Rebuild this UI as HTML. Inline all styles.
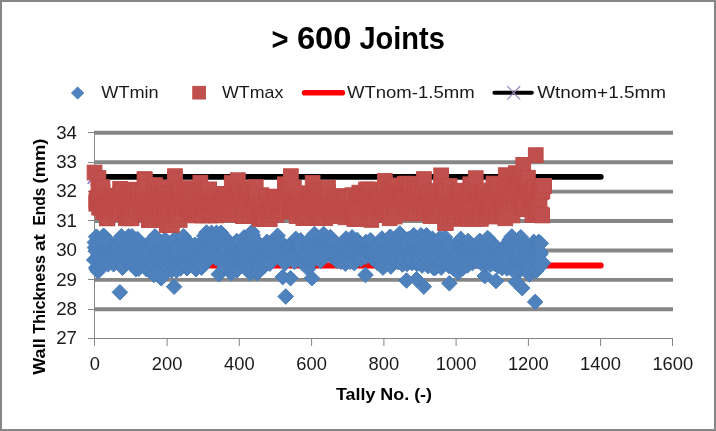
<!DOCTYPE html>
<html lang="en"><head><meta charset="utf-8"><title>&gt; 600 Joints</title>
<style>
html,body{margin:0;padding:0;background:#fff;}
body{width:716px;height:431px;overflow:hidden;}
svg{display:block;}
text{font-family:"Liberation Sans",Arial,sans-serif;fill:#000;}
svg{will-change:transform;}
.b{font-weight:bold;}
.g line{stroke:#868686;stroke-width:3.9;}
.ax line{stroke:#868686;stroke-width:1;}
.lab text{font-size:18.2px;fill:#1a1a1a;}
.leg text{font-size:16.6px;fill:#1a1a1a;}
.mn path{fill:#4F81BD;stroke:#4A7EBB;stroke-width:1;}
.mx rect{fill:#C0504D;stroke:#BE4B48;stroke-width:1;}
</style></head><body>
<svg width="716" height="431" viewBox="0 0 716 431">
<rect x="0" y="0" width="716" height="431" fill="#fff"/>
<rect x="1" y="1" width="714" height="429" fill="none" stroke="#868686" stroke-width="2"/>
<text class="b" y="48.8" font-size="31.8"><tspan x="271.5" dy="0.9" textLength="17" lengthAdjust="spacingAndGlyphs">&gt;</tspan><tspan x="296.9" dy="-0.9" textLength="54.6" lengthAdjust="spacingAndGlyphs">600</tspan><tspan x="359.4" textLength="85.4" lengthAdjust="spacingAndGlyphs">Joints</tspan></text>
<g class="leg">
<path d="M77.6 86.9 L83.7 93 L77.6 99.1 L71.5 93 Z" fill="#4F81BD" stroke="#4A7EBB" stroke-width="1"/>
<text x="101.3" y="98.2" textLength="57.4" lengthAdjust="spacingAndGlyphs">WTmin</text>
<rect x="192.8" y="86.4" width="12.6" height="12.6" fill="#C0504D" stroke="#BE4B48" stroke-width="1"/>
<text x="222.0" y="98.2" textLength="61.3" lengthAdjust="spacingAndGlyphs">WTmax</text>
<line x1="304.6" y1="92.7" x2="342.4" y2="92.7" stroke="#FF0000" stroke-width="5.6" stroke-linecap="round"/>
<text x="346.9" y="98.2" textLength="127.7" lengthAdjust="spacingAndGlyphs">WTnom-1.5mm</text>
<line x1="494.4" y1="92.7" x2="531.8" y2="92.7" stroke="#000" stroke-width="4.1" stroke-linecap="round"/>
<path d="M507.2 86 L520.2 99.6 M520.2 86 L507.2 99.6" stroke="#9a86bb" stroke-width="1.1" fill="none"/>
<text x="537.2" y="98.2" textLength="128.8" lengthAdjust="spacingAndGlyphs">Wtnom+1.5mm</text>
</g>
<g class="g">
<line x1="94" y1="309.3" x2="673" y2="309.3"/>
<line x1="94" y1="279.9" x2="673" y2="279.9"/>
<line x1="94" y1="250.5" x2="673" y2="250.5"/>
<line x1="94" y1="221" x2="673" y2="221"/>
<line x1="94" y1="191.6" x2="673" y2="191.6"/>
<line x1="94" y1="162.2" x2="673" y2="162.2"/>
<line x1="94" y1="132.8" x2="673" y2="132.8"/>
</g>
<g class="ax">
<line x1="94.5" y1="131" x2="94.5" y2="346"/>
<line x1="88" y1="338.5" x2="673" y2="338.5"/>
<line x1="88" y1="309.5" x2="94.5" y2="309.5"/>
<line x1="88" y1="279.5" x2="94.5" y2="279.5"/>
<line x1="88" y1="250.5" x2="94.5" y2="250.5"/>
<line x1="88" y1="220.5" x2="94.5" y2="220.5"/>
<line x1="88" y1="191.5" x2="94.5" y2="191.5"/>
<line x1="88" y1="162.5" x2="94.5" y2="162.5"/>
<line x1="88" y1="132.5" x2="94.5" y2="132.5"/>
<line x1="167.1" y1="338.5" x2="167.1" y2="346"/>
<line x1="239.3" y1="338.5" x2="239.3" y2="346"/>
<line x1="311.6" y1="338.5" x2="311.6" y2="346"/>
<line x1="383.9" y1="338.5" x2="383.9" y2="346"/>
<line x1="456.1" y1="338.5" x2="456.1" y2="346"/>
<line x1="528.4" y1="338.5" x2="528.4" y2="346"/>
<line x1="600.6" y1="338.5" x2="600.6" y2="346"/>
<line x1="672.5" y1="338.5" x2="672.5" y2="346"/>
</g>
<line x1="94.5" y1="265.5" x2="600.8" y2="265.5" stroke="#FF0000" stroke-width="5.8" stroke-linecap="round"/>
<line x1="94.5" y1="176.8" x2="600.8" y2="176.8" stroke="#000" stroke-width="5.8" stroke-linecap="round"/>
<path d="M87.6 169.9 L101.4 183.7 M101.4 169.9 L87.6 183.7" stroke="#7a68c6" stroke-width="1.5" fill="none"/>
<g class="mn">
<path d="M94.2 252.1l7.8 7.8l-7.8 7.8l-7.8 -7.8z"/>
<path d="M94.9 234.6l7.8 7.8l-7.8 7.8l-7.8 -7.8z"/>
<path d="M95.2 239.4l7.8 7.8l-7.8 7.8l-7.8 -7.8z"/>
<path d="M95.6 240.4l7.8 7.8l-7.8 7.8l-7.8 -7.8z"/>
<path d="M95.9 243.5l7.8 7.8l-7.8 7.8l-7.8 -7.8z"/>
<path d="M95.9 252l7.8 7.8l-7.8 7.8l-7.8 -7.8z"/>
<path d="M96.3 229l7.8 7.8l-7.8 7.8l-7.8 -7.8z"/>
<path d="M96.3 259.9l7.8 7.8l-7.8 7.8l-7.8 -7.8z"/>
<path d="M96.4 229l7.8 7.8l-7.8 7.8l-7.8 -7.8z"/>
<path d="M96.7 261.4l7.8 7.8l-7.8 7.8l-7.8 -7.8z"/>
<path d="M97 260.9l7.8 7.8l-7.8 7.8l-7.8 -7.8z"/>
<path d="M97.4 260.5l7.8 7.8l-7.8 7.8l-7.8 -7.8z"/>
<path d="M97.8 258.7l7.8 7.8l-7.8 7.8l-7.8 -7.8z"/>
<path d="M98 263.7l7.8 7.8l-7.8 7.8l-7.8 -7.8z"/>
<path d="M98.1 237.2l7.8 7.8l-7.8 7.8l-7.8 -7.8z"/>
<path d="M98.1 261.3l7.8 7.8l-7.8 7.8l-7.8 -7.8z"/>
<path d="M98.5 232l7.8 7.8l-7.8 7.8l-7.8 -7.8z"/>
<path d="M98.8 246.9l7.8 7.8l-7.8 7.8l-7.8 -7.8z"/>
<path d="M99.2 249.9l7.8 7.8l-7.8 7.8l-7.8 -7.8z"/>
<path d="M99.6 252.6l7.8 7.8l-7.8 7.8l-7.8 -7.8z"/>
<path d="M99.9 250.1l7.8 7.8l-7.8 7.8l-7.8 -7.8z"/>
<path d="M100.3 249.7l7.8 7.8l-7.8 7.8l-7.8 -7.8z"/>
<path d="M100.6 258.9l7.8 7.8l-7.8 7.8l-7.8 -7.8z"/>
<path d="M101 233.2l7.8 7.8l-7.8 7.8l-7.8 -7.8z"/>
<path d="M101.4 245.8l7.8 7.8l-7.8 7.8l-7.8 -7.8z"/>
<path d="M101.7 258.6l7.8 7.8l-7.8 7.8l-7.8 -7.8z"/>
<path d="M102.1 230.5l7.8 7.8l-7.8 7.8l-7.8 -7.8z"/>
<path d="M102.4 232.5l7.8 7.8l-7.8 7.8l-7.8 -7.8z"/>
<path d="M102.8 254.8l7.8 7.8l-7.8 7.8l-7.8 -7.8z"/>
<path d="M103.2 257.1l7.8 7.8l-7.8 7.8l-7.8 -7.8z"/>
<path d="M103.5 228.8l7.8 7.8l-7.8 7.8l-7.8 -7.8z"/>
<path d="M103.6 227.9l7.8 7.8l-7.8 7.8l-7.8 -7.8z"/>
<path d="M103.9 229.3l7.8 7.8l-7.8 7.8l-7.8 -7.8z"/>
<path d="M104.3 252.4l7.8 7.8l-7.8 7.8l-7.8 -7.8z"/>
<path d="M104.6 248.3l7.8 7.8l-7.8 7.8l-7.8 -7.8z"/>
<path d="M105 243.5l7.8 7.8l-7.8 7.8l-7.8 -7.8z"/>
<path d="M105.3 245.1l7.8 7.8l-7.8 7.8l-7.8 -7.8z"/>
<path d="M105.7 249.6l7.8 7.8l-7.8 7.8l-7.8 -7.8z"/>
<path d="M106.1 250.7l7.8 7.8l-7.8 7.8l-7.8 -7.8z"/>
<path d="M106.4 230.9l7.8 7.8l-7.8 7.8l-7.8 -7.8z"/>
<path d="M106.8 232.9l7.8 7.8l-7.8 7.8l-7.8 -7.8z"/>
<path d="M107.1 250.6l7.8 7.8l-7.8 7.8l-7.8 -7.8z"/>
<path d="M107.5 255.3l7.8 7.8l-7.8 7.8l-7.8 -7.8z"/>
<path d="M107.9 252.2l7.8 7.8l-7.8 7.8l-7.8 -7.8z"/>
<path d="M108 256.5l7.8 7.8l-7.8 7.8l-7.8 -7.8z"/>
<path d="M108.2 242.2l7.8 7.8l-7.8 7.8l-7.8 -7.8z"/>
<path d="M108.6 240.7l7.8 7.8l-7.8 7.8l-7.8 -7.8z"/>
<path d="M109 241l7.8 7.8l-7.8 7.8l-7.8 -7.8z"/>
<path d="M109.3 234.1l7.8 7.8l-7.8 7.8l-7.8 -7.8z"/>
<path d="M109.7 250l7.8 7.8l-7.8 7.8l-7.8 -7.8z"/>
<path d="M110 239.7l7.8 7.8l-7.8 7.8l-7.8 -7.8z"/>
<path d="M110.4 246l7.8 7.8l-7.8 7.8l-7.8 -7.8z"/>
<path d="M110.8 244.9l7.8 7.8l-7.8 7.8l-7.8 -7.8z"/>
<path d="M111.1 241.7l7.8 7.8l-7.8 7.8l-7.8 -7.8z"/>
<path d="M111.5 248.3l7.8 7.8l-7.8 7.8l-7.8 -7.8z"/>
<path d="M111.8 244.6l7.8 7.8l-7.8 7.8l-7.8 -7.8z"/>
<path d="M112.2 240.9l7.8 7.8l-7.8 7.8l-7.8 -7.8z"/>
<path d="M112.6 253.2l7.8 7.8l-7.8 7.8l-7.8 -7.8z"/>
<path d="M112.9 240.4l7.8 7.8l-7.8 7.8l-7.8 -7.8z"/>
<path d="M113.3 239.7l7.8 7.8l-7.8 7.8l-7.8 -7.8z"/>
<path d="M113.6 256.5l7.8 7.8l-7.8 7.8l-7.8 -7.8z"/>
<path d="M113.6 241.4l7.8 7.8l-7.8 7.8l-7.8 -7.8z"/>
<path d="M114 245.6l7.8 7.8l-7.8 7.8l-7.8 -7.8z"/>
<path d="M114.4 251.3l7.8 7.8l-7.8 7.8l-7.8 -7.8z"/>
<path d="M114.7 241.9l7.8 7.8l-7.8 7.8l-7.8 -7.8z"/>
<path d="M115.1 239.7l7.8 7.8l-7.8 7.8l-7.8 -7.8z"/>
<path d="M115.5 247.6l7.8 7.8l-7.8 7.8l-7.8 -7.8z"/>
<path d="M115.8 239.4l7.8 7.8l-7.8 7.8l-7.8 -7.8z"/>
<path d="M116.2 244.3l7.8 7.8l-7.8 7.8l-7.8 -7.8z"/>
<path d="M116.5 238.7l7.8 7.8l-7.8 7.8l-7.8 -7.8z"/>
<path d="M116.9 251.5l7.8 7.8l-7.8 7.8l-7.8 -7.8z"/>
<path d="M117.3 236.8l7.8 7.8l-7.8 7.8l-7.8 -7.8z"/>
<path d="M117.6 237.6l7.8 7.8l-7.8 7.8l-7.8 -7.8z"/>
<path d="M118 239l7.8 7.8l-7.8 7.8l-7.8 -7.8z"/>
<path d="M118.3 239.5l7.8 7.8l-7.8 7.8l-7.8 -7.8z"/>
<path d="M118.7 249.1l7.8 7.8l-7.8 7.8l-7.8 -7.8z"/>
<path d="M119.1 248l7.8 7.8l-7.8 7.8l-7.8 -7.8z"/>
<path d="M119.4 251.1l7.8 7.8l-7.8 7.8l-7.8 -7.8z"/>
<path d="M119.8 244.7l7.8 7.8l-7.8 7.8l-7.8 -7.8z"/>
<path d="M119.9 284.5l7.8 7.8l-7.8 7.8l-7.8 -7.8z"/>
<path d="M120.1 232.1l7.8 7.8l-7.8 7.8l-7.8 -7.8z"/>
<path d="M120.5 251l7.8 7.8l-7.8 7.8l-7.8 -7.8z"/>
<path d="M120.9 236.2l7.8 7.8l-7.8 7.8l-7.8 -7.8z"/>
<path d="M121.2 235.3l7.8 7.8l-7.8 7.8l-7.8 -7.8z"/>
<path d="M121.4 228.5l7.8 7.8l-7.8 7.8l-7.8 -7.8z"/>
<path d="M121.6 241.2l7.8 7.8l-7.8 7.8l-7.8 -7.8z"/>
<path d="M122 258.8l7.8 7.8l-7.8 7.8l-7.8 -7.8z"/>
<path d="M122.3 240.7l7.8 7.8l-7.8 7.8l-7.8 -7.8z"/>
<path d="M122.5 259.8l7.8 7.8l-7.8 7.8l-7.8 -7.8z"/>
<path d="M122.7 240.5l7.8 7.8l-7.8 7.8l-7.8 -7.8z"/>
<path d="M123 256.5l7.8 7.8l-7.8 7.8l-7.8 -7.8z"/>
<path d="M123.4 258.5l7.8 7.8l-7.8 7.8l-7.8 -7.8z"/>
<path d="M123.8 241.6l7.8 7.8l-7.8 7.8l-7.8 -7.8z"/>
<path d="M124.1 235l7.8 7.8l-7.8 7.8l-7.8 -7.8z"/>
<path d="M124.5 252.2l7.8 7.8l-7.8 7.8l-7.8 -7.8z"/>
<path d="M124.8 251.8l7.8 7.8l-7.8 7.8l-7.8 -7.8z"/>
<path d="M125.2 240.5l7.8 7.8l-7.8 7.8l-7.8 -7.8z"/>
<path d="M125.6 251.4l7.8 7.8l-7.8 7.8l-7.8 -7.8z"/>
<path d="M125.9 240.8l7.8 7.8l-7.8 7.8l-7.8 -7.8z"/>
<path d="M126.3 238.2l7.8 7.8l-7.8 7.8l-7.8 -7.8z"/>
<path d="M126.7 245.4l7.8 7.8l-7.8 7.8l-7.8 -7.8z"/>
<path d="M127 248.7l7.8 7.8l-7.8 7.8l-7.8 -7.8z"/>
<path d="M127.4 241.8l7.8 7.8l-7.8 7.8l-7.8 -7.8z"/>
<path d="M127.7 249.9l7.8 7.8l-7.8 7.8l-7.8 -7.8z"/>
<path d="M128.1 229.6l7.8 7.8l-7.8 7.8l-7.8 -7.8z"/>
<path d="M128.5 241.3l7.8 7.8l-7.8 7.8l-7.8 -7.8z"/>
<path d="M128.7 228.5l7.8 7.8l-7.8 7.8l-7.8 -7.8z"/>
<path d="M128.8 238.4l7.8 7.8l-7.8 7.8l-7.8 -7.8z"/>
<path d="M129.2 230.8l7.8 7.8l-7.8 7.8l-7.8 -7.8z"/>
<path d="M129.5 252.7l7.8 7.8l-7.8 7.8l-7.8 -7.8z"/>
<path d="M129.9 233.5l7.8 7.8l-7.8 7.8l-7.8 -7.8z"/>
<path d="M130.3 235.4l7.8 7.8l-7.8 7.8l-7.8 -7.8z"/>
<path d="M130.6 252.8l7.8 7.8l-7.8 7.8l-7.8 -7.8z"/>
<path d="M131 255.3l7.8 7.8l-7.8 7.8l-7.8 -7.8z"/>
<path d="M131.3 254.8l7.8 7.8l-7.8 7.8l-7.8 -7.8z"/>
<path d="M131.7 238.6l7.8 7.8l-7.8 7.8l-7.8 -7.8z"/>
<path d="M132 228.5l7.8 7.8l-7.8 7.8l-7.8 -7.8z"/>
<path d="M132.1 255.4l7.8 7.8l-7.8 7.8l-7.8 -7.8z"/>
<path d="M132.4 233.1l7.8 7.8l-7.8 7.8l-7.8 -7.8z"/>
<path d="M132.8 249.9l7.8 7.8l-7.8 7.8l-7.8 -7.8z"/>
<path d="M133.2 256.9l7.8 7.8l-7.8 7.8l-7.8 -7.8z"/>
<path d="M133.5 235.7l7.8 7.8l-7.8 7.8l-7.8 -7.8z"/>
<path d="M133.9 234.4l7.8 7.8l-7.8 7.8l-7.8 -7.8z"/>
<path d="M134.2 250.4l7.8 7.8l-7.8 7.8l-7.8 -7.8z"/>
<path d="M134.6 256.6l7.8 7.8l-7.8 7.8l-7.8 -7.8z"/>
<path d="M135 252.5l7.8 7.8l-7.8 7.8l-7.8 -7.8z"/>
<path d="M135.3 259.2l7.8 7.8l-7.8 7.8l-7.8 -7.8z"/>
<path d="M135.7 245.4l7.8 7.8l-7.8 7.8l-7.8 -7.8z"/>
<path d="M136 261.5l7.8 7.8l-7.8 7.8l-7.8 -7.8z"/>
<path d="M136 243.3l7.8 7.8l-7.8 7.8l-7.8 -7.8z"/>
<path d="M136.4 235.9l7.8 7.8l-7.8 7.8l-7.8 -7.8z"/>
<path d="M136.8 239.9l7.8 7.8l-7.8 7.8l-7.8 -7.8z"/>
<path d="M137.1 258.5l7.8 7.8l-7.8 7.8l-7.8 -7.8z"/>
<path d="M137.5 233.4l7.8 7.8l-7.8 7.8l-7.8 -7.8z"/>
<path d="M137.5 231.2l7.8 7.8l-7.8 7.8l-7.8 -7.8z"/>
<path d="M137.8 236.9l7.8 7.8l-7.8 7.8l-7.8 -7.8z"/>
<path d="M138.2 241.9l7.8 7.8l-7.8 7.8l-7.8 -7.8z"/>
<path d="M138.6 233.8l7.8 7.8l-7.8 7.8l-7.8 -7.8z"/>
<path d="M138.7 260.9l7.8 7.8l-7.8 7.8l-7.8 -7.8z"/>
<path d="M138.9 241.3l7.8 7.8l-7.8 7.8l-7.8 -7.8z"/>
<path d="M139.3 238.1l7.8 7.8l-7.8 7.8l-7.8 -7.8z"/>
<path d="M139.7 236.7l7.8 7.8l-7.8 7.8l-7.8 -7.8z"/>
<path d="M140 247.3l7.8 7.8l-7.8 7.8l-7.8 -7.8z"/>
<path d="M140.4 247.7l7.8 7.8l-7.8 7.8l-7.8 -7.8z"/>
<path d="M140.7 248.3l7.8 7.8l-7.8 7.8l-7.8 -7.8z"/>
<path d="M141.1 252.8l7.8 7.8l-7.8 7.8l-7.8 -7.8z"/>
<path d="M141.5 247.3l7.8 7.8l-7.8 7.8l-7.8 -7.8z"/>
<path d="M141.8 256.5l7.8 7.8l-7.8 7.8l-7.8 -7.8z"/>
<path d="M142.2 237.8l7.8 7.8l-7.8 7.8l-7.8 -7.8z"/>
<path d="M142.5 241.1l7.8 7.8l-7.8 7.8l-7.8 -7.8z"/>
<path d="M142.9 238.4l7.8 7.8l-7.8 7.8l-7.8 -7.8z"/>
<path d="M143.3 243.6l7.8 7.8l-7.8 7.8l-7.8 -7.8z"/>
<path d="M143.6 253.4l7.8 7.8l-7.8 7.8l-7.8 -7.8z"/>
<path d="M144 257.2l7.8 7.8l-7.8 7.8l-7.8 -7.8z"/>
<path d="M144.4 248.7l7.8 7.8l-7.8 7.8l-7.8 -7.8z"/>
<path d="M144.7 241.9l7.8 7.8l-7.8 7.8l-7.8 -7.8z"/>
<path d="M145.1 245.7l7.8 7.8l-7.8 7.8l-7.8 -7.8z"/>
<path d="M145.4 250.7l7.8 7.8l-7.8 7.8l-7.8 -7.8z"/>
<path d="M145.8 244.6l7.8 7.8l-7.8 7.8l-7.8 -7.8z"/>
<path d="M146.2 256.1l7.8 7.8l-7.8 7.8l-7.8 -7.8z"/>
<path d="M146.5 260.6l7.8 7.8l-7.8 7.8l-7.8 -7.8z"/>
<path d="M146.6 261.5l7.8 7.8l-7.8 7.8l-7.8 -7.8z"/>
<path d="M146.9 248l7.8 7.8l-7.8 7.8l-7.8 -7.8z"/>
<path d="M147.2 251.1l7.8 7.8l-7.8 7.8l-7.8 -7.8z"/>
<path d="M147.6 257l7.8 7.8l-7.8 7.8l-7.8 -7.8z"/>
<path d="M148 247.6l7.8 7.8l-7.8 7.8l-7.8 -7.8z"/>
<path d="M148.3 240.4l7.8 7.8l-7.8 7.8l-7.8 -7.8z"/>
<path d="M148.7 260.3l7.8 7.8l-7.8 7.8l-7.8 -7.8z"/>
<path d="M149 261.6l7.8 7.8l-7.8 7.8l-7.8 -7.8z"/>
<path d="M149.4 235l7.8 7.8l-7.8 7.8l-7.8 -7.8z"/>
<path d="M149.8 256.1l7.8 7.8l-7.8 7.8l-7.8 -7.8z"/>
<path d="M150.1 245.5l7.8 7.8l-7.8 7.8l-7.8 -7.8z"/>
<path d="M150.5 234.8l7.8 7.8l-7.8 7.8l-7.8 -7.8z"/>
<path d="M150.9 238l7.8 7.8l-7.8 7.8l-7.8 -7.8z"/>
<path d="M151.2 238l7.8 7.8l-7.8 7.8l-7.8 -7.8z"/>
<path d="M151.6 256.1l7.8 7.8l-7.8 7.8l-7.8 -7.8z"/>
<path d="M151.9 238.9l7.8 7.8l-7.8 7.8l-7.8 -7.8z"/>
<path d="M152.3 232.1l7.8 7.8l-7.8 7.8l-7.8 -7.8z"/>
<path d="M152.7 238.7l7.8 7.8l-7.8 7.8l-7.8 -7.8z"/>
<path d="M153 259.1l7.8 7.8l-7.8 7.8l-7.8 -7.8z"/>
<path d="M153.4 248.4l7.8 7.8l-7.8 7.8l-7.8 -7.8z"/>
<path d="M153.7 254.1l7.8 7.8l-7.8 7.8l-7.8 -7.8z"/>
<path d="M153.8 267.1l7.8 7.8l-7.8 7.8l-7.8 -7.8z"/>
<path d="M154.1 246.9l7.8 7.8l-7.8 7.8l-7.8 -7.8z"/>
<path d="M154.5 236l7.8 7.8l-7.8 7.8l-7.8 -7.8z"/>
<path d="M154.8 229.5l7.8 7.8l-7.8 7.8l-7.8 -7.8z"/>
<path d="M155 228.6l7.8 7.8l-7.8 7.8l-7.8 -7.8z"/>
<path d="M155.2 240.1l7.8 7.8l-7.8 7.8l-7.8 -7.8z"/>
<path d="M155.6 230.8l7.8 7.8l-7.8 7.8l-7.8 -7.8z"/>
<path d="M155.9 238.9l7.8 7.8l-7.8 7.8l-7.8 -7.8z"/>
<path d="M156.3 251.9l7.8 7.8l-7.8 7.8l-7.8 -7.8z"/>
<path d="M156.6 243.4l7.8 7.8l-7.8 7.8l-7.8 -7.8z"/>
<path d="M157 247.4l7.8 7.8l-7.8 7.8l-7.8 -7.8z"/>
<path d="M157.4 253.1l7.8 7.8l-7.8 7.8l-7.8 -7.8z"/>
<path d="M157.7 242.7l7.8 7.8l-7.8 7.8l-7.8 -7.8z"/>
<path d="M158.1 244.4l7.8 7.8l-7.8 7.8l-7.8 -7.8z"/>
<path d="M158.4 263.4l7.8 7.8l-7.8 7.8l-7.8 -7.8z"/>
<path d="M158.8 253.1l7.8 7.8l-7.8 7.8l-7.8 -7.8z"/>
<path d="M159.2 247.6l7.8 7.8l-7.8 7.8l-7.8 -7.8z"/>
<path d="M159.5 252.3l7.8 7.8l-7.8 7.8l-7.8 -7.8z"/>
<path d="M159.9 249.9l7.8 7.8l-7.8 7.8l-7.8 -7.8z"/>
<path d="M160.2 245.7l7.8 7.8l-7.8 7.8l-7.8 -7.8z"/>
<path d="M160.6 242.6l7.8 7.8l-7.8 7.8l-7.8 -7.8z"/>
<path d="M161 240.5l7.8 7.8l-7.8 7.8l-7.8 -7.8z"/>
<path d="M161.2 270.4l7.8 7.8l-7.8 7.8l-7.8 -7.8z"/>
<path d="M161.3 252.9l7.8 7.8l-7.8 7.8l-7.8 -7.8z"/>
<path d="M161.7 269.2l7.8 7.8l-7.8 7.8l-7.8 -7.8z"/>
<path d="M162.1 244.8l7.8 7.8l-7.8 7.8l-7.8 -7.8z"/>
<path d="M162.4 240.4l7.8 7.8l-7.8 7.8l-7.8 -7.8z"/>
<path d="M162.8 259.1l7.8 7.8l-7.8 7.8l-7.8 -7.8z"/>
<path d="M163.1 241.8l7.8 7.8l-7.8 7.8l-7.8 -7.8z"/>
<path d="M163.5 253.5l7.8 7.8l-7.8 7.8l-7.8 -7.8z"/>
<path d="M163.9 238.4l7.8 7.8l-7.8 7.8l-7.8 -7.8z"/>
<path d="M164.2 242.5l7.8 7.8l-7.8 7.8l-7.8 -7.8z"/>
<path d="M164.6 235.6l7.8 7.8l-7.8 7.8l-7.8 -7.8z"/>
<path d="M164.9 255.7l7.8 7.8l-7.8 7.8l-7.8 -7.8z"/>
<path d="M165 231.7l7.8 7.8l-7.8 7.8l-7.8 -7.8z"/>
<path d="M165.3 244l7.8 7.8l-7.8 7.8l-7.8 -7.8z"/>
<path d="M165.7 251.1l7.8 7.8l-7.8 7.8l-7.8 -7.8z"/>
<path d="M166 249.1l7.8 7.8l-7.8 7.8l-7.8 -7.8z"/>
<path d="M166.4 249.6l7.8 7.8l-7.8 7.8l-7.8 -7.8z"/>
<path d="M166.5 263.2l7.8 7.8l-7.8 7.8l-7.8 -7.8z"/>
<path d="M166.8 245.4l7.8 7.8l-7.8 7.8l-7.8 -7.8z"/>
<path d="M167.1 234l7.8 7.8l-7.8 7.8l-7.8 -7.8z"/>
<path d="M167.5 249l7.8 7.8l-7.8 7.8l-7.8 -7.8z"/>
<path d="M167.8 242.5l7.8 7.8l-7.8 7.8l-7.8 -7.8z"/>
<path d="M168.2 251.2l7.8 7.8l-7.8 7.8l-7.8 -7.8z"/>
<path d="M168.6 252.8l7.8 7.8l-7.8 7.8l-7.8 -7.8z"/>
<path d="M168.9 248.1l7.8 7.8l-7.8 7.8l-7.8 -7.8z"/>
<path d="M169.3 238.5l7.8 7.8l-7.8 7.8l-7.8 -7.8z"/>
<path d="M169.6 248.9l7.8 7.8l-7.8 7.8l-7.8 -7.8z"/>
<path d="M170 248.2l7.8 7.8l-7.8 7.8l-7.8 -7.8z"/>
<path d="M170.4 252.1l7.8 7.8l-7.8 7.8l-7.8 -7.8z"/>
<path d="M170.7 242.6l7.8 7.8l-7.8 7.8l-7.8 -7.8z"/>
<path d="M171.1 246.9l7.8 7.8l-7.8 7.8l-7.8 -7.8z"/>
<path d="M171.4 236.8l7.8 7.8l-7.8 7.8l-7.8 -7.8z"/>
<path d="M171.5 262.7l7.8 7.8l-7.8 7.8l-7.8 -7.8z"/>
<path d="M171.8 256.6l7.8 7.8l-7.8 7.8l-7.8 -7.8z"/>
<path d="M172.2 240.3l7.8 7.8l-7.8 7.8l-7.8 -7.8z"/>
<path d="M172.5 256.7l7.8 7.8l-7.8 7.8l-7.8 -7.8z"/>
<path d="M172.9 255.5l7.8 7.8l-7.8 7.8l-7.8 -7.8z"/>
<path d="M173.3 239.8l7.8 7.8l-7.8 7.8l-7.8 -7.8z"/>
<path d="M173.6 257.7l7.8 7.8l-7.8 7.8l-7.8 -7.8z"/>
<path d="M174 246.1l7.8 7.8l-7.8 7.8l-7.8 -7.8z"/>
<path d="M174.1 278.9l7.8 7.8l-7.8 7.8l-7.8 -7.8z"/>
<path d="M174.3 243.8l7.8 7.8l-7.8 7.8l-7.8 -7.8z"/>
<path d="M174.7 247.6l7.8 7.8l-7.8 7.8l-7.8 -7.8z"/>
<path d="M175.1 259.5l7.8 7.8l-7.8 7.8l-7.8 -7.8z"/>
<path d="M175.4 245.6l7.8 7.8l-7.8 7.8l-7.8 -7.8z"/>
<path d="M175.8 245.4l7.8 7.8l-7.8 7.8l-7.8 -7.8z"/>
<path d="M176 229.7l7.8 7.8l-7.8 7.8l-7.8 -7.8z"/>
<path d="M176.1 239.4l7.8 7.8l-7.8 7.8l-7.8 -7.8z"/>
<path d="M176.5 262.7l7.8 7.8l-7.8 7.8l-7.8 -7.8z"/>
<path d="M176.5 257.4l7.8 7.8l-7.8 7.8l-7.8 -7.8z"/>
<path d="M176.9 246.5l7.8 7.8l-7.8 7.8l-7.8 -7.8z"/>
<path d="M177.2 241.6l7.8 7.8l-7.8 7.8l-7.8 -7.8z"/>
<path d="M177.6 237.3l7.8 7.8l-7.8 7.8l-7.8 -7.8z"/>
<path d="M177.9 238.1l7.8 7.8l-7.8 7.8l-7.8 -7.8z"/>
<path d="M178.3 256l7.8 7.8l-7.8 7.8l-7.8 -7.8z"/>
<path d="M178.7 254.9l7.8 7.8l-7.8 7.8l-7.8 -7.8z"/>
<path d="M179 259.4l7.8 7.8l-7.8 7.8l-7.8 -7.8z"/>
<path d="M179.4 257.4l7.8 7.8l-7.8 7.8l-7.8 -7.8z"/>
<path d="M179.8 251.2l7.8 7.8l-7.8 7.8l-7.8 -7.8z"/>
<path d="M180.1 254.5l7.8 7.8l-7.8 7.8l-7.8 -7.8z"/>
<path d="M180.5 252.2l7.8 7.8l-7.8 7.8l-7.8 -7.8z"/>
<path d="M180.5 260.7l7.8 7.8l-7.8 7.8l-7.8 -7.8z"/>
<path d="M180.8 254.7l7.8 7.8l-7.8 7.8l-7.8 -7.8z"/>
<path d="M181.2 254.1l7.8 7.8l-7.8 7.8l-7.8 -7.8z"/>
<path d="M181.6 235.8l7.8 7.8l-7.8 7.8l-7.8 -7.8z"/>
<path d="M181.9 253.8l7.8 7.8l-7.8 7.8l-7.8 -7.8z"/>
<path d="M182.3 238.7l7.8 7.8l-7.8 7.8l-7.8 -7.8z"/>
<path d="M182.6 236.6l7.8 7.8l-7.8 7.8l-7.8 -7.8z"/>
<path d="M183 255.7l7.8 7.8l-7.8 7.8l-7.8 -7.8z"/>
<path d="M183.4 229.5l7.8 7.8l-7.8 7.8l-7.8 -7.8z"/>
<path d="M183.6 228.5l7.8 7.8l-7.8 7.8l-7.8 -7.8z"/>
<path d="M183.7 243.4l7.8 7.8l-7.8 7.8l-7.8 -7.8z"/>
<path d="M184.1 238.8l7.8 7.8l-7.8 7.8l-7.8 -7.8z"/>
<path d="M184.5 251.8l7.8 7.8l-7.8 7.8l-7.8 -7.8z"/>
<path d="M184.8 247.1l7.8 7.8l-7.8 7.8l-7.8 -7.8z"/>
<path d="M185.2 255.9l7.8 7.8l-7.8 7.8l-7.8 -7.8z"/>
<path d="M185.5 256.9l7.8 7.8l-7.8 7.8l-7.8 -7.8z"/>
<path d="M185.9 249.1l7.8 7.8l-7.8 7.8l-7.8 -7.8z"/>
<path d="M186.3 233.1l7.8 7.8l-7.8 7.8l-7.8 -7.8z"/>
<path d="M186.6 250.5l7.8 7.8l-7.8 7.8l-7.8 -7.8z"/>
<path d="M187 235.1l7.8 7.8l-7.8 7.8l-7.8 -7.8z"/>
<path d="M187 260.4l7.8 7.8l-7.8 7.8l-7.8 -7.8z"/>
<path d="M187.3 259.4l7.8 7.8l-7.8 7.8l-7.8 -7.8z"/>
<path d="M187.7 256.1l7.8 7.8l-7.8 7.8l-7.8 -7.8z"/>
<path d="M188.1 241.2l7.8 7.8l-7.8 7.8l-7.8 -7.8z"/>
<path d="M188.4 238.2l7.8 7.8l-7.8 7.8l-7.8 -7.8z"/>
<path d="M188.8 250.9l7.8 7.8l-7.8 7.8l-7.8 -7.8z"/>
<path d="M189.1 252.3l7.8 7.8l-7.8 7.8l-7.8 -7.8z"/>
<path d="M189.5 257.4l7.8 7.8l-7.8 7.8l-7.8 -7.8z"/>
<path d="M189.9 248.9l7.8 7.8l-7.8 7.8l-7.8 -7.8z"/>
<path d="M190.2 238l7.8 7.8l-7.8 7.8l-7.8 -7.8z"/>
<path d="M190.6 250.9l7.8 7.8l-7.8 7.8l-7.8 -7.8z"/>
<path d="M191 237.2l7.8 7.8l-7.8 7.8l-7.8 -7.8z"/>
<path d="M191.3 254.1l7.8 7.8l-7.8 7.8l-7.8 -7.8z"/>
<path d="M191.7 252.4l7.8 7.8l-7.8 7.8l-7.8 -7.8z"/>
<path d="M192 253.1l7.8 7.8l-7.8 7.8l-7.8 -7.8z"/>
<path d="M192.4 255.3l7.8 7.8l-7.8 7.8l-7.8 -7.8z"/>
<path d="M192.8 249.4l7.8 7.8l-7.8 7.8l-7.8 -7.8z"/>
<path d="M193.1 257.4l7.8 7.8l-7.8 7.8l-7.8 -7.8z"/>
<path d="M193.5 251.3l7.8 7.8l-7.8 7.8l-7.8 -7.8z"/>
<path d="M193.8 248.2l7.8 7.8l-7.8 7.8l-7.8 -7.8z"/>
<path d="M194.2 245.8l7.8 7.8l-7.8 7.8l-7.8 -7.8z"/>
<path d="M194.6 245l7.8 7.8l-7.8 7.8l-7.8 -7.8z"/>
<path d="M194.9 237l7.8 7.8l-7.8 7.8l-7.8 -7.8z"/>
<path d="M195.3 240l7.8 7.8l-7.8 7.8l-7.8 -7.8z"/>
<path d="M195.7 255.9l7.8 7.8l-7.8 7.8l-7.8 -7.8z"/>
<path d="M195.9 261.5l7.8 7.8l-7.8 7.8l-7.8 -7.8z"/>
<path d="M196 241.3l7.8 7.8l-7.8 7.8l-7.8 -7.8z"/>
<path d="M196.4 251.9l7.8 7.8l-7.8 7.8l-7.8 -7.8z"/>
<path d="M196.7 254.7l7.8 7.8l-7.8 7.8l-7.8 -7.8z"/>
<path d="M197.1 252.2l7.8 7.8l-7.8 7.8l-7.8 -7.8z"/>
<path d="M197.5 247.3l7.8 7.8l-7.8 7.8l-7.8 -7.8z"/>
<path d="M197.8 241.7l7.8 7.8l-7.8 7.8l-7.8 -7.8z"/>
<path d="M198.2 240.2l7.8 7.8l-7.8 7.8l-7.8 -7.8z"/>
<path d="M198.5 237.7l7.8 7.8l-7.8 7.8l-7.8 -7.8z"/>
<path d="M198.9 249.2l7.8 7.8l-7.8 7.8l-7.8 -7.8z"/>
<path d="M199.3 249.9l7.8 7.8l-7.8 7.8l-7.8 -7.8z"/>
<path d="M199.6 256.3l7.8 7.8l-7.8 7.8l-7.8 -7.8z"/>
<path d="M200 240.2l7.8 7.8l-7.8 7.8l-7.8 -7.8z"/>
<path d="M200.3 256.5l7.8 7.8l-7.8 7.8l-7.8 -7.8z"/>
<path d="M200.7 256.4l7.8 7.8l-7.8 7.8l-7.8 -7.8z"/>
<path d="M201.1 238.7l7.8 7.8l-7.8 7.8l-7.8 -7.8z"/>
<path d="M201.4 258.2l7.8 7.8l-7.8 7.8l-7.8 -7.8z"/>
<path d="M201.5 259.8l7.8 7.8l-7.8 7.8l-7.8 -7.8z"/>
<path d="M201.8 248l7.8 7.8l-7.8 7.8l-7.8 -7.8z"/>
<path d="M202.2 257.9l7.8 7.8l-7.8 7.8l-7.8 -7.8z"/>
<path d="M202.5 251.9l7.8 7.8l-7.8 7.8l-7.8 -7.8z"/>
<path d="M202.9 238.4l7.8 7.8l-7.8 7.8l-7.8 -7.8z"/>
<path d="M203.2 236.4l7.8 7.8l-7.8 7.8l-7.8 -7.8z"/>
<path d="M203.6 243.3l7.8 7.8l-7.8 7.8l-7.8 -7.8z"/>
<path d="M204 241.9l7.8 7.8l-7.8 7.8l-7.8 -7.8z"/>
<path d="M204.3 228.1l7.8 7.8l-7.8 7.8l-7.8 -7.8z"/>
<path d="M204.7 252.4l7.8 7.8l-7.8 7.8l-7.8 -7.8z"/>
<path d="M205 242.3l7.8 7.8l-7.8 7.8l-7.8 -7.8z"/>
<path d="M205.4 240l7.8 7.8l-7.8 7.8l-7.8 -7.8z"/>
<path d="M205.8 247.8l7.8 7.8l-7.8 7.8l-7.8 -7.8z"/>
<path d="M206.1 232.7l7.8 7.8l-7.8 7.8l-7.8 -7.8z"/>
<path d="M206.5 230.8l7.8 7.8l-7.8 7.8l-7.8 -7.8z"/>
<path d="M206.5 224.7l7.8 7.8l-7.8 7.8l-7.8 -7.8z"/>
<path d="M206.8 242.1l7.8 7.8l-7.8 7.8l-7.8 -7.8z"/>
<path d="M207.2 232.4l7.8 7.8l-7.8 7.8l-7.8 -7.8z"/>
<path d="M207.6 235l7.8 7.8l-7.8 7.8l-7.8 -7.8z"/>
<path d="M207.9 228.2l7.8 7.8l-7.8 7.8l-7.8 -7.8z"/>
<path d="M208.3 228l7.8 7.8l-7.8 7.8l-7.8 -7.8z"/>
<path d="M208.7 236.1l7.8 7.8l-7.8 7.8l-7.8 -7.8z"/>
<path d="M209 251.7l7.8 7.8l-7.8 7.8l-7.8 -7.8z"/>
<path d="M209 240.4l7.8 7.8l-7.8 7.8l-7.8 -7.8z"/>
<path d="M209.4 250.5l7.8 7.8l-7.8 7.8l-7.8 -7.8z"/>
<path d="M209.7 242.6l7.8 7.8l-7.8 7.8l-7.8 -7.8z"/>
<path d="M210.1 236.7l7.8 7.8l-7.8 7.8l-7.8 -7.8z"/>
<path d="M210.5 236.2l7.8 7.8l-7.8 7.8l-7.8 -7.8z"/>
<path d="M210.8 231.6l7.8 7.8l-7.8 7.8l-7.8 -7.8z"/>
<path d="M211.2 237.1l7.8 7.8l-7.8 7.8l-7.8 -7.8z"/>
<path d="M211.5 225l7.8 7.8l-7.8 7.8l-7.8 -7.8z"/>
<path d="M211.5 248.6l7.8 7.8l-7.8 7.8l-7.8 -7.8z"/>
<path d="M211.9 228.4l7.8 7.8l-7.8 7.8l-7.8 -7.8z"/>
<path d="M212.3 235.9l7.8 7.8l-7.8 7.8l-7.8 -7.8z"/>
<path d="M212.6 241.5l7.8 7.8l-7.8 7.8l-7.8 -7.8z"/>
<path d="M213 243l7.8 7.8l-7.8 7.8l-7.8 -7.8z"/>
<path d="M213.4 238.6l7.8 7.8l-7.8 7.8l-7.8 -7.8z"/>
<path d="M213.7 240.8l7.8 7.8l-7.8 7.8l-7.8 -7.8z"/>
<path d="M214.1 247.3l7.8 7.8l-7.8 7.8l-7.8 -7.8z"/>
<path d="M214.4 246.9l7.8 7.8l-7.8 7.8l-7.8 -7.8z"/>
<path d="M214.5 247.9l7.8 7.8l-7.8 7.8l-7.8 -7.8z"/>
<path d="M214.8 232.5l7.8 7.8l-7.8 7.8l-7.8 -7.8z"/>
<path d="M215.2 239.1l7.8 7.8l-7.8 7.8l-7.8 -7.8z"/>
<path d="M215.5 250l7.8 7.8l-7.8 7.8l-7.8 -7.8z"/>
<path d="M215.9 238.8l7.8 7.8l-7.8 7.8l-7.8 -7.8z"/>
<path d="M216.2 230.2l7.8 7.8l-7.8 7.8l-7.8 -7.8z"/>
<path d="M216.5 225l7.8 7.8l-7.8 7.8l-7.8 -7.8z"/>
<path d="M216.6 245.1l7.8 7.8l-7.8 7.8l-7.8 -7.8z"/>
<path d="M217 227.1l7.8 7.8l-7.8 7.8l-7.8 -7.8z"/>
<path d="M217.3 229.9l7.8 7.8l-7.8 7.8l-7.8 -7.8z"/>
<path d="M217.7 240.6l7.8 7.8l-7.8 7.8l-7.8 -7.8z"/>
<path d="M218 233.8l7.8 7.8l-7.8 7.8l-7.8 -7.8z"/>
<path d="M218.4 245.7l7.8 7.8l-7.8 7.8l-7.8 -7.8z"/>
<path d="M218.8 246.2l7.8 7.8l-7.8 7.8l-7.8 -7.8z"/>
<path d="M218.8 266.5l7.8 7.8l-7.8 7.8l-7.8 -7.8z"/>
<path d="M219.1 235.5l7.8 7.8l-7.8 7.8l-7.8 -7.8z"/>
<path d="M219.5 247.7l7.8 7.8l-7.8 7.8l-7.8 -7.8z"/>
<path d="M219.9 244.5l7.8 7.8l-7.8 7.8l-7.8 -7.8z"/>
<path d="M220.2 246.3l7.8 7.8l-7.8 7.8l-7.8 -7.8z"/>
<path d="M220.5 249.7l7.8 7.8l-7.8 7.8l-7.8 -7.8z"/>
<path d="M220.6 239.1l7.8 7.8l-7.8 7.8l-7.8 -7.8z"/>
<path d="M220.9 238.3l7.8 7.8l-7.8 7.8l-7.8 -7.8z"/>
<path d="M221 225l7.8 7.8l-7.8 7.8l-7.8 -7.8z"/>
<path d="M221.3 228.7l7.8 7.8l-7.8 7.8l-7.8 -7.8z"/>
<path d="M221.7 240.2l7.8 7.8l-7.8 7.8l-7.8 -7.8z"/>
<path d="M222 255.2l7.8 7.8l-7.8 7.8l-7.8 -7.8z"/>
<path d="M222.4 253.5l7.8 7.8l-7.8 7.8l-7.8 -7.8z"/>
<path d="M222.7 228.6l7.8 7.8l-7.8 7.8l-7.8 -7.8z"/>
<path d="M223.1 229.4l7.8 7.8l-7.8 7.8l-7.8 -7.8z"/>
<path d="M223.5 235.8l7.8 7.8l-7.8 7.8l-7.8 -7.8z"/>
<path d="M223.8 249.1l7.8 7.8l-7.8 7.8l-7.8 -7.8z"/>
<path d="M224.2 241.6l7.8 7.8l-7.8 7.8l-7.8 -7.8z"/>
<path d="M224.6 232.6l7.8 7.8l-7.8 7.8l-7.8 -7.8z"/>
<path d="M224.9 242l7.8 7.8l-7.8 7.8l-7.8 -7.8z"/>
<path d="M225 259.7l7.8 7.8l-7.8 7.8l-7.8 -7.8z"/>
<path d="M225.3 246.6l7.8 7.8l-7.8 7.8l-7.8 -7.8z"/>
<path d="M225.6 252l7.8 7.8l-7.8 7.8l-7.8 -7.8z"/>
<path d="M226 242.2l7.8 7.8l-7.8 7.8l-7.8 -7.8z"/>
<path d="M226.4 249.9l7.8 7.8l-7.8 7.8l-7.8 -7.8z"/>
<path d="M226.7 251.2l7.8 7.8l-7.8 7.8l-7.8 -7.8z"/>
<path d="M227.1 249.6l7.8 7.8l-7.8 7.8l-7.8 -7.8z"/>
<path d="M227.4 233l7.8 7.8l-7.8 7.8l-7.8 -7.8z"/>
<path d="M227.8 253.2l7.8 7.8l-7.8 7.8l-7.8 -7.8z"/>
<path d="M228.2 236.2l7.8 7.8l-7.8 7.8l-7.8 -7.8z"/>
<path d="M228.5 234.3l7.8 7.8l-7.8 7.8l-7.8 -7.8z"/>
<path d="M228.9 247.2l7.8 7.8l-7.8 7.8l-7.8 -7.8z"/>
<path d="M229.2 233.9l7.8 7.8l-7.8 7.8l-7.8 -7.8z"/>
<path d="M229.6 235.9l7.8 7.8l-7.8 7.8l-7.8 -7.8z"/>
<path d="M230 245.8l7.8 7.8l-7.8 7.8l-7.8 -7.8z"/>
<path d="M230.3 248.5l7.8 7.8l-7.8 7.8l-7.8 -7.8z"/>
<path d="M230.7 238l7.8 7.8l-7.8 7.8l-7.8 -7.8z"/>
<path d="M231.1 263.7l7.8 7.8l-7.8 7.8l-7.8 -7.8z"/>
<path d="M231.2 265.4l7.8 7.8l-7.8 7.8l-7.8 -7.8z"/>
<path d="M231.4 260.7l7.8 7.8l-7.8 7.8l-7.8 -7.8z"/>
<path d="M231.8 249.9l7.8 7.8l-7.8 7.8l-7.8 -7.8z"/>
<path d="M232.1 252.8l7.8 7.8l-7.8 7.8l-7.8 -7.8z"/>
<path d="M232.5 245.3l7.8 7.8l-7.8 7.8l-7.8 -7.8z"/>
<path d="M232.9 263.2l7.8 7.8l-7.8 7.8l-7.8 -7.8z"/>
<path d="M233.2 240.2l7.8 7.8l-7.8 7.8l-7.8 -7.8z"/>
<path d="M233.6 244.6l7.8 7.8l-7.8 7.8l-7.8 -7.8z"/>
<path d="M233.9 242.1l7.8 7.8l-7.8 7.8l-7.8 -7.8z"/>
<path d="M234.3 258.6l7.8 7.8l-7.8 7.8l-7.8 -7.8z"/>
<path d="M234.7 248.9l7.8 7.8l-7.8 7.8l-7.8 -7.8z"/>
<path d="M235 246l7.8 7.8l-7.8 7.8l-7.8 -7.8z"/>
<path d="M235.4 245.3l7.8 7.8l-7.8 7.8l-7.8 -7.8z"/>
<path d="M235.7 258.4l7.8 7.8l-7.8 7.8l-7.8 -7.8z"/>
<path d="M236.1 241.2l7.8 7.8l-7.8 7.8l-7.8 -7.8z"/>
<path d="M236.5 256.2l7.8 7.8l-7.8 7.8l-7.8 -7.8z"/>
<path d="M236.8 233.3l7.8 7.8l-7.8 7.8l-7.8 -7.8z"/>
<path d="M236.8 262.6l7.8 7.8l-7.8 7.8l-7.8 -7.8z"/>
<path d="M236.8 254l7.8 7.8l-7.8 7.8l-7.8 -7.8z"/>
<path d="M237.2 246.5l7.8 7.8l-7.8 7.8l-7.8 -7.8z"/>
<path d="M237.6 244.3l7.8 7.8l-7.8 7.8l-7.8 -7.8z"/>
<path d="M237.9 246.3l7.8 7.8l-7.8 7.8l-7.8 -7.8z"/>
<path d="M238.3 246.7l7.8 7.8l-7.8 7.8l-7.8 -7.8z"/>
<path d="M238.6 243.2l7.8 7.8l-7.8 7.8l-7.8 -7.8z"/>
<path d="M239 250.7l7.8 7.8l-7.8 7.8l-7.8 -7.8z"/>
<path d="M239.4 244.9l7.8 7.8l-7.8 7.8l-7.8 -7.8z"/>
<path d="M239.7 241.8l7.8 7.8l-7.8 7.8l-7.8 -7.8z"/>
<path d="M240.1 253.4l7.8 7.8l-7.8 7.8l-7.8 -7.8z"/>
<path d="M240.4 245l7.8 7.8l-7.8 7.8l-7.8 -7.8z"/>
<path d="M240.8 245.1l7.8 7.8l-7.8 7.8l-7.8 -7.8z"/>
<path d="M241.2 255l7.8 7.8l-7.8 7.8l-7.8 -7.8z"/>
<path d="M241.5 243.9l7.8 7.8l-7.8 7.8l-7.8 -7.8z"/>
<path d="M241.9 241.5l7.8 7.8l-7.8 7.8l-7.8 -7.8z"/>
<path d="M242.3 254.6l7.8 7.8l-7.8 7.8l-7.8 -7.8z"/>
<path d="M242.6 256.9l7.8 7.8l-7.8 7.8l-7.8 -7.8z"/>
<path d="M243 252.1l7.8 7.8l-7.8 7.8l-7.8 -7.8z"/>
<path d="M243.3 241.7l7.8 7.8l-7.8 7.8l-7.8 -7.8z"/>
<path d="M243.5 258.2l7.8 7.8l-7.8 7.8l-7.8 -7.8z"/>
<path d="M243.7 249.3l7.8 7.8l-7.8 7.8l-7.8 -7.8z"/>
<path d="M244.1 251.4l7.8 7.8l-7.8 7.8l-7.8 -7.8z"/>
<path d="M244.1 229.6l7.8 7.8l-7.8 7.8l-7.8 -7.8z"/>
<path d="M244.4 238.7l7.8 7.8l-7.8 7.8l-7.8 -7.8z"/>
<path d="M244.8 251.6l7.8 7.8l-7.8 7.8l-7.8 -7.8z"/>
<path d="M245.1 258.6l7.8 7.8l-7.8 7.8l-7.8 -7.8z"/>
<path d="M245.5 250.2l7.8 7.8l-7.8 7.8l-7.8 -7.8z"/>
<path d="M245.9 250.7l7.8 7.8l-7.8 7.8l-7.8 -7.8z"/>
<path d="M246.2 243.6l7.8 7.8l-7.8 7.8l-7.8 -7.8z"/>
<path d="M246.6 250.5l7.8 7.8l-7.8 7.8l-7.8 -7.8z"/>
<path d="M246.9 236.7l7.8 7.8l-7.8 7.8l-7.8 -7.8z"/>
<path d="M247.3 254.6l7.8 7.8l-7.8 7.8l-7.8 -7.8z"/>
<path d="M247.7 246.9l7.8 7.8l-7.8 7.8l-7.8 -7.8z"/>
<path d="M248 262.3l7.8 7.8l-7.8 7.8l-7.8 -7.8z"/>
<path d="M248.4 240l7.8 7.8l-7.8 7.8l-7.8 -7.8z"/>
<path d="M248.8 253.3l7.8 7.8l-7.8 7.8l-7.8 -7.8z"/>
<path d="M249.1 227.8l7.8 7.8l-7.8 7.8l-7.8 -7.8z"/>
<path d="M249.5 242.4l7.8 7.8l-7.8 7.8l-7.8 -7.8z"/>
<path d="M249.8 255.8l7.8 7.8l-7.8 7.8l-7.8 -7.8z"/>
<path d="M250.2 236.2l7.8 7.8l-7.8 7.8l-7.8 -7.8z"/>
<path d="M250.3 265.4l7.8 7.8l-7.8 7.8l-7.8 -7.8z"/>
<path d="M250.6 249.8l7.8 7.8l-7.8 7.8l-7.8 -7.8z"/>
<path d="M250.9 234l7.8 7.8l-7.8 7.8l-7.8 -7.8z"/>
<path d="M251.3 240.6l7.8 7.8l-7.8 7.8l-7.8 -7.8z"/>
<path d="M251.6 263.7l7.8 7.8l-7.8 7.8l-7.8 -7.8z"/>
<path d="M252 224.1l7.8 7.8l-7.8 7.8l-7.8 -7.8z"/>
<path d="M252 232l7.8 7.8l-7.8 7.8l-7.8 -7.8z"/>
<path d="M252.4 259.8l7.8 7.8l-7.8 7.8l-7.8 -7.8z"/>
<path d="M252.7 227.2l7.8 7.8l-7.8 7.8l-7.8 -7.8z"/>
<path d="M253.1 247l7.8 7.8l-7.8 7.8l-7.8 -7.8z"/>
<path d="M253.5 255.6l7.8 7.8l-7.8 7.8l-7.8 -7.8z"/>
<path d="M253.8 256.2l7.8 7.8l-7.8 7.8l-7.8 -7.8z"/>
<path d="M254.2 240.5l7.8 7.8l-7.8 7.8l-7.8 -7.8z"/>
<path d="M254.5 248l7.8 7.8l-7.8 7.8l-7.8 -7.8z"/>
<path d="M254.9 252.8l7.8 7.8l-7.8 7.8l-7.8 -7.8z"/>
<path d="M255.3 254.9l7.8 7.8l-7.8 7.8l-7.8 -7.8z"/>
<path d="M255.6 254.7l7.8 7.8l-7.8 7.8l-7.8 -7.8z"/>
<path d="M256 249.1l7.8 7.8l-7.8 7.8l-7.8 -7.8z"/>
<path d="M256.3 237.6l7.8 7.8l-7.8 7.8l-7.8 -7.8z"/>
<path d="M256.7 254.3l7.8 7.8l-7.8 7.8l-7.8 -7.8z"/>
<path d="M257 265.4l7.8 7.8l-7.8 7.8l-7.8 -7.8z"/>
<path d="M257.1 249.4l7.8 7.8l-7.8 7.8l-7.8 -7.8z"/>
<path d="M257.4 248.8l7.8 7.8l-7.8 7.8l-7.8 -7.8z"/>
<path d="M257.8 264l7.8 7.8l-7.8 7.8l-7.8 -7.8z"/>
<path d="M258.1 235l7.8 7.8l-7.8 7.8l-7.8 -7.8z"/>
<path d="M258.5 256.5l7.8 7.8l-7.8 7.8l-7.8 -7.8z"/>
<path d="M258.9 241.6l7.8 7.8l-7.8 7.8l-7.8 -7.8z"/>
<path d="M259.2 254.4l7.8 7.8l-7.8 7.8l-7.8 -7.8z"/>
<path d="M259.6 261.1l7.8 7.8l-7.8 7.8l-7.8 -7.8z"/>
<path d="M260 240.5l7.8 7.8l-7.8 7.8l-7.8 -7.8z"/>
<path d="M260.3 249.2l7.8 7.8l-7.8 7.8l-7.8 -7.8z"/>
<path d="M260.7 248.1l7.8 7.8l-7.8 7.8l-7.8 -7.8z"/>
<path d="M261 247.1l7.8 7.8l-7.8 7.8l-7.8 -7.8z"/>
<path d="M261.4 238.2l7.8 7.8l-7.8 7.8l-7.8 -7.8z"/>
<path d="M261.8 250.6l7.8 7.8l-7.8 7.8l-7.8 -7.8z"/>
<path d="M262.1 257.4l7.8 7.8l-7.8 7.8l-7.8 -7.8z"/>
<path d="M262.5 251.3l7.8 7.8l-7.8 7.8l-7.8 -7.8z"/>
<path d="M262.8 242.1l7.8 7.8l-7.8 7.8l-7.8 -7.8z"/>
<path d="M263.2 254.5l7.8 7.8l-7.8 7.8l-7.8 -7.8z"/>
<path d="M263.5 259.2l7.8 7.8l-7.8 7.8l-7.8 -7.8z"/>
<path d="M263.6 245.5l7.8 7.8l-7.8 7.8l-7.8 -7.8z"/>
<path d="M263.9 239.4l7.8 7.8l-7.8 7.8l-7.8 -7.8z"/>
<path d="M264.3 249.7l7.8 7.8l-7.8 7.8l-7.8 -7.8z"/>
<path d="M264.6 246.4l7.8 7.8l-7.8 7.8l-7.8 -7.8z"/>
<path d="M265 247.5l7.8 7.8l-7.8 7.8l-7.8 -7.8z"/>
<path d="M265.4 257l7.8 7.8l-7.8 7.8l-7.8 -7.8z"/>
<path d="M265.7 247.6l7.8 7.8l-7.8 7.8l-7.8 -7.8z"/>
<path d="M266.1 255.5l7.8 7.8l-7.8 7.8l-7.8 -7.8z"/>
<path d="M266.5 242.3l7.8 7.8l-7.8 7.8l-7.8 -7.8z"/>
<path d="M266.8 250.6l7.8 7.8l-7.8 7.8l-7.8 -7.8z"/>
<path d="M267 234.1l7.8 7.8l-7.8 7.8l-7.8 -7.8z"/>
<path d="M267.2 236l7.8 7.8l-7.8 7.8l-7.8 -7.8z"/>
<path d="M267.5 240.9l7.8 7.8l-7.8 7.8l-7.8 -7.8z"/>
<path d="M267.9 248.6l7.8 7.8l-7.8 7.8l-7.8 -7.8z"/>
<path d="M268.3 248.5l7.8 7.8l-7.8 7.8l-7.8 -7.8z"/>
<path d="M268.6 251.4l7.8 7.8l-7.8 7.8l-7.8 -7.8z"/>
<path d="M269 243.3l7.8 7.8l-7.8 7.8l-7.8 -7.8z"/>
<path d="M269.3 241.5l7.8 7.8l-7.8 7.8l-7.8 -7.8z"/>
<path d="M269.7 243l7.8 7.8l-7.8 7.8l-7.8 -7.8z"/>
<path d="M269.8 255.9l7.8 7.8l-7.8 7.8l-7.8 -7.8z"/>
<path d="M270.1 246.3l7.8 7.8l-7.8 7.8l-7.8 -7.8z"/>
<path d="M270.4 235.7l7.8 7.8l-7.8 7.8l-7.8 -7.8z"/>
<path d="M270.8 242.3l7.8 7.8l-7.8 7.8l-7.8 -7.8z"/>
<path d="M271.2 247.6l7.8 7.8l-7.8 7.8l-7.8 -7.8z"/>
<path d="M271.5 237.1l7.8 7.8l-7.8 7.8l-7.8 -7.8z"/>
<path d="M271.9 240l7.8 7.8l-7.8 7.8l-7.8 -7.8z"/>
<path d="M272.2 250.8l7.8 7.8l-7.8 7.8l-7.8 -7.8z"/>
<path d="M272.6 251.6l7.8 7.8l-7.8 7.8l-7.8 -7.8z"/>
<path d="M273 237.7l7.8 7.8l-7.8 7.8l-7.8 -7.8z"/>
<path d="M273.3 235.9l7.8 7.8l-7.8 7.8l-7.8 -7.8z"/>
<path d="M273.7 234.3l7.8 7.8l-7.8 7.8l-7.8 -7.8z"/>
<path d="M274 233.3l7.8 7.8l-7.8 7.8l-7.8 -7.8z"/>
<path d="M274.4 247l7.8 7.8l-7.8 7.8l-7.8 -7.8z"/>
<path d="M274.8 245.6l7.8 7.8l-7.8 7.8l-7.8 -7.8z"/>
<path d="M275.1 235.8l7.8 7.8l-7.8 7.8l-7.8 -7.8z"/>
<path d="M275.5 239.9l7.8 7.8l-7.8 7.8l-7.8 -7.8z"/>
<path d="M275.8 243.6l7.8 7.8l-7.8 7.8l-7.8 -7.8z"/>
<path d="M276.2 230l7.8 7.8l-7.8 7.8l-7.8 -7.8z"/>
<path d="M276.6 245.4l7.8 7.8l-7.8 7.8l-7.8 -7.8z"/>
<path d="M276.9 245.8l7.8 7.8l-7.8 7.8l-7.8 -7.8z"/>
<path d="M277.3 232.6l7.8 7.8l-7.8 7.8l-7.8 -7.8z"/>
<path d="M277.6 227.9l7.8 7.8l-7.8 7.8l-7.8 -7.8z"/>
<path d="M277.7 242.2l7.8 7.8l-7.8 7.8l-7.8 -7.8z"/>
<path d="M278 242.5l7.8 7.8l-7.8 7.8l-7.8 -7.8z"/>
<path d="M278.4 235.6l7.8 7.8l-7.8 7.8l-7.8 -7.8z"/>
<path d="M278.7 246.8l7.8 7.8l-7.8 7.8l-7.8 -7.8z"/>
<path d="M279.1 233.9l7.8 7.8l-7.8 7.8l-7.8 -7.8z"/>
<path d="M279.5 239.4l7.8 7.8l-7.8 7.8l-7.8 -7.8z"/>
<path d="M279.8 236.6l7.8 7.8l-7.8 7.8l-7.8 -7.8z"/>
<path d="M280.2 239.5l7.8 7.8l-7.8 7.8l-7.8 -7.8z"/>
<path d="M280.5 247.3l7.8 7.8l-7.8 7.8l-7.8 -7.8z"/>
<path d="M280.9 242.8l7.8 7.8l-7.8 7.8l-7.8 -7.8z"/>
<path d="M281.3 244l7.8 7.8l-7.8 7.8l-7.8 -7.8z"/>
<path d="M281.6 251.9l7.8 7.8l-7.8 7.8l-7.8 -7.8z"/>
<path d="M282 236.9l7.8 7.8l-7.8 7.8l-7.8 -7.8z"/>
<path d="M282.4 237.3l7.8 7.8l-7.8 7.8l-7.8 -7.8z"/>
<path d="M282.7 269.3l7.8 7.8l-7.8 7.8l-7.8 -7.8z"/>
<path d="M282.7 245.6l7.8 7.8l-7.8 7.8l-7.8 -7.8z"/>
<path d="M283.1 236.5l7.8 7.8l-7.8 7.8l-7.8 -7.8z"/>
<path d="M283.4 253.3l7.8 7.8l-7.8 7.8l-7.8 -7.8z"/>
<path d="M283.8 241.1l7.8 7.8l-7.8 7.8l-7.8 -7.8z"/>
<path d="M284.2 243.5l7.8 7.8l-7.8 7.8l-7.8 -7.8z"/>
<path d="M284.5 243.6l7.8 7.8l-7.8 7.8l-7.8 -7.8z"/>
<path d="M284.9 252l7.8 7.8l-7.8 7.8l-7.8 -7.8z"/>
<path d="M285 255.7l7.8 7.8l-7.8 7.8l-7.8 -7.8z"/>
<path d="M285.2 253.6l7.8 7.8l-7.8 7.8l-7.8 -7.8z"/>
<path d="M285.6 248.8l7.8 7.8l-7.8 7.8l-7.8 -7.8z"/>
<path d="M285.7 288.7l7.8 7.8l-7.8 7.8l-7.8 -7.8z"/>
<path d="M286 239.5l7.8 7.8l-7.8 7.8l-7.8 -7.8z"/>
<path d="M286.3 243l7.8 7.8l-7.8 7.8l-7.8 -7.8z"/>
<path d="M286.7 249l7.8 7.8l-7.8 7.8l-7.8 -7.8z"/>
<path d="M287 241l7.8 7.8l-7.8 7.8l-7.8 -7.8z"/>
<path d="M287.4 251.3l7.8 7.8l-7.8 7.8l-7.8 -7.8z"/>
<path d="M287.8 250.9l7.8 7.8l-7.8 7.8l-7.8 -7.8z"/>
<path d="M288.1 241.7l7.8 7.8l-7.8 7.8l-7.8 -7.8z"/>
<path d="M288.5 243.4l7.8 7.8l-7.8 7.8l-7.8 -7.8z"/>
<path d="M288.9 241.2l7.8 7.8l-7.8 7.8l-7.8 -7.8z"/>
<path d="M289.2 247.5l7.8 7.8l-7.8 7.8l-7.8 -7.8z"/>
<path d="M289.6 238l7.8 7.8l-7.8 7.8l-7.8 -7.8z"/>
<path d="M289.9 246.5l7.8 7.8l-7.8 7.8l-7.8 -7.8z"/>
<path d="M290.3 237.5l7.8 7.8l-7.8 7.8l-7.8 -7.8z"/>
<path d="M290.5 270.4l7.8 7.8l-7.8 7.8l-7.8 -7.8z"/>
<path d="M290.7 248.1l7.8 7.8l-7.8 7.8l-7.8 -7.8z"/>
<path d="M291 243.9l7.8 7.8l-7.8 7.8l-7.8 -7.8z"/>
<path d="M291.4 244.6l7.8 7.8l-7.8 7.8l-7.8 -7.8z"/>
<path d="M291.7 236.7l7.8 7.8l-7.8 7.8l-7.8 -7.8z"/>
<path d="M292.1 235.6l7.8 7.8l-7.8 7.8l-7.8 -7.8z"/>
<path d="M292.5 240.7l7.8 7.8l-7.8 7.8l-7.8 -7.8z"/>
<path d="M292.8 252.2l7.8 7.8l-7.8 7.8l-7.8 -7.8z"/>
<path d="M293.2 245.2l7.8 7.8l-7.8 7.8l-7.8 -7.8z"/>
<path d="M293.5 250.5l7.8 7.8l-7.8 7.8l-7.8 -7.8z"/>
<path d="M293.9 234.3l7.8 7.8l-7.8 7.8l-7.8 -7.8z"/>
<path d="M294.3 234.8l7.8 7.8l-7.8 7.8l-7.8 -7.8z"/>
<path d="M294.4 254.2l7.8 7.8l-7.8 7.8l-7.8 -7.8z"/>
<path d="M294.6 232.8l7.8 7.8l-7.8 7.8l-7.8 -7.8z"/>
<path d="M295 246.9l7.8 7.8l-7.8 7.8l-7.8 -7.8z"/>
<path d="M295.4 235.4l7.8 7.8l-7.8 7.8l-7.8 -7.8z"/>
<path d="M295.7 237.1l7.8 7.8l-7.8 7.8l-7.8 -7.8z"/>
<path d="M295.8 231l7.8 7.8l-7.8 7.8l-7.8 -7.8z"/>
<path d="M296.1 245.4l7.8 7.8l-7.8 7.8l-7.8 -7.8z"/>
<path d="M296.4 245.9l7.8 7.8l-7.8 7.8l-7.8 -7.8z"/>
<path d="M296.8 238.4l7.8 7.8l-7.8 7.8l-7.8 -7.8z"/>
<path d="M297.2 241.3l7.8 7.8l-7.8 7.8l-7.8 -7.8z"/>
<path d="M297.5 238.1l7.8 7.8l-7.8 7.8l-7.8 -7.8z"/>
<path d="M297.9 243l7.8 7.8l-7.8 7.8l-7.8 -7.8z"/>
<path d="M298.2 239.8l7.8 7.8l-7.8 7.8l-7.8 -7.8z"/>
<path d="M298.6 240.2l7.8 7.8l-7.8 7.8l-7.8 -7.8z"/>
<path d="M299 238.6l7.8 7.8l-7.8 7.8l-7.8 -7.8z"/>
<path d="M299.3 239.4l7.8 7.8l-7.8 7.8l-7.8 -7.8z"/>
<path d="M299.7 238.6l7.8 7.8l-7.8 7.8l-7.8 -7.8z"/>
<path d="M300.1 233.7l7.8 7.8l-7.8 7.8l-7.8 -7.8z"/>
<path d="M300.4 239.3l7.8 7.8l-7.8 7.8l-7.8 -7.8z"/>
<path d="M300.7 232.6l7.8 7.8l-7.8 7.8l-7.8 -7.8z"/>
<path d="M300.8 245.1l7.8 7.8l-7.8 7.8l-7.8 -7.8z"/>
<path d="M301.1 238.7l7.8 7.8l-7.8 7.8l-7.8 -7.8z"/>
<path d="M301.5 235.9l7.8 7.8l-7.8 7.8l-7.8 -7.8z"/>
<path d="M301.9 251.4l7.8 7.8l-7.8 7.8l-7.8 -7.8z"/>
<path d="M302 254.7l7.8 7.8l-7.8 7.8l-7.8 -7.8z"/>
<path d="M302.2 244l7.8 7.8l-7.8 7.8l-7.8 -7.8z"/>
<path d="M302.6 245.2l7.8 7.8l-7.8 7.8l-7.8 -7.8z"/>
<path d="M302.9 241.4l7.8 7.8l-7.8 7.8l-7.8 -7.8z"/>
<path d="M303.3 253.7l7.8 7.8l-7.8 7.8l-7.8 -7.8z"/>
<path d="M303.7 251.3l7.8 7.8l-7.8 7.8l-7.8 -7.8z"/>
<path d="M304 249l7.8 7.8l-7.8 7.8l-7.8 -7.8z"/>
<path d="M304.4 250.1l7.8 7.8l-7.8 7.8l-7.8 -7.8z"/>
<path d="M304.7 250.9l7.8 7.8l-7.8 7.8l-7.8 -7.8z"/>
<path d="M305.1 246.8l7.8 7.8l-7.8 7.8l-7.8 -7.8z"/>
<path d="M305.5 244.8l7.8 7.8l-7.8 7.8l-7.8 -7.8z"/>
<path d="M305.8 244.2l7.8 7.8l-7.8 7.8l-7.8 -7.8z"/>
<path d="M306.2 246.9l7.8 7.8l-7.8 7.8l-7.8 -7.8z"/>
<path d="M306.6 246l7.8 7.8l-7.8 7.8l-7.8 -7.8z"/>
<path d="M306.9 247.5l7.8 7.8l-7.8 7.8l-7.8 -7.8z"/>
<path d="M307.3 247.7l7.8 7.8l-7.8 7.8l-7.8 -7.8z"/>
<path d="M307.6 254.6l7.8 7.8l-7.8 7.8l-7.8 -7.8z"/>
<path d="M308 257.8l7.8 7.8l-7.8 7.8l-7.8 -7.8z"/>
<path d="M308.1 261l7.8 7.8l-7.8 7.8l-7.8 -7.8z"/>
<path d="M308.4 238.8l7.8 7.8l-7.8 7.8l-7.8 -7.8z"/>
<path d="M308.7 232.8l7.8 7.8l-7.8 7.8l-7.8 -7.8z"/>
<path d="M309.1 240.2l7.8 7.8l-7.8 7.8l-7.8 -7.8z"/>
<path d="M309.4 232.3l7.8 7.8l-7.8 7.8l-7.8 -7.8z"/>
<path d="M309.8 253.4l7.8 7.8l-7.8 7.8l-7.8 -7.8z"/>
<path d="M310.2 248.1l7.8 7.8l-7.8 7.8l-7.8 -7.8z"/>
<path d="M310.5 238.3l7.8 7.8l-7.8 7.8l-7.8 -7.8z"/>
<path d="M310.9 235.3l7.8 7.8l-7.8 7.8l-7.8 -7.8z"/>
<path d="M311.2 254l7.8 7.8l-7.8 7.8l-7.8 -7.8z"/>
<path d="M311.6 252.7l7.8 7.8l-7.8 7.8l-7.8 -7.8z"/>
<path d="M311.9 270.4l7.8 7.8l-7.8 7.8l-7.8 -7.8z"/>
<path d="M312 248.1l7.8 7.8l-7.8 7.8l-7.8 -7.8z"/>
<path d="M312.3 248l7.8 7.8l-7.8 7.8l-7.8 -7.8z"/>
<path d="M312.7 249.1l7.8 7.8l-7.8 7.8l-7.8 -7.8z"/>
<path d="M313.1 240.6l7.8 7.8l-7.8 7.8l-7.8 -7.8z"/>
<path d="M313.4 238.6l7.8 7.8l-7.8 7.8l-7.8 -7.8z"/>
<path d="M313.8 242.6l7.8 7.8l-7.8 7.8l-7.8 -7.8z"/>
<path d="M314.1 251.5l7.8 7.8l-7.8 7.8l-7.8 -7.8z"/>
<path d="M314.5 226.2l7.8 7.8l-7.8 7.8l-7.8 -7.8z"/>
<path d="M314.5 249.8l7.8 7.8l-7.8 7.8l-7.8 -7.8z"/>
<path d="M314.9 228.7l7.8 7.8l-7.8 7.8l-7.8 -7.8z"/>
<path d="M315.2 233.7l7.8 7.8l-7.8 7.8l-7.8 -7.8z"/>
<path d="M315.6 241.5l7.8 7.8l-7.8 7.8l-7.8 -7.8z"/>
<path d="M315.9 240.8l7.8 7.8l-7.8 7.8l-7.8 -7.8z"/>
<path d="M316.3 235.7l7.8 7.8l-7.8 7.8l-7.8 -7.8z"/>
<path d="M316.7 249l7.8 7.8l-7.8 7.8l-7.8 -7.8z"/>
<path d="M317 240.8l7.8 7.8l-7.8 7.8l-7.8 -7.8z"/>
<path d="M317.4 230.9l7.8 7.8l-7.8 7.8l-7.8 -7.8z"/>
<path d="M317.8 229.9l7.8 7.8l-7.8 7.8l-7.8 -7.8z"/>
<path d="M318.1 233.1l7.8 7.8l-7.8 7.8l-7.8 -7.8z"/>
<path d="M318.5 238.4l7.8 7.8l-7.8 7.8l-7.8 -7.8z"/>
<path d="M318.8 243.9l7.8 7.8l-7.8 7.8l-7.8 -7.8z"/>
<path d="M319.2 233.1l7.8 7.8l-7.8 7.8l-7.8 -7.8z"/>
<path d="M319.6 242.6l7.8 7.8l-7.8 7.8l-7.8 -7.8z"/>
<path d="M319.9 251.1l7.8 7.8l-7.8 7.8l-7.8 -7.8z"/>
<path d="M320.3 239.8l7.8 7.8l-7.8 7.8l-7.8 -7.8z"/>
<path d="M320.5 253.2l7.8 7.8l-7.8 7.8l-7.8 -7.8z"/>
<path d="M320.6 247.3l7.8 7.8l-7.8 7.8l-7.8 -7.8z"/>
<path d="M321 242.9l7.8 7.8l-7.8 7.8l-7.8 -7.8z"/>
<path d="M321.4 242.3l7.8 7.8l-7.8 7.8l-7.8 -7.8z"/>
<path d="M321.7 232.3l7.8 7.8l-7.8 7.8l-7.8 -7.8z"/>
<path d="M322.1 238.8l7.8 7.8l-7.8 7.8l-7.8 -7.8z"/>
<path d="M322.4 248.7l7.8 7.8l-7.8 7.8l-7.8 -7.8z"/>
<path d="M322.8 243.1l7.8 7.8l-7.8 7.8l-7.8 -7.8z"/>
<path d="M323.2 231.9l7.8 7.8l-7.8 7.8l-7.8 -7.8z"/>
<path d="M323.5 237l7.8 7.8l-7.8 7.8l-7.8 -7.8z"/>
<path d="M323.6 226.2l7.8 7.8l-7.8 7.8l-7.8 -7.8z"/>
<path d="M323.9 239.2l7.8 7.8l-7.8 7.8l-7.8 -7.8z"/>
<path d="M324.3 234.5l7.8 7.8l-7.8 7.8l-7.8 -7.8z"/>
<path d="M324.6 239.8l7.8 7.8l-7.8 7.8l-7.8 -7.8z"/>
<path d="M325 240.9l7.8 7.8l-7.8 7.8l-7.8 -7.8z"/>
<path d="M325.3 228.4l7.8 7.8l-7.8 7.8l-7.8 -7.8z"/>
<path d="M325.7 232.7l7.8 7.8l-7.8 7.8l-7.8 -7.8z"/>
<path d="M326 247.7l7.8 7.8l-7.8 7.8l-7.8 -7.8z"/>
<path d="M326.1 241.1l7.8 7.8l-7.8 7.8l-7.8 -7.8z"/>
<path d="M326.4 233l7.8 7.8l-7.8 7.8l-7.8 -7.8z"/>
<path d="M326.8 230.8l7.8 7.8l-7.8 7.8l-7.8 -7.8z"/>
<path d="M327.1 242.5l7.8 7.8l-7.8 7.8l-7.8 -7.8z"/>
<path d="M327.5 235.5l7.8 7.8l-7.8 7.8l-7.8 -7.8z"/>
<path d="M327.9 245l7.8 7.8l-7.8 7.8l-7.8 -7.8z"/>
<path d="M328.2 239l7.8 7.8l-7.8 7.8l-7.8 -7.8z"/>
<path d="M328.6 232.5l7.8 7.8l-7.8 7.8l-7.8 -7.8z"/>
<path d="M329 240.4l7.8 7.8l-7.8 7.8l-7.8 -7.8z"/>
<path d="M329.3 234.5l7.8 7.8l-7.8 7.8l-7.8 -7.8z"/>
<path d="M329.7 243.6l7.8 7.8l-7.8 7.8l-7.8 -7.8z"/>
<path d="M330 242.3l7.8 7.8l-7.8 7.8l-7.8 -7.8z"/>
<path d="M330.3 229.2l7.8 7.8l-7.8 7.8l-7.8 -7.8z"/>
<path d="M330.4 243.1l7.8 7.8l-7.8 7.8l-7.8 -7.8z"/>
<path d="M330.8 230.8l7.8 7.8l-7.8 7.8l-7.8 -7.8z"/>
<path d="M331 248.2l7.8 7.8l-7.8 7.8l-7.8 -7.8z"/>
<path d="M331.1 230.8l7.8 7.8l-7.8 7.8l-7.8 -7.8z"/>
<path d="M331.5 244.1l7.8 7.8l-7.8 7.8l-7.8 -7.8z"/>
<path d="M331.8 233.3l7.8 7.8l-7.8 7.8l-7.8 -7.8z"/>
<path d="M332.2 234.7l7.8 7.8l-7.8 7.8l-7.8 -7.8z"/>
<path d="M332.6 232.1l7.8 7.8l-7.8 7.8l-7.8 -7.8z"/>
<path d="M332.9 234.7l7.8 7.8l-7.8 7.8l-7.8 -7.8z"/>
<path d="M333.3 240.3l7.8 7.8l-7.8 7.8l-7.8 -7.8z"/>
<path d="M333.6 248.9l7.8 7.8l-7.8 7.8l-7.8 -7.8z"/>
<path d="M334 238.5l7.8 7.8l-7.8 7.8l-7.8 -7.8z"/>
<path d="M334.4 237.8l7.8 7.8l-7.8 7.8l-7.8 -7.8z"/>
<path d="M334.7 247.8l7.8 7.8l-7.8 7.8l-7.8 -7.8z"/>
<path d="M335.1 237.3l7.8 7.8l-7.8 7.8l-7.8 -7.8z"/>
<path d="M335.5 245.2l7.8 7.8l-7.8 7.8l-7.8 -7.8z"/>
<path d="M335.8 245.3l7.8 7.8l-7.8 7.8l-7.8 -7.8z"/>
<path d="M336.2 251l7.8 7.8l-7.8 7.8l-7.8 -7.8z"/>
<path d="M336.5 236.3l7.8 7.8l-7.8 7.8l-7.8 -7.8z"/>
<path d="M336.9 245.5l7.8 7.8l-7.8 7.8l-7.8 -7.8z"/>
<path d="M337 253.1l7.8 7.8l-7.8 7.8l-7.8 -7.8z"/>
<path d="M337.3 242.6l7.8 7.8l-7.8 7.8l-7.8 -7.8z"/>
<path d="M337.6 249.6l7.8 7.8l-7.8 7.8l-7.8 -7.8z"/>
<path d="M338 240.8l7.8 7.8l-7.8 7.8l-7.8 -7.8z"/>
<path d="M338.3 247.6l7.8 7.8l-7.8 7.8l-7.8 -7.8z"/>
<path d="M338.7 240.3l7.8 7.8l-7.8 7.8l-7.8 -7.8z"/>
<path d="M339.1 244.8l7.8 7.8l-7.8 7.8l-7.8 -7.8z"/>
<path d="M339.4 251.8l7.8 7.8l-7.8 7.8l-7.8 -7.8z"/>
<path d="M339.8 240.8l7.8 7.8l-7.8 7.8l-7.8 -7.8z"/>
<path d="M340.1 241.2l7.8 7.8l-7.8 7.8l-7.8 -7.8z"/>
<path d="M340.5 252l7.8 7.8l-7.8 7.8l-7.8 -7.8z"/>
<path d="M340.9 247.9l7.8 7.8l-7.8 7.8l-7.8 -7.8z"/>
<path d="M341 254l7.8 7.8l-7.8 7.8l-7.8 -7.8z"/>
<path d="M341.2 236.8l7.8 7.8l-7.8 7.8l-7.8 -7.8z"/>
<path d="M341.6 238.6l7.8 7.8l-7.8 7.8l-7.8 -7.8z"/>
<path d="M342 239.2l7.8 7.8l-7.8 7.8l-7.8 -7.8z"/>
<path d="M342.3 239.8l7.8 7.8l-7.8 7.8l-7.8 -7.8z"/>
<path d="M342.7 250.1l7.8 7.8l-7.8 7.8l-7.8 -7.8z"/>
<path d="M343 247.5l7.8 7.8l-7.8 7.8l-7.8 -7.8z"/>
<path d="M343.4 253.3l7.8 7.8l-7.8 7.8l-7.8 -7.8z"/>
<path d="M343.8 247.2l7.8 7.8l-7.8 7.8l-7.8 -7.8z"/>
<path d="M344.1 246.4l7.8 7.8l-7.8 7.8l-7.8 -7.8z"/>
<path d="M344.5 241l7.8 7.8l-7.8 7.8l-7.8 -7.8z"/>
<path d="M344.8 248.6l7.8 7.8l-7.8 7.8l-7.8 -7.8z"/>
<path d="M345.2 243.4l7.8 7.8l-7.8 7.8l-7.8 -7.8z"/>
<path d="M345.4 255.9l7.8 7.8l-7.8 7.8l-7.8 -7.8z"/>
<path d="M345.6 232.7l7.8 7.8l-7.8 7.8l-7.8 -7.8z"/>
<path d="M345.9 242.9l7.8 7.8l-7.8 7.8l-7.8 -7.8z"/>
<path d="M346 230.7l7.8 7.8l-7.8 7.8l-7.8 -7.8z"/>
<path d="M346.3 240.3l7.8 7.8l-7.8 7.8l-7.8 -7.8z"/>
<path d="M346.7 243.7l7.8 7.8l-7.8 7.8l-7.8 -7.8z"/>
<path d="M347 232.9l7.8 7.8l-7.8 7.8l-7.8 -7.8z"/>
<path d="M347.4 232.8l7.8 7.8l-7.8 7.8l-7.8 -7.8z"/>
<path d="M347.7 253.1l7.8 7.8l-7.8 7.8l-7.8 -7.8z"/>
<path d="M348.1 240.4l7.8 7.8l-7.8 7.8l-7.8 -7.8z"/>
<path d="M348.5 239.7l7.8 7.8l-7.8 7.8l-7.8 -7.8z"/>
<path d="M348.8 235.9l7.8 7.8l-7.8 7.8l-7.8 -7.8z"/>
<path d="M349.2 244.7l7.8 7.8l-7.8 7.8l-7.8 -7.8z"/>
<path d="M349.5 251.6l7.8 7.8l-7.8 7.8l-7.8 -7.8z"/>
<path d="M349.9 235.9l7.8 7.8l-7.8 7.8l-7.8 -7.8z"/>
<path d="M350 254l7.8 7.8l-7.8 7.8l-7.8 -7.8z"/>
<path d="M350.3 242.6l7.8 7.8l-7.8 7.8l-7.8 -7.8z"/>
<path d="M350.6 242.2l7.8 7.8l-7.8 7.8l-7.8 -7.8z"/>
<path d="M351 247.7l7.8 7.8l-7.8 7.8l-7.8 -7.8z"/>
<path d="M351.3 242.9l7.8 7.8l-7.8 7.8l-7.8 -7.8z"/>
<path d="M351.7 235.5l7.8 7.8l-7.8 7.8l-7.8 -7.8z"/>
<path d="M352.1 234.2l7.8 7.8l-7.8 7.8l-7.8 -7.8z"/>
<path d="M352.1 229.6l7.8 7.8l-7.8 7.8l-7.8 -7.8z"/>
<path d="M352.4 246.9l7.8 7.8l-7.8 7.8l-7.8 -7.8z"/>
<path d="M352.8 232.3l7.8 7.8l-7.8 7.8l-7.8 -7.8z"/>
<path d="M353.2 250.9l7.8 7.8l-7.8 7.8l-7.8 -7.8z"/>
<path d="M353.5 231.9l7.8 7.8l-7.8 7.8l-7.8 -7.8z"/>
<path d="M353.9 235.9l7.8 7.8l-7.8 7.8l-7.8 -7.8z"/>
<path d="M354.2 242.7l7.8 7.8l-7.8 7.8l-7.8 -7.8z"/>
<path d="M354.3 255.3l7.8 7.8l-7.8 7.8l-7.8 -7.8z"/>
<path d="M354.6 251.3l7.8 7.8l-7.8 7.8l-7.8 -7.8z"/>
<path d="M355 246.2l7.8 7.8l-7.8 7.8l-7.8 -7.8z"/>
<path d="M355.3 248.7l7.8 7.8l-7.8 7.8l-7.8 -7.8z"/>
<path d="M355.7 248.9l7.8 7.8l-7.8 7.8l-7.8 -7.8z"/>
<path d="M356 247.8l7.8 7.8l-7.8 7.8l-7.8 -7.8z"/>
<path d="M356.4 234l7.8 7.8l-7.8 7.8l-7.8 -7.8z"/>
<path d="M356.8 249.2l7.8 7.8l-7.8 7.8l-7.8 -7.8z"/>
<path d="M357 232.2l7.8 7.8l-7.8 7.8l-7.8 -7.8z"/>
<path d="M357.1 235.4l7.8 7.8l-7.8 7.8l-7.8 -7.8z"/>
<path d="M357.5 235.9l7.8 7.8l-7.8 7.8l-7.8 -7.8z"/>
<path d="M357.9 233.9l7.8 7.8l-7.8 7.8l-7.8 -7.8z"/>
<path d="M358.2 234.1l7.8 7.8l-7.8 7.8l-7.8 -7.8z"/>
<path d="M358.6 248.8l7.8 7.8l-7.8 7.8l-7.8 -7.8z"/>
<path d="M358.9 240.5l7.8 7.8l-7.8 7.8l-7.8 -7.8z"/>
<path d="M359.3 236l7.8 7.8l-7.8 7.8l-7.8 -7.8z"/>
<path d="M359.7 235.7l7.8 7.8l-7.8 7.8l-7.8 -7.8z"/>
<path d="M360 247.8l7.8 7.8l-7.8 7.8l-7.8 -7.8z"/>
<path d="M360.4 244.6l7.8 7.8l-7.8 7.8l-7.8 -7.8z"/>
<path d="M360.7 249.6l7.8 7.8l-7.8 7.8l-7.8 -7.8z"/>
<path d="M361 251.2l7.8 7.8l-7.8 7.8l-7.8 -7.8z"/>
<path d="M361.1 237l7.8 7.8l-7.8 7.8l-7.8 -7.8z"/>
<path d="M361.5 238.4l7.8 7.8l-7.8 7.8l-7.8 -7.8z"/>
<path d="M361.8 240.9l7.8 7.8l-7.8 7.8l-7.8 -7.8z"/>
<path d="M362.2 239.9l7.8 7.8l-7.8 7.8l-7.8 -7.8z"/>
<path d="M362.5 239.1l7.8 7.8l-7.8 7.8l-7.8 -7.8z"/>
<path d="M362.9 239.8l7.8 7.8l-7.8 7.8l-7.8 -7.8z"/>
<path d="M363.3 244.6l7.8 7.8l-7.8 7.8l-7.8 -7.8z"/>
<path d="M363.6 238.7l7.8 7.8l-7.8 7.8l-7.8 -7.8z"/>
<path d="M364 238.3l7.8 7.8l-7.8 7.8l-7.8 -7.8z"/>
<path d="M364.4 242.4l7.8 7.8l-7.8 7.8l-7.8 -7.8z"/>
<path d="M364.7 240.4l7.8 7.8l-7.8 7.8l-7.8 -7.8z"/>
<path d="M365.1 237.3l7.8 7.8l-7.8 7.8l-7.8 -7.8z"/>
<path d="M365.4 242.9l7.8 7.8l-7.8 7.8l-7.8 -7.8z"/>
<path d="M365.5 249.2l7.8 7.8l-7.8 7.8l-7.8 -7.8z"/>
<path d="M365.5 267.1l7.8 7.8l-7.8 7.8l-7.8 -7.8z"/>
<path d="M365.8 241.8l7.8 7.8l-7.8 7.8l-7.8 -7.8z"/>
<path d="M366 234.2l7.8 7.8l-7.8 7.8l-7.8 -7.8z"/>
<path d="M366.2 239.9l7.8 7.8l-7.8 7.8l-7.8 -7.8z"/>
<path d="M366.5 241.1l7.8 7.8l-7.8 7.8l-7.8 -7.8z"/>
<path d="M366.9 235.7l7.8 7.8l-7.8 7.8l-7.8 -7.8z"/>
<path d="M367.2 242.8l7.8 7.8l-7.8 7.8l-7.8 -7.8z"/>
<path d="M367.6 237.7l7.8 7.8l-7.8 7.8l-7.8 -7.8z"/>
<path d="M368 238.9l7.8 7.8l-7.8 7.8l-7.8 -7.8z"/>
<path d="M368.3 234.8l7.8 7.8l-7.8 7.8l-7.8 -7.8z"/>
<path d="M368.7 245.3l7.8 7.8l-7.8 7.8l-7.8 -7.8z"/>
<path d="M369.1 241.7l7.8 7.8l-7.8 7.8l-7.8 -7.8z"/>
<path d="M369.4 239.1l7.8 7.8l-7.8 7.8l-7.8 -7.8z"/>
<path d="M369.8 241.2l7.8 7.8l-7.8 7.8l-7.8 -7.8z"/>
<path d="M370.1 247.3l7.8 7.8l-7.8 7.8l-7.8 -7.8z"/>
<path d="M370.5 234.7l7.8 7.8l-7.8 7.8l-7.8 -7.8z"/>
<path d="M370.5 232.4l7.8 7.8l-7.8 7.8l-7.8 -7.8z"/>
<path d="M370.9 239l7.8 7.8l-7.8 7.8l-7.8 -7.8z"/>
<path d="M371.2 244.6l7.8 7.8l-7.8 7.8l-7.8 -7.8z"/>
<path d="M371.6 239.6l7.8 7.8l-7.8 7.8l-7.8 -7.8z"/>
<path d="M371.9 245.3l7.8 7.8l-7.8 7.8l-7.8 -7.8z"/>
<path d="M372 250.2l7.8 7.8l-7.8 7.8l-7.8 -7.8z"/>
<path d="M372.3 248.4l7.8 7.8l-7.8 7.8l-7.8 -7.8z"/>
<path d="M372.7 235.3l7.8 7.8l-7.8 7.8l-7.8 -7.8z"/>
<path d="M373 239.5l7.8 7.8l-7.8 7.8l-7.8 -7.8z"/>
<path d="M373.4 240l7.8 7.8l-7.8 7.8l-7.8 -7.8z"/>
<path d="M373.7 247.4l7.8 7.8l-7.8 7.8l-7.8 -7.8z"/>
<path d="M374.1 248.3l7.8 7.8l-7.8 7.8l-7.8 -7.8z"/>
<path d="M374.5 247.4l7.8 7.8l-7.8 7.8l-7.8 -7.8z"/>
<path d="M374.8 251.2l7.8 7.8l-7.8 7.8l-7.8 -7.8z"/>
<path d="M375.2 240.1l7.8 7.8l-7.8 7.8l-7.8 -7.8z"/>
<path d="M375.6 243.5l7.8 7.8l-7.8 7.8l-7.8 -7.8z"/>
<path d="M375.9 251l7.8 7.8l-7.8 7.8l-7.8 -7.8z"/>
<path d="M376.3 249.8l7.8 7.8l-7.8 7.8l-7.8 -7.8z"/>
<path d="M376.6 238.2l7.8 7.8l-7.8 7.8l-7.8 -7.8z"/>
<path d="M377 254.2l7.8 7.8l-7.8 7.8l-7.8 -7.8z"/>
<path d="M377 254.7l7.8 7.8l-7.8 7.8l-7.8 -7.8z"/>
<path d="M377.4 249.3l7.8 7.8l-7.8 7.8l-7.8 -7.8z"/>
<path d="M377.7 251.8l7.8 7.8l-7.8 7.8l-7.8 -7.8z"/>
<path d="M378.1 241.9l7.8 7.8l-7.8 7.8l-7.8 -7.8z"/>
<path d="M378.4 246.9l7.8 7.8l-7.8 7.8l-7.8 -7.8z"/>
<path d="M378.8 254.6l7.8 7.8l-7.8 7.8l-7.8 -7.8z"/>
<path d="M379.2 253.5l7.8 7.8l-7.8 7.8l-7.8 -7.8z"/>
<path d="M379.5 246.5l7.8 7.8l-7.8 7.8l-7.8 -7.8z"/>
<path d="M379.9 253.9l7.8 7.8l-7.8 7.8l-7.8 -7.8z"/>
<path d="M380.2 256.9l7.8 7.8l-7.8 7.8l-7.8 -7.8z"/>
<path d="M380.6 253.2l7.8 7.8l-7.8 7.8l-7.8 -7.8z"/>
<path d="M381 248.7l7.8 7.8l-7.8 7.8l-7.8 -7.8z"/>
<path d="M381.3 256.9l7.8 7.8l-7.8 7.8l-7.8 -7.8z"/>
<path d="M381.7 235l7.8 7.8l-7.8 7.8l-7.8 -7.8z"/>
<path d="M381.9 230.7l7.8 7.8l-7.8 7.8l-7.8 -7.8z"/>
<path d="M382.1 242.2l7.8 7.8l-7.8 7.8l-7.8 -7.8z"/>
<path d="M382.4 247l7.8 7.8l-7.8 7.8l-7.8 -7.8z"/>
<path d="M382.8 235.4l7.8 7.8l-7.8 7.8l-7.8 -7.8z"/>
<path d="M383 259.8l7.8 7.8l-7.8 7.8l-7.8 -7.8z"/>
<path d="M383.1 253.5l7.8 7.8l-7.8 7.8l-7.8 -7.8z"/>
<path d="M383.5 234.1l7.8 7.8l-7.8 7.8l-7.8 -7.8z"/>
<path d="M383.9 249.1l7.8 7.8l-7.8 7.8l-7.8 -7.8z"/>
<path d="M384.2 240.2l7.8 7.8l-7.8 7.8l-7.8 -7.8z"/>
<path d="M384.6 241.5l7.8 7.8l-7.8 7.8l-7.8 -7.8z"/>
<path d="M384.9 248.3l7.8 7.8l-7.8 7.8l-7.8 -7.8z"/>
<path d="M385.3 238.6l7.8 7.8l-7.8 7.8l-7.8 -7.8z"/>
<path d="M385.7 244.2l7.8 7.8l-7.8 7.8l-7.8 -7.8z"/>
<path d="M386 253.3l7.8 7.8l-7.8 7.8l-7.8 -7.8z"/>
<path d="M386.4 256l7.8 7.8l-7.8 7.8l-7.8 -7.8z"/>
<path d="M386.8 238.8l7.8 7.8l-7.8 7.8l-7.8 -7.8z"/>
<path d="M387.1 240.8l7.8 7.8l-7.8 7.8l-7.8 -7.8z"/>
<path d="M387.5 248.1l7.8 7.8l-7.8 7.8l-7.8 -7.8z"/>
<path d="M387.8 236.2l7.8 7.8l-7.8 7.8l-7.8 -7.8z"/>
<path d="M388.2 252.2l7.8 7.8l-7.8 7.8l-7.8 -7.8z"/>
<path d="M388.6 235.9l7.8 7.8l-7.8 7.8l-7.8 -7.8z"/>
<path d="M388.9 245.1l7.8 7.8l-7.8 7.8l-7.8 -7.8z"/>
<path d="M389.3 239.3l7.8 7.8l-7.8 7.8l-7.8 -7.8z"/>
<path d="M389.6 229.8l7.8 7.8l-7.8 7.8l-7.8 -7.8z"/>
<path d="M390 229.5l7.8 7.8l-7.8 7.8l-7.8 -7.8z"/>
<path d="M390.3 229l7.8 7.8l-7.8 7.8l-7.8 -7.8z"/>
<path d="M390.4 229.3l7.8 7.8l-7.8 7.8l-7.8 -7.8z"/>
<path d="M390.7 239.1l7.8 7.8l-7.8 7.8l-7.8 -7.8z"/>
<path d="M390.8 258.7l7.8 7.8l-7.8 7.8l-7.8 -7.8z"/>
<path d="M391.1 237.7l7.8 7.8l-7.8 7.8l-7.8 -7.8z"/>
<path d="M391.4 257.7l7.8 7.8l-7.8 7.8l-7.8 -7.8z"/>
<path d="M391.8 247.8l7.8 7.8l-7.8 7.8l-7.8 -7.8z"/>
<path d="M392.2 232.7l7.8 7.8l-7.8 7.8l-7.8 -7.8z"/>
<path d="M392.5 249.6l7.8 7.8l-7.8 7.8l-7.8 -7.8z"/>
<path d="M392.9 237.5l7.8 7.8l-7.8 7.8l-7.8 -7.8z"/>
<path d="M393.3 243.7l7.8 7.8l-7.8 7.8l-7.8 -7.8z"/>
<path d="M393.6 249.2l7.8 7.8l-7.8 7.8l-7.8 -7.8z"/>
<path d="M394 252l7.8 7.8l-7.8 7.8l-7.8 -7.8z"/>
<path d="M394.3 253.5l7.8 7.8l-7.8 7.8l-7.8 -7.8z"/>
<path d="M394.7 240.9l7.8 7.8l-7.8 7.8l-7.8 -7.8z"/>
<path d="M395.1 238.1l7.8 7.8l-7.8 7.8l-7.8 -7.8z"/>
<path d="M395.4 239.6l7.8 7.8l-7.8 7.8l-7.8 -7.8z"/>
<path d="M395.8 237.3l7.8 7.8l-7.8 7.8l-7.8 -7.8z"/>
<path d="M396.1 247.1l7.8 7.8l-7.8 7.8l-7.8 -7.8z"/>
<path d="M396.5 240.1l7.8 7.8l-7.8 7.8l-7.8 -7.8z"/>
<path d="M396.9 245.3l7.8 7.8l-7.8 7.8l-7.8 -7.8z"/>
<path d="M397.2 232.2l7.8 7.8l-7.8 7.8l-7.8 -7.8z"/>
<path d="M397.6 248.1l7.8 7.8l-7.8 7.8l-7.8 -7.8z"/>
<path d="M397.9 253.1l7.8 7.8l-7.8 7.8l-7.8 -7.8z"/>
<path d="M398 254.2l7.8 7.8l-7.8 7.8l-7.8 -7.8z"/>
<path d="M398.3 232.7l7.8 7.8l-7.8 7.8l-7.8 -7.8z"/>
<path d="M398.7 243.3l7.8 7.8l-7.8 7.8l-7.8 -7.8z"/>
<path d="M399 230.9l7.8 7.8l-7.8 7.8l-7.8 -7.8z"/>
<path d="M399.4 227.2l7.8 7.8l-7.8 7.8l-7.8 -7.8z"/>
<path d="M399.8 237.4l7.8 7.8l-7.8 7.8l-7.8 -7.8z"/>
<path d="M399.8 225.7l7.8 7.8l-7.8 7.8l-7.8 -7.8z"/>
<path d="M400.1 231.3l7.8 7.8l-7.8 7.8l-7.8 -7.8z"/>
<path d="M400.5 247l7.8 7.8l-7.8 7.8l-7.8 -7.8z"/>
<path d="M400.8 242.9l7.8 7.8l-7.8 7.8l-7.8 -7.8z"/>
<path d="M401.2 246.1l7.8 7.8l-7.8 7.8l-7.8 -7.8z"/>
<path d="M401.6 254.7l7.8 7.8l-7.8 7.8l-7.8 -7.8z"/>
<path d="M401.9 229.6l7.8 7.8l-7.8 7.8l-7.8 -7.8z"/>
<path d="M402.3 231.1l7.8 7.8l-7.8 7.8l-7.8 -7.8z"/>
<path d="M402.5 256.7l7.8 7.8l-7.8 7.8l-7.8 -7.8z"/>
<path d="M402.6 229.7l7.8 7.8l-7.8 7.8l-7.8 -7.8z"/>
<path d="M403 241.5l7.8 7.8l-7.8 7.8l-7.8 -7.8z"/>
<path d="M403.4 251.1l7.8 7.8l-7.8 7.8l-7.8 -7.8z"/>
<path d="M403.7 247.2l7.8 7.8l-7.8 7.8l-7.8 -7.8z"/>
<path d="M404.1 243.7l7.8 7.8l-7.8 7.8l-7.8 -7.8z"/>
<path d="M404.5 251.1l7.8 7.8l-7.8 7.8l-7.8 -7.8z"/>
<path d="M404.8 239.6l7.8 7.8l-7.8 7.8l-7.8 -7.8z"/>
<path d="M405.2 233.8l7.8 7.8l-7.8 7.8l-7.8 -7.8z"/>
<path d="M405.5 246.3l7.8 7.8l-7.8 7.8l-7.8 -7.8z"/>
<path d="M405.9 232.5l7.8 7.8l-7.8 7.8l-7.8 -7.8z"/>
<path d="M406.3 237.6l7.8 7.8l-7.8 7.8l-7.8 -7.8z"/>
<path d="M406.5 272.7l7.8 7.8l-7.8 7.8l-7.8 -7.8z"/>
<path d="M406.6 233.4l7.8 7.8l-7.8 7.8l-7.8 -7.8z"/>
<path d="M407 236.4l7.8 7.8l-7.8 7.8l-7.8 -7.8z"/>
<path d="M407 256.2l7.8 7.8l-7.8 7.8l-7.8 -7.8z"/>
<path d="M407.3 233.8l7.8 7.8l-7.8 7.8l-7.8 -7.8z"/>
<path d="M407.7 244.4l7.8 7.8l-7.8 7.8l-7.8 -7.8z"/>
<path d="M408.1 234.6l7.8 7.8l-7.8 7.8l-7.8 -7.8z"/>
<path d="M408.2 231.3l7.8 7.8l-7.8 7.8l-7.8 -7.8z"/>
<path d="M408.4 245.5l7.8 7.8l-7.8 7.8l-7.8 -7.8z"/>
<path d="M408.8 250.4l7.8 7.8l-7.8 7.8l-7.8 -7.8z"/>
<path d="M409.1 239.6l7.8 7.8l-7.8 7.8l-7.8 -7.8z"/>
<path d="M409.5 234.4l7.8 7.8l-7.8 7.8l-7.8 -7.8z"/>
<path d="M409.9 246l7.8 7.8l-7.8 7.8l-7.8 -7.8z"/>
<path d="M410.2 247.2l7.8 7.8l-7.8 7.8l-7.8 -7.8z"/>
<path d="M410.6 251l7.8 7.8l-7.8 7.8l-7.8 -7.8z"/>
<path d="M411 243.4l7.8 7.8l-7.8 7.8l-7.8 -7.8z"/>
<path d="M411.3 244.2l7.8 7.8l-7.8 7.8l-7.8 -7.8z"/>
<path d="M411.7 251.3l7.8 7.8l-7.8 7.8l-7.8 -7.8z"/>
<path d="M412 255.2l7.8 7.8l-7.8 7.8l-7.8 -7.8z"/>
<path d="M412 246.7l7.8 7.8l-7.8 7.8l-7.8 -7.8z"/>
<path d="M412.4 254l7.8 7.8l-7.8 7.8l-7.8 -7.8z"/>
<path d="M412.8 235.9l7.8 7.8l-7.8 7.8l-7.8 -7.8z"/>
<path d="M413.1 248.1l7.8 7.8l-7.8 7.8l-7.8 -7.8z"/>
<path d="M413.5 244.1l7.8 7.8l-7.8 7.8l-7.8 -7.8z"/>
<path d="M413.7 227.4l7.8 7.8l-7.8 7.8l-7.8 -7.8z"/>
<path d="M413.8 239.6l7.8 7.8l-7.8 7.8l-7.8 -7.8z"/>
<path d="M414.2 228.3l7.8 7.8l-7.8 7.8l-7.8 -7.8z"/>
<path d="M414.6 240.4l7.8 7.8l-7.8 7.8l-7.8 -7.8z"/>
<path d="M414.9 235.4l7.8 7.8l-7.8 7.8l-7.8 -7.8z"/>
<path d="M415.3 244.3l7.8 7.8l-7.8 7.8l-7.8 -7.8z"/>
<path d="M415.7 242.3l7.8 7.8l-7.8 7.8l-7.8 -7.8z"/>
<path d="M416 242.7l7.8 7.8l-7.8 7.8l-7.8 -7.8z"/>
<path d="M416.4 231.7l7.8 7.8l-7.8 7.8l-7.8 -7.8z"/>
<path d="M416.5 271.5l7.8 7.8l-7.8 7.8l-7.8 -7.8z"/>
<path d="M416.7 233.9l7.8 7.8l-7.8 7.8l-7.8 -7.8z"/>
<path d="M417 256.2l7.8 7.8l-7.8 7.8l-7.8 -7.8z"/>
<path d="M417.1 246.1l7.8 7.8l-7.8 7.8l-7.8 -7.8z"/>
<path d="M417.5 247.8l7.8 7.8l-7.8 7.8l-7.8 -7.8z"/>
<path d="M417.8 255l7.8 7.8l-7.8 7.8l-7.8 -7.8z"/>
<path d="M418.2 249.8l7.8 7.8l-7.8 7.8l-7.8 -7.8z"/>
<path d="M418.5 237.1l7.8 7.8l-7.8 7.8l-7.8 -7.8z"/>
<path d="M418.9 241l7.8 7.8l-7.8 7.8l-7.8 -7.8z"/>
<path d="M419.3 242.2l7.8 7.8l-7.8 7.8l-7.8 -7.8z"/>
<path d="M419.6 250l7.8 7.8l-7.8 7.8l-7.8 -7.8z"/>
<path d="M420 239.2l7.8 7.8l-7.8 7.8l-7.8 -7.8z"/>
<path d="M420.3 253.7l7.8 7.8l-7.8 7.8l-7.8 -7.8z"/>
<path d="M420.7 241.6l7.8 7.8l-7.8 7.8l-7.8 -7.8z"/>
<path d="M421 227.4l7.8 7.8l-7.8 7.8l-7.8 -7.8z"/>
<path d="M421.1 239.2l7.8 7.8l-7.8 7.8l-7.8 -7.8z"/>
<path d="M421.4 241.9l7.8 7.8l-7.8 7.8l-7.8 -7.8z"/>
<path d="M421.8 238.7l7.8 7.8l-7.8 7.8l-7.8 -7.8z"/>
<path d="M422 257.7l7.8 7.8l-7.8 7.8l-7.8 -7.8z"/>
<path d="M422.2 257.4l7.8 7.8l-7.8 7.8l-7.8 -7.8z"/>
<path d="M422.5 230.4l7.8 7.8l-7.8 7.8l-7.8 -7.8z"/>
<path d="M422.9 240.3l7.8 7.8l-7.8 7.8l-7.8 -7.8z"/>
<path d="M423.2 231.9l7.8 7.8l-7.8 7.8l-7.8 -7.8z"/>
<path d="M423.6 247.6l7.8 7.8l-7.8 7.8l-7.8 -7.8z"/>
<path d="M423.8 278.8l7.8 7.8l-7.8 7.8l-7.8 -7.8z"/>
<path d="M424 234l7.8 7.8l-7.8 7.8l-7.8 -7.8z"/>
<path d="M424.3 233.6l7.8 7.8l-7.8 7.8l-7.8 -7.8z"/>
<path d="M424.7 240.2l7.8 7.8l-7.8 7.8l-7.8 -7.8z"/>
<path d="M425 244.8l7.8 7.8l-7.8 7.8l-7.8 -7.8z"/>
<path d="M425.4 249.1l7.8 7.8l-7.8 7.8l-7.8 -7.8z"/>
<path d="M425.8 240.6l7.8 7.8l-7.8 7.8l-7.8 -7.8z"/>
<path d="M426.1 236.3l7.8 7.8l-7.8 7.8l-7.8 -7.8z"/>
<path d="M426.5 238.3l7.8 7.8l-7.8 7.8l-7.8 -7.8z"/>
<path d="M426.6 227.4l7.8 7.8l-7.8 7.8l-7.8 -7.8z"/>
<path d="M426.9 253.7l7.8 7.8l-7.8 7.8l-7.8 -7.8z"/>
<path d="M427.2 234.4l7.8 7.8l-7.8 7.8l-7.8 -7.8z"/>
<path d="M427.6 228.9l7.8 7.8l-7.8 7.8l-7.8 -7.8z"/>
<path d="M427.9 254.7l7.8 7.8l-7.8 7.8l-7.8 -7.8z"/>
<path d="M428 258.2l7.8 7.8l-7.8 7.8l-7.8 -7.8z"/>
<path d="M428.3 243l7.8 7.8l-7.8 7.8l-7.8 -7.8z"/>
<path d="M428.7 233.3l7.8 7.8l-7.8 7.8l-7.8 -7.8z"/>
<path d="M429 233.6l7.8 7.8l-7.8 7.8l-7.8 -7.8z"/>
<path d="M429.4 253.8l7.8 7.8l-7.8 7.8l-7.8 -7.8z"/>
<path d="M429.7 249.9l7.8 7.8l-7.8 7.8l-7.8 -7.8z"/>
<path d="M430.1 232.7l7.8 7.8l-7.8 7.8l-7.8 -7.8z"/>
<path d="M430.5 248.6l7.8 7.8l-7.8 7.8l-7.8 -7.8z"/>
<path d="M430.8 237.2l7.8 7.8l-7.8 7.8l-7.8 -7.8z"/>
<path d="M431.2 243.5l7.8 7.8l-7.8 7.8l-7.8 -7.8z"/>
<path d="M431.5 247.8l7.8 7.8l-7.8 7.8l-7.8 -7.8z"/>
<path d="M431.9 233.1l7.8 7.8l-7.8 7.8l-7.8 -7.8z"/>
<path d="M432.3 257l7.8 7.8l-7.8 7.8l-7.8 -7.8z"/>
<path d="M432.5 231l7.8 7.8l-7.8 7.8l-7.8 -7.8z"/>
<path d="M432.6 240.6l7.8 7.8l-7.8 7.8l-7.8 -7.8z"/>
<path d="M433 235.6l7.8 7.8l-7.8 7.8l-7.8 -7.8z"/>
<path d="M433.4 253.7l7.8 7.8l-7.8 7.8l-7.8 -7.8z"/>
<path d="M433.7 235.4l7.8 7.8l-7.8 7.8l-7.8 -7.8z"/>
<path d="M433.8 260.4l7.8 7.8l-7.8 7.8l-7.8 -7.8z"/>
<path d="M434.1 233.7l7.8 7.8l-7.8 7.8l-7.8 -7.8z"/>
<path d="M434.4 250.4l7.8 7.8l-7.8 7.8l-7.8 -7.8z"/>
<path d="M434.8 245.6l7.8 7.8l-7.8 7.8l-7.8 -7.8z"/>
<path d="M435.2 256.6l7.8 7.8l-7.8 7.8l-7.8 -7.8z"/>
<path d="M435.5 254.2l7.8 7.8l-7.8 7.8l-7.8 -7.8z"/>
<path d="M435.7 259.8l7.8 7.8l-7.8 7.8l-7.8 -7.8z"/>
<path d="M435.9 239.6l7.8 7.8l-7.8 7.8l-7.8 -7.8z"/>
<path d="M436.2 235.2l7.8 7.8l-7.8 7.8l-7.8 -7.8z"/>
<path d="M436.6 248.8l7.8 7.8l-7.8 7.8l-7.8 -7.8z"/>
<path d="M437 245.1l7.8 7.8l-7.8 7.8l-7.8 -7.8z"/>
<path d="M437.3 240.6l7.8 7.8l-7.8 7.8l-7.8 -7.8z"/>
<path d="M437.7 255.6l7.8 7.8l-7.8 7.8l-7.8 -7.8z"/>
<path d="M438 237.5l7.8 7.8l-7.8 7.8l-7.8 -7.8z"/>
<path d="M438.4 248l7.8 7.8l-7.8 7.8l-7.8 -7.8z"/>
<path d="M438.8 233.5l7.8 7.8l-7.8 7.8l-7.8 -7.8z"/>
<path d="M439.1 255.6l7.8 7.8l-7.8 7.8l-7.8 -7.8z"/>
<path d="M439.5 256.6l7.8 7.8l-7.8 7.8l-7.8 -7.8z"/>
<path d="M439.9 247.7l7.8 7.8l-7.8 7.8l-7.8 -7.8z"/>
<path d="M440 230.2l7.8 7.8l-7.8 7.8l-7.8 -7.8z"/>
<path d="M440.2 239.6l7.8 7.8l-7.8 7.8l-7.8 -7.8z"/>
<path d="M440.6 251.3l7.8 7.8l-7.8 7.8l-7.8 -7.8z"/>
<path d="M440.9 256.7l7.8 7.8l-7.8 7.8l-7.8 -7.8z"/>
<path d="M441.2 259.8l7.8 7.8l-7.8 7.8l-7.8 -7.8z"/>
<path d="M441.3 253.8l7.8 7.8l-7.8 7.8l-7.8 -7.8z"/>
<path d="M441.7 233.1l7.8 7.8l-7.8 7.8l-7.8 -7.8z"/>
<path d="M442 245.7l7.8 7.8l-7.8 7.8l-7.8 -7.8z"/>
<path d="M442.4 235.8l7.8 7.8l-7.8 7.8l-7.8 -7.8z"/>
<path d="M442.7 246.2l7.8 7.8l-7.8 7.8l-7.8 -7.8z"/>
<path d="M443.1 256.4l7.8 7.8l-7.8 7.8l-7.8 -7.8z"/>
<path d="M443.5 253.8l7.8 7.8l-7.8 7.8l-7.8 -7.8z"/>
<path d="M443.8 237.3l7.8 7.8l-7.8 7.8l-7.8 -7.8z"/>
<path d="M444.2 244.9l7.8 7.8l-7.8 7.8l-7.8 -7.8z"/>
<path d="M444.6 238.3l7.8 7.8l-7.8 7.8l-7.8 -7.8z"/>
<path d="M444.9 234.1l7.8 7.8l-7.8 7.8l-7.8 -7.8z"/>
<path d="M445 229.4l7.8 7.8l-7.8 7.8l-7.8 -7.8z"/>
<path d="M445.3 249l7.8 7.8l-7.8 7.8l-7.8 -7.8z"/>
<path d="M445.6 249.2l7.8 7.8l-7.8 7.8l-7.8 -7.8z"/>
<path d="M446 238.8l7.8 7.8l-7.8 7.8l-7.8 -7.8z"/>
<path d="M446.4 241.2l7.8 7.8l-7.8 7.8l-7.8 -7.8z"/>
<path d="M446.7 248.3l7.8 7.8l-7.8 7.8l-7.8 -7.8z"/>
<path d="M447.1 249.5l7.8 7.8l-7.8 7.8l-7.8 -7.8z"/>
<path d="M447.4 243.3l7.8 7.8l-7.8 7.8l-7.8 -7.8z"/>
<path d="M447.8 235.2l7.8 7.8l-7.8 7.8l-7.8 -7.8z"/>
<path d="M448.2 235.1l7.8 7.8l-7.8 7.8l-7.8 -7.8z"/>
<path d="M448.5 237.2l7.8 7.8l-7.8 7.8l-7.8 -7.8z"/>
<path d="M448.9 253.7l7.8 7.8l-7.8 7.8l-7.8 -7.8z"/>
<path d="M449 258.2l7.8 7.8l-7.8 7.8l-7.8 -7.8z"/>
<path d="M449.2 245.7l7.8 7.8l-7.8 7.8l-7.8 -7.8z"/>
<path d="M449.4 275.5l7.8 7.8l-7.8 7.8l-7.8 -7.8z"/>
<path d="M449.6 249.2l7.8 7.8l-7.8 7.8l-7.8 -7.8z"/>
<path d="M450 242.7l7.8 7.8l-7.8 7.8l-7.8 -7.8z"/>
<path d="M450.3 243.2l7.8 7.8l-7.8 7.8l-7.8 -7.8z"/>
<path d="M450.7 239.2l7.8 7.8l-7.8 7.8l-7.8 -7.8z"/>
<path d="M451.1 257.5l7.8 7.8l-7.8 7.8l-7.8 -7.8z"/>
<path d="M451.4 249.6l7.8 7.8l-7.8 7.8l-7.8 -7.8z"/>
<path d="M451.8 239.2l7.8 7.8l-7.8 7.8l-7.8 -7.8z"/>
<path d="M452.1 252.5l7.8 7.8l-7.8 7.8l-7.8 -7.8z"/>
<path d="M452.5 250.5l7.8 7.8l-7.8 7.8l-7.8 -7.8z"/>
<path d="M452.9 251.2l7.8 7.8l-7.8 7.8l-7.8 -7.8z"/>
<path d="M453.2 255.1l7.8 7.8l-7.8 7.8l-7.8 -7.8z"/>
<path d="M453.5 260.7l7.8 7.8l-7.8 7.8l-7.8 -7.8z"/>
<path d="M453.6 251.7l7.8 7.8l-7.8 7.8l-7.8 -7.8z"/>
<path d="M453.9 257.8l7.8 7.8l-7.8 7.8l-7.8 -7.8z"/>
<path d="M454.3 260.3l7.8 7.8l-7.8 7.8l-7.8 -7.8z"/>
<path d="M454.7 247.1l7.8 7.8l-7.8 7.8l-7.8 -7.8z"/>
<path d="M455 253l7.8 7.8l-7.8 7.8l-7.8 -7.8z"/>
<path d="M455.4 246.2l7.8 7.8l-7.8 7.8l-7.8 -7.8z"/>
<path d="M455.8 247l7.8 7.8l-7.8 7.8l-7.8 -7.8z"/>
<path d="M456.1 245.8l7.8 7.8l-7.8 7.8l-7.8 -7.8z"/>
<path d="M456.5 253.4l7.8 7.8l-7.8 7.8l-7.8 -7.8z"/>
<path d="M456.8 245.2l7.8 7.8l-7.8 7.8l-7.8 -7.8z"/>
<path d="M457.2 245.1l7.8 7.8l-7.8 7.8l-7.8 -7.8z"/>
<path d="M457.6 259.7l7.8 7.8l-7.8 7.8l-7.8 -7.8z"/>
<path d="M457.9 258.5l7.8 7.8l-7.8 7.8l-7.8 -7.8z"/>
<path d="M458 264.8l7.8 7.8l-7.8 7.8l-7.8 -7.8z"/>
<path d="M458.3 254.5l7.8 7.8l-7.8 7.8l-7.8 -7.8z"/>
<path d="M458.6 259.2l7.8 7.8l-7.8 7.8l-7.8 -7.8z"/>
<path d="M459 244.9l7.8 7.8l-7.8 7.8l-7.8 -7.8z"/>
<path d="M459.4 252.4l7.8 7.8l-7.8 7.8l-7.8 -7.8z"/>
<path d="M459.7 240l7.8 7.8l-7.8 7.8l-7.8 -7.8z"/>
<path d="M460.1 241.6l7.8 7.8l-7.8 7.8l-7.8 -7.8z"/>
<path d="M460.4 234.7l7.8 7.8l-7.8 7.8l-7.8 -7.8z"/>
<path d="M460.8 231.1l7.8 7.8l-7.8 7.8l-7.8 -7.8z"/>
<path d="M460.8 255.7l7.8 7.8l-7.8 7.8l-7.8 -7.8z"/>
<path d="M461.2 259.1l7.8 7.8l-7.8 7.8l-7.8 -7.8z"/>
<path d="M461.5 240.8l7.8 7.8l-7.8 7.8l-7.8 -7.8z"/>
<path d="M461.9 243.1l7.8 7.8l-7.8 7.8l-7.8 -7.8z"/>
<path d="M462.3 235.9l7.8 7.8l-7.8 7.8l-7.8 -7.8z"/>
<path d="M462.6 236.9l7.8 7.8l-7.8 7.8l-7.8 -7.8z"/>
<path d="M463 250.4l7.8 7.8l-7.8 7.8l-7.8 -7.8z"/>
<path d="M463 260.2l7.8 7.8l-7.8 7.8l-7.8 -7.8z"/>
<path d="M463.3 256.9l7.8 7.8l-7.8 7.8l-7.8 -7.8z"/>
<path d="M463.7 236.3l7.8 7.8l-7.8 7.8l-7.8 -7.8z"/>
<path d="M464.1 240.7l7.8 7.8l-7.8 7.8l-7.8 -7.8z"/>
<path d="M464.4 252.9l7.8 7.8l-7.8 7.8l-7.8 -7.8z"/>
<path d="M464.8 240.4l7.8 7.8l-7.8 7.8l-7.8 -7.8z"/>
<path d="M465.1 255.2l7.8 7.8l-7.8 7.8l-7.8 -7.8z"/>
<path d="M465.5 243.6l7.8 7.8l-7.8 7.8l-7.8 -7.8z"/>
<path d="M465.9 245.9l7.8 7.8l-7.8 7.8l-7.8 -7.8z"/>
<path d="M466.2 239.7l7.8 7.8l-7.8 7.8l-7.8 -7.8z"/>
<path d="M466.6 241.2l7.8 7.8l-7.8 7.8l-7.8 -7.8z"/>
<path d="M466.9 244.1l7.8 7.8l-7.8 7.8l-7.8 -7.8z"/>
<path d="M467.3 240.6l7.8 7.8l-7.8 7.8l-7.8 -7.8z"/>
<path d="M467.5 257.6l7.8 7.8l-7.8 7.8l-7.8 -7.8z"/>
<path d="M467.7 250.9l7.8 7.8l-7.8 7.8l-7.8 -7.8z"/>
<path d="M468 234.2l7.8 7.8l-7.8 7.8l-7.8 -7.8z"/>
<path d="M468.1 233.3l7.8 7.8l-7.8 7.8l-7.8 -7.8z"/>
<path d="M468.4 248.3l7.8 7.8l-7.8 7.8l-7.8 -7.8z"/>
<path d="M468.8 251.8l7.8 7.8l-7.8 7.8l-7.8 -7.8z"/>
<path d="M469.1 241.4l7.8 7.8l-7.8 7.8l-7.8 -7.8z"/>
<path d="M469.5 238.8l7.8 7.8l-7.8 7.8l-7.8 -7.8z"/>
<path d="M469.8 237.6l7.8 7.8l-7.8 7.8l-7.8 -7.8z"/>
<path d="M470.2 237l7.8 7.8l-7.8 7.8l-7.8 -7.8z"/>
<path d="M470.6 250.5l7.8 7.8l-7.8 7.8l-7.8 -7.8z"/>
<path d="M470.9 247l7.8 7.8l-7.8 7.8l-7.8 -7.8z"/>
<path d="M471.3 236.9l7.8 7.8l-7.8 7.8l-7.8 -7.8z"/>
<path d="M471.6 244.8l7.8 7.8l-7.8 7.8l-7.8 -7.8z"/>
<path d="M472 247.7l7.8 7.8l-7.8 7.8l-7.8 -7.8z"/>
<path d="M472.4 243.2l7.8 7.8l-7.8 7.8l-7.8 -7.8z"/>
<path d="M472.5 255.2l7.8 7.8l-7.8 7.8l-7.8 -7.8z"/>
<path d="M472.7 238.7l7.8 7.8l-7.8 7.8l-7.8 -7.8z"/>
<path d="M473.1 245.2l7.8 7.8l-7.8 7.8l-7.8 -7.8z"/>
<path d="M473.5 244.2l7.8 7.8l-7.8 7.8l-7.8 -7.8z"/>
<path d="M473.8 253.3l7.8 7.8l-7.8 7.8l-7.8 -7.8z"/>
<path d="M474.2 244l7.8 7.8l-7.8 7.8l-7.8 -7.8z"/>
<path d="M474.5 251.9l7.8 7.8l-7.8 7.8l-7.8 -7.8z"/>
<path d="M474.9 250.7l7.8 7.8l-7.8 7.8l-7.8 -7.8z"/>
<path d="M475.3 246.1l7.8 7.8l-7.8 7.8l-7.8 -7.8z"/>
<path d="M475.6 239.2l7.8 7.8l-7.8 7.8l-7.8 -7.8z"/>
<path d="M476 249.1l7.8 7.8l-7.8 7.8l-7.8 -7.8z"/>
<path d="M476.3 238l7.8 7.8l-7.8 7.8l-7.8 -7.8z"/>
<path d="M476.7 245.4l7.8 7.8l-7.8 7.8l-7.8 -7.8z"/>
<path d="M477 253.1l7.8 7.8l-7.8 7.8l-7.8 -7.8z"/>
<path d="M477.1 237.5l7.8 7.8l-7.8 7.8l-7.8 -7.8z"/>
<path d="M477.4 237.1l7.8 7.8l-7.8 7.8l-7.8 -7.8z"/>
<path d="M477.8 242.1l7.8 7.8l-7.8 7.8l-7.8 -7.8z"/>
<path d="M478.1 237.5l7.8 7.8l-7.8 7.8l-7.8 -7.8z"/>
<path d="M478.5 252.4l7.8 7.8l-7.8 7.8l-7.8 -7.8z"/>
<path d="M478.9 245l7.8 7.8l-7.8 7.8l-7.8 -7.8z"/>
<path d="M479.2 251.3l7.8 7.8l-7.8 7.8l-7.8 -7.8z"/>
<path d="M479.6 252.8l7.8 7.8l-7.8 7.8l-7.8 -7.8z"/>
<path d="M479.8 233l7.8 7.8l-7.8 7.8l-7.8 -7.8z"/>
<path d="M480 249l7.8 7.8l-7.8 7.8l-7.8 -7.8z"/>
<path d="M480.3 247l7.8 7.8l-7.8 7.8l-7.8 -7.8z"/>
<path d="M480.7 243.8l7.8 7.8l-7.8 7.8l-7.8 -7.8z"/>
<path d="M481 255.2l7.8 7.8l-7.8 7.8l-7.8 -7.8z"/>
<path d="M481 250.4l7.8 7.8l-7.8 7.8l-7.8 -7.8z"/>
<path d="M481.4 248.1l7.8 7.8l-7.8 7.8l-7.8 -7.8z"/>
<path d="M481.8 238.1l7.8 7.8l-7.8 7.8l-7.8 -7.8z"/>
<path d="M482.1 245.3l7.8 7.8l-7.8 7.8l-7.8 -7.8z"/>
<path d="M482.5 243l7.8 7.8l-7.8 7.8l-7.8 -7.8z"/>
<path d="M482.8 244.4l7.8 7.8l-7.8 7.8l-7.8 -7.8z"/>
<path d="M483.2 247.7l7.8 7.8l-7.8 7.8l-7.8 -7.8z"/>
<path d="M483.6 247.3l7.8 7.8l-7.8 7.8l-7.8 -7.8z"/>
<path d="M483.9 245.1l7.8 7.8l-7.8 7.8l-7.8 -7.8z"/>
<path d="M484.3 249.6l7.8 7.8l-7.8 7.8l-7.8 -7.8z"/>
<path d="M484.7 250.5l7.8 7.8l-7.8 7.8l-7.8 -7.8z"/>
<path d="M484.8 268.2l7.8 7.8l-7.8 7.8l-7.8 -7.8z"/>
<path d="M485 234.9l7.8 7.8l-7.8 7.8l-7.8 -7.8z"/>
<path d="M485.4 235.8l7.8 7.8l-7.8 7.8l-7.8 -7.8z"/>
<path d="M485.7 233.3l7.8 7.8l-7.8 7.8l-7.8 -7.8z"/>
<path d="M486 255.7l7.8 7.8l-7.8 7.8l-7.8 -7.8z"/>
<path d="M486.1 235.6l7.8 7.8l-7.8 7.8l-7.8 -7.8z"/>
<path d="M486.5 254.1l7.8 7.8l-7.8 7.8l-7.8 -7.8z"/>
<path d="M486.8 238.4l7.8 7.8l-7.8 7.8l-7.8 -7.8z"/>
<path d="M487.2 241.1l7.8 7.8l-7.8 7.8l-7.8 -7.8z"/>
<path d="M487.5 241.4l7.8 7.8l-7.8 7.8l-7.8 -7.8z"/>
<path d="M487.6 230.2l7.8 7.8l-7.8 7.8l-7.8 -7.8z"/>
<path d="M487.9 243.8l7.8 7.8l-7.8 7.8l-7.8 -7.8z"/>
<path d="M488.3 237.5l7.8 7.8l-7.8 7.8l-7.8 -7.8z"/>
<path d="M488.6 249.5l7.8 7.8l-7.8 7.8l-7.8 -7.8z"/>
<path d="M489 239.5l7.8 7.8l-7.8 7.8l-7.8 -7.8z"/>
<path d="M489.3 251.8l7.8 7.8l-7.8 7.8l-7.8 -7.8z"/>
<path d="M489.7 251.2l7.8 7.8l-7.8 7.8l-7.8 -7.8z"/>
<path d="M490.1 232.8l7.8 7.8l-7.8 7.8l-7.8 -7.8z"/>
<path d="M490.4 245.9l7.8 7.8l-7.8 7.8l-7.8 -7.8z"/>
<path d="M490.5 256.7l7.8 7.8l-7.8 7.8l-7.8 -7.8z"/>
<path d="M490.8 235.7l7.8 7.8l-7.8 7.8l-7.8 -7.8z"/>
<path d="M491.2 253.3l7.8 7.8l-7.8 7.8l-7.8 -7.8z"/>
<path d="M491.5 235.7l7.8 7.8l-7.8 7.8l-7.8 -7.8z"/>
<path d="M491.9 240.1l7.8 7.8l-7.8 7.8l-7.8 -7.8z"/>
<path d="M492.2 250.2l7.8 7.8l-7.8 7.8l-7.8 -7.8z"/>
<path d="M492.6 246.6l7.8 7.8l-7.8 7.8l-7.8 -7.8z"/>
<path d="M493 248l7.8 7.8l-7.8 7.8l-7.8 -7.8z"/>
<path d="M493.3 243.6l7.8 7.8l-7.8 7.8l-7.8 -7.8z"/>
<path d="M493.7 246l7.8 7.8l-7.8 7.8l-7.8 -7.8z"/>
<path d="M494 240.5l7.8 7.8l-7.8 7.8l-7.8 -7.8z"/>
<path d="M494.4 245.6l7.8 7.8l-7.8 7.8l-7.8 -7.8z"/>
<path d="M494.5 255.7l7.8 7.8l-7.8 7.8l-7.8 -7.8z"/>
<path d="M494.8 242.1l7.8 7.8l-7.8 7.8l-7.8 -7.8z"/>
<path d="M495.1 249.6l7.8 7.8l-7.8 7.8l-7.8 -7.8z"/>
<path d="M495.5 240.1l7.8 7.8l-7.8 7.8l-7.8 -7.8z"/>
<path d="M495.8 241l7.8 7.8l-7.8 7.8l-7.8 -7.8z"/>
<path d="M496 273.2l7.8 7.8l-7.8 7.8l-7.8 -7.8z"/>
<path d="M496.2 242.4l7.8 7.8l-7.8 7.8l-7.8 -7.8z"/>
<path d="M496.6 248.5l7.8 7.8l-7.8 7.8l-7.8 -7.8z"/>
<path d="M496.9 249.7l7.8 7.8l-7.8 7.8l-7.8 -7.8z"/>
<path d="M497.3 240.1l7.8 7.8l-7.8 7.8l-7.8 -7.8z"/>
<path d="M497.7 257.5l7.8 7.8l-7.8 7.8l-7.8 -7.8z"/>
<path d="M498 258.2l7.8 7.8l-7.8 7.8l-7.8 -7.8z"/>
<path d="M498 255.2l7.8 7.8l-7.8 7.8l-7.8 -7.8z"/>
<path d="M498.4 247.4l7.8 7.8l-7.8 7.8l-7.8 -7.8z"/>
<path d="M498.7 244l7.8 7.8l-7.8 7.8l-7.8 -7.8z"/>
<path d="M499.1 254.4l7.8 7.8l-7.8 7.8l-7.8 -7.8z"/>
<path d="M499.5 257.1l7.8 7.8l-7.8 7.8l-7.8 -7.8z"/>
<path d="M499.8 243.9l7.8 7.8l-7.8 7.8l-7.8 -7.8z"/>
<path d="M500.2 253.9l7.8 7.8l-7.8 7.8l-7.8 -7.8z"/>
<path d="M500.5 255.2l7.8 7.8l-7.8 7.8l-7.8 -7.8z"/>
<path d="M500.9 257.8l7.8 7.8l-7.8 7.8l-7.8 -7.8z"/>
<path d="M501.3 243.5l7.8 7.8l-7.8 7.8l-7.8 -7.8z"/>
<path d="M501.6 241.5l7.8 7.8l-7.8 7.8l-7.8 -7.8z"/>
<path d="M502 242.2l7.8 7.8l-7.8 7.8l-7.8 -7.8z"/>
<path d="M502 260.2l7.8 7.8l-7.8 7.8l-7.8 -7.8z"/>
<path d="M502.4 243.2l7.8 7.8l-7.8 7.8l-7.8 -7.8z"/>
<path d="M502.7 257.2l7.8 7.8l-7.8 7.8l-7.8 -7.8z"/>
<path d="M503.1 257l7.8 7.8l-7.8 7.8l-7.8 -7.8z"/>
<path d="M503.4 247.4l7.8 7.8l-7.8 7.8l-7.8 -7.8z"/>
<path d="M503.8 239.6l7.8 7.8l-7.8 7.8l-7.8 -7.8z"/>
<path d="M504.2 244l7.8 7.8l-7.8 7.8l-7.8 -7.8z"/>
<path d="M504.5 241.4l7.8 7.8l-7.8 7.8l-7.8 -7.8z"/>
<path d="M504.9 250.5l7.8 7.8l-7.8 7.8l-7.8 -7.8z"/>
<path d="M505.2 252.2l7.8 7.8l-7.8 7.8l-7.8 -7.8z"/>
<path d="M505.6 253.8l7.8 7.8l-7.8 7.8l-7.8 -7.8z"/>
<path d="M506 245.5l7.8 7.8l-7.8 7.8l-7.8 -7.8z"/>
<path d="M506.3 246l7.8 7.8l-7.8 7.8l-7.8 -7.8z"/>
<path d="M506.7 246.3l7.8 7.8l-7.8 7.8l-7.8 -7.8z"/>
<path d="M507 260.7l7.8 7.8l-7.8 7.8l-7.8 -7.8z"/>
<path d="M507 243.6l7.8 7.8l-7.8 7.8l-7.8 -7.8z"/>
<path d="M507.4 245.5l7.8 7.8l-7.8 7.8l-7.8 -7.8z"/>
<path d="M507.8 251.3l7.8 7.8l-7.8 7.8l-7.8 -7.8z"/>
<path d="M508.1 251.7l7.8 7.8l-7.8 7.8l-7.8 -7.8z"/>
<path d="M508.5 240.9l7.8 7.8l-7.8 7.8l-7.8 -7.8z"/>
<path d="M508.9 247l7.8 7.8l-7.8 7.8l-7.8 -7.8z"/>
<path d="M509.2 235.4l7.8 7.8l-7.8 7.8l-7.8 -7.8z"/>
<path d="M509.6 232.3l7.8 7.8l-7.8 7.8l-7.8 -7.8z"/>
<path d="M509.9 241.8l7.8 7.8l-7.8 7.8l-7.8 -7.8z"/>
<path d="M510.3 240.9l7.8 7.8l-7.8 7.8l-7.8 -7.8z"/>
<path d="M510.7 231l7.8 7.8l-7.8 7.8l-7.8 -7.8z"/>
<path d="M511 232.1l7.8 7.8l-7.8 7.8l-7.8 -7.8z"/>
<path d="M511.4 242.7l7.8 7.8l-7.8 7.8l-7.8 -7.8z"/>
<path d="M511.7 259.4l7.8 7.8l-7.8 7.8l-7.8 -7.8z"/>
<path d="M511.8 228.7l7.8 7.8l-7.8 7.8l-7.8 -7.8z"/>
<path d="M512 261.7l7.8 7.8l-7.8 7.8l-7.8 -7.8z"/>
<path d="M512.1 256.2l7.8 7.8l-7.8 7.8l-7.8 -7.8z"/>
<path d="M512.5 230.5l7.8 7.8l-7.8 7.8l-7.8 -7.8z"/>
<path d="M512.8 239.6l7.8 7.8l-7.8 7.8l-7.8 -7.8z"/>
<path d="M513.2 241.3l7.8 7.8l-7.8 7.8l-7.8 -7.8z"/>
<path d="M513.5 239.7l7.8 7.8l-7.8 7.8l-7.8 -7.8z"/>
<path d="M513.9 234.9l7.8 7.8l-7.8 7.8l-7.8 -7.8z"/>
<path d="M514.3 247.8l7.8 7.8l-7.8 7.8l-7.8 -7.8z"/>
<path d="M514.6 254.5l7.8 7.8l-7.8 7.8l-7.8 -7.8z"/>
<path d="M515 242.2l7.8 7.8l-7.8 7.8l-7.8 -7.8z"/>
<path d="M515.4 237l7.8 7.8l-7.8 7.8l-7.8 -7.8z"/>
<path d="M515.7 235.5l7.8 7.8l-7.8 7.8l-7.8 -7.8z"/>
<path d="M516 274.1l7.8 7.8l-7.8 7.8l-7.8 -7.8z"/>
<path d="M516.1 233.5l7.8 7.8l-7.8 7.8l-7.8 -7.8z"/>
<path d="M516.4 253l7.8 7.8l-7.8 7.8l-7.8 -7.8z"/>
<path d="M516.8 239.5l7.8 7.8l-7.8 7.8l-7.8 -7.8z"/>
<path d="M517.2 252.4l7.8 7.8l-7.8 7.8l-7.8 -7.8z"/>
<path d="M517.5 254.4l7.8 7.8l-7.8 7.8l-7.8 -7.8z"/>
<path d="M517.9 234.8l7.8 7.8l-7.8 7.8l-7.8 -7.8z"/>
<path d="M518.2 237.5l7.8 7.8l-7.8 7.8l-7.8 -7.8z"/>
<path d="M518.6 241l7.8 7.8l-7.8 7.8l-7.8 -7.8z"/>
<path d="M519 254.6l7.8 7.8l-7.8 7.8l-7.8 -7.8z"/>
<path d="M519.3 253.8l7.8 7.8l-7.8 7.8l-7.8 -7.8z"/>
<path d="M519.7 240.2l7.8 7.8l-7.8 7.8l-7.8 -7.8z"/>
<path d="M520 262.7l7.8 7.8l-7.8 7.8l-7.8 -7.8z"/>
<path d="M520.1 244.8l7.8 7.8l-7.8 7.8l-7.8 -7.8z"/>
<path d="M520.4 241.4l7.8 7.8l-7.8 7.8l-7.8 -7.8z"/>
<path d="M520.8 244.8l7.8 7.8l-7.8 7.8l-7.8 -7.8z"/>
<path d="M520.8 229.4l7.8 7.8l-7.8 7.8l-7.8 -7.8z"/>
<path d="M521.1 254.9l7.8 7.8l-7.8 7.8l-7.8 -7.8z"/>
<path d="M521.5 238.3l7.8 7.8l-7.8 7.8l-7.8 -7.8z"/>
<path d="M521.9 255l7.8 7.8l-7.8 7.8l-7.8 -7.8z"/>
<path d="M522.2 280.3l7.8 7.8l-7.8 7.8l-7.8 -7.8z"/>
<path d="M522.2 258l7.8 7.8l-7.8 7.8l-7.8 -7.8z"/>
<path d="M522.6 248.5l7.8 7.8l-7.8 7.8l-7.8 -7.8z"/>
<path d="M522.9 258.8l7.8 7.8l-7.8 7.8l-7.8 -7.8z"/>
<path d="M523.3 258.6l7.8 7.8l-7.8 7.8l-7.8 -7.8z"/>
<path d="M523.7 237.3l7.8 7.8l-7.8 7.8l-7.8 -7.8z"/>
<path d="M524 260.8l7.8 7.8l-7.8 7.8l-7.8 -7.8z"/>
<path d="M524.4 238.8l7.8 7.8l-7.8 7.8l-7.8 -7.8z"/>
<path d="M524.7 256.3l7.8 7.8l-7.8 7.8l-7.8 -7.8z"/>
<path d="M525.1 237.3l7.8 7.8l-7.8 7.8l-7.8 -7.8z"/>
<path d="M525.5 242.8l7.8 7.8l-7.8 7.8l-7.8 -7.8z"/>
<path d="M525.8 247.1l7.8 7.8l-7.8 7.8l-7.8 -7.8z"/>
<path d="M526.2 258.7l7.8 7.8l-7.8 7.8l-7.8 -7.8z"/>
<path d="M526.6 254.6l7.8 7.8l-7.8 7.8l-7.8 -7.8z"/>
<path d="M526.9 241.4l7.8 7.8l-7.8 7.8l-7.8 -7.8z"/>
<path d="M527.3 261.4l7.8 7.8l-7.8 7.8l-7.8 -7.8z"/>
<path d="M527.6 260.9l7.8 7.8l-7.8 7.8l-7.8 -7.8z"/>
<path d="M528 251.2l7.8 7.8l-7.8 7.8l-7.8 -7.8z"/>
<path d="M528.4 238.5l7.8 7.8l-7.8 7.8l-7.8 -7.8z"/>
<path d="M528.7 245.6l7.8 7.8l-7.8 7.8l-7.8 -7.8z"/>
<path d="M529.1 246.1l7.8 7.8l-7.8 7.8l-7.8 -7.8z"/>
<path d="M529.4 250l7.8 7.8l-7.8 7.8l-7.8 -7.8z"/>
<path d="M529.5 266.7l7.8 7.8l-7.8 7.8l-7.8 -7.8z"/>
<path d="M529.8 264.6l7.8 7.8l-7.8 7.8l-7.8 -7.8z"/>
<path d="M530.2 254.5l7.8 7.8l-7.8 7.8l-7.8 -7.8z"/>
<path d="M530.5 260.5l7.8 7.8l-7.8 7.8l-7.8 -7.8z"/>
<path d="M530.9 239.1l7.8 7.8l-7.8 7.8l-7.8 -7.8z"/>
<path d="M531.3 243.6l7.8 7.8l-7.8 7.8l-7.8 -7.8z"/>
<path d="M531.6 256.9l7.8 7.8l-7.8 7.8l-7.8 -7.8z"/>
<path d="M532 245.5l7.8 7.8l-7.8 7.8l-7.8 -7.8z"/>
<path d="M532.3 242l7.8 7.8l-7.8 7.8l-7.8 -7.8z"/>
<path d="M532.7 237l7.8 7.8l-7.8 7.8l-7.8 -7.8z"/>
<path d="M533.1 236.3l7.8 7.8l-7.8 7.8l-7.8 -7.8z"/>
<path d="M533.4 246.1l7.8 7.8l-7.8 7.8l-7.8 -7.8z"/>
<path d="M533.7 234.1l7.8 7.8l-7.8 7.8l-7.8 -7.8z"/>
<path d="M533.8 249.6l7.8 7.8l-7.8 7.8l-7.8 -7.8z"/>
<path d="M534.1 245.6l7.8 7.8l-7.8 7.8l-7.8 -7.8z"/>
<path d="M534.5 250l7.8 7.8l-7.8 7.8l-7.8 -7.8z"/>
<path d="M534.9 243.1l7.8 7.8l-7.8 7.8l-7.8 -7.8z"/>
<path d="M535.2 294.1l7.8 7.8l-7.8 7.8l-7.8 -7.8z"/>
<path d="M535.2 236.2l7.8 7.8l-7.8 7.8l-7.8 -7.8z"/>
<path d="M535.6 254l7.8 7.8l-7.8 7.8l-7.8 -7.8z"/>
<path d="M535.9 245.4l7.8 7.8l-7.8 7.8l-7.8 -7.8z"/>
<path d="M536 263.2l7.8 7.8l-7.8 7.8l-7.8 -7.8z"/>
<path d="M536.3 249.5l7.8 7.8l-7.8 7.8l-7.8 -7.8z"/>
<path d="M536.7 246.1l7.8 7.8l-7.8 7.8l-7.8 -7.8z"/>
<path d="M537 243l7.8 7.8l-7.8 7.8l-7.8 -7.8z"/>
<path d="M537.4 236.9l7.8 7.8l-7.8 7.8l-7.8 -7.8z"/>
<path d="M537.8 242.9l7.8 7.8l-7.8 7.8l-7.8 -7.8z"/>
<path d="M538.1 242.6l7.8 7.8l-7.8 7.8l-7.8 -7.8z"/>
<path d="M538.5 237.5l7.8 7.8l-7.8 7.8l-7.8 -7.8z"/>
<path d="M538.7 234.1l7.8 7.8l-7.8 7.8l-7.8 -7.8z"/>
<path d="M538.8 235.2l7.8 7.8l-7.8 7.8l-7.8 -7.8z"/>
<path d="M539.2 246.8l7.8 7.8l-7.8 7.8l-7.8 -7.8z"/>
<path d="M539.3 245.2l7.8 7.8l-7.8 7.8l-7.8 -7.8z"/>
<path d="M539.5 259.2l7.8 7.8l-7.8 7.8l-7.8 -7.8z"/>
<path d="M539.6 235.6l7.8 7.8l-7.8 7.8l-7.8 -7.8z"/>
<path d="M539.9 256.3l7.8 7.8l-7.8 7.8l-7.8 -7.8z"/>
<path d="M540.2 235.9l7.8 7.8l-7.8 7.8l-7.8 -7.8z"/>
<path d="M540.3 244.1l7.8 7.8l-7.8 7.8l-7.8 -7.8z"/>
<path d="M540.6 246.1l7.8 7.8l-7.8 7.8l-7.8 -7.8z"/>
<path d="M540.8 235.6l7.8 7.8l-7.8 7.8l-7.8 -7.8z"/>
<path d="M541.2 253.5l7.8 7.8l-7.8 7.8l-7.8 -7.8z"/>
<path d="M542.8 255.2l7.8 7.8l-7.8 7.8l-7.8 -7.8z"/>
</g>
<g class="mx">
<rect x="87.2" y="165.2" width="14.7" height="14.7"/>
<rect x="89" y="194.3" width="14.7" height="14.7"/>
<rect x="89" y="196.4" width="14.7" height="14.7"/>
<rect x="89.3" y="190.9" width="14.7" height="14.7"/>
<rect x="89.7" y="191.4" width="14.7" height="14.7"/>
<rect x="90" y="195.7" width="14.7" height="14.7"/>
<rect x="90.4" y="195.3" width="14.7" height="14.7"/>
<rect x="90.8" y="192.2" width="14.7" height="14.7"/>
<rect x="91.1" y="170.6" width="14.7" height="14.7"/>
<rect x="91.1" y="184" width="14.7" height="14.7"/>
<rect x="91.5" y="190.4" width="14.7" height="14.7"/>
<rect x="91.8" y="200.3" width="14.7" height="14.7"/>
<rect x="91.8" y="190.1" width="14.7" height="14.7"/>
<rect x="92.2" y="193.3" width="14.7" height="14.7"/>
<rect x="92.6" y="189.2" width="14.7" height="14.7"/>
<rect x="92.9" y="185.7" width="14.7" height="14.7"/>
<rect x="93.3" y="200.1" width="14.7" height="14.7"/>
<rect x="93.7" y="200" width="14.7" height="14.7"/>
<rect x="94" y="196.9" width="14.7" height="14.7"/>
<rect x="94.4" y="194.3" width="14.7" height="14.7"/>
<rect x="94.7" y="186.4" width="14.7" height="14.7"/>
<rect x="95.1" y="184.7" width="14.7" height="14.7"/>
<rect x="95.1" y="179.9" width="14.7" height="14.7"/>
<rect x="95.5" y="191.9" width="14.7" height="14.7"/>
<rect x="95.7" y="204.8" width="14.7" height="14.7"/>
<rect x="95.8" y="189.6" width="14.7" height="14.7"/>
<rect x="96.2" y="200.8" width="14.7" height="14.7"/>
<rect x="96.5" y="194.9" width="14.7" height="14.7"/>
<rect x="96.9" y="202.1" width="14.7" height="14.7"/>
<rect x="97.3" y="194.7" width="14.7" height="14.7"/>
<rect x="97.6" y="203.9" width="14.7" height="14.7"/>
<rect x="98" y="202.1" width="14.7" height="14.7"/>
<rect x="98.3" y="188.5" width="14.7" height="14.7"/>
<rect x="98.7" y="191.9" width="14.7" height="14.7"/>
<rect x="99.1" y="203.2" width="14.7" height="14.7"/>
<rect x="99.4" y="196.1" width="14.7" height="14.7"/>
<rect x="99.6" y="210.9" width="14.7" height="14.7"/>
<rect x="99.8" y="210.3" width="14.7" height="14.7"/>
<rect x="99.8" y="210.9" width="14.7" height="14.7"/>
<rect x="100.1" y="210.9" width="14.7" height="14.7"/>
<rect x="100.2" y="195.5" width="14.7" height="14.7"/>
<rect x="100.5" y="189.8" width="14.7" height="14.7"/>
<rect x="100.9" y="199.6" width="14.7" height="14.7"/>
<rect x="101.2" y="202.3" width="14.7" height="14.7"/>
<rect x="101.6" y="193.3" width="14.7" height="14.7"/>
<rect x="102" y="190" width="14.7" height="14.7"/>
<rect x="102.3" y="194.4" width="14.7" height="14.7"/>
<rect x="102.7" y="205.6" width="14.7" height="14.7"/>
<rect x="103" y="201.9" width="14.7" height="14.7"/>
<rect x="103.4" y="190.6" width="14.7" height="14.7"/>
<rect x="103.8" y="192.9" width="14.7" height="14.7"/>
<rect x="104" y="188.3" width="14.7" height="14.7"/>
<rect x="104.1" y="190.3" width="14.7" height="14.7"/>
<rect x="104.5" y="189.6" width="14.7" height="14.7"/>
<rect x="104.9" y="202.6" width="14.7" height="14.7"/>
<rect x="105.2" y="191.6" width="14.7" height="14.7"/>
<rect x="105.6" y="198.4" width="14.7" height="14.7"/>
<rect x="105.9" y="196.4" width="14.7" height="14.7"/>
<rect x="106.3" y="191.9" width="14.7" height="14.7"/>
<rect x="106.7" y="201.5" width="14.7" height="14.7"/>
<rect x="107" y="190.8" width="14.7" height="14.7"/>
<rect x="107.4" y="199.9" width="14.7" height="14.7"/>
<rect x="107.7" y="190.6" width="14.7" height="14.7"/>
<rect x="108.1" y="195.9" width="14.7" height="14.7"/>
<rect x="108.5" y="192.3" width="14.7" height="14.7"/>
<rect x="108.8" y="193.3" width="14.7" height="14.7"/>
<rect x="109.2" y="205.7" width="14.7" height="14.7"/>
<rect x="109.3" y="206.4" width="14.7" height="14.7"/>
<rect x="109.5" y="202.7" width="14.7" height="14.7"/>
<rect x="109.9" y="193.9" width="14.7" height="14.7"/>
<rect x="110.3" y="204.2" width="14.7" height="14.7"/>
<rect x="110.6" y="192.2" width="14.7" height="14.7"/>
<rect x="111" y="195.5" width="14.7" height="14.7"/>
<rect x="111.4" y="203.6" width="14.7" height="14.7"/>
<rect x="111.7" y="199.9" width="14.7" height="14.7"/>
<rect x="112.1" y="190.3" width="14.7" height="14.7"/>
<rect x="112.4" y="206" width="14.7" height="14.7"/>
<rect x="112.8" y="186.9" width="14.7" height="14.7"/>
<rect x="112.8" y="181.5" width="14.7" height="14.7"/>
<rect x="113.2" y="188.6" width="14.7" height="14.7"/>
<rect x="113.5" y="200.8" width="14.7" height="14.7"/>
<rect x="113.9" y="190.3" width="14.7" height="14.7"/>
<rect x="114.2" y="189.5" width="14.7" height="14.7"/>
<rect x="114.6" y="184.2" width="14.7" height="14.7"/>
<rect x="115" y="184.6" width="14.7" height="14.7"/>
<rect x="115.3" y="196.3" width="14.7" height="14.7"/>
<rect x="115.7" y="188.3" width="14.7" height="14.7"/>
<rect x="116.1" y="196.8" width="14.7" height="14.7"/>
<rect x="116.4" y="191.3" width="14.7" height="14.7"/>
<rect x="116.8" y="193.2" width="14.7" height="14.7"/>
<rect x="117.1" y="205.2" width="14.7" height="14.7"/>
<rect x="117.5" y="194" width="14.7" height="14.7"/>
<rect x="117.9" y="196.1" width="14.7" height="14.7"/>
<rect x="118.2" y="203" width="14.7" height="14.7"/>
<rect x="118.6" y="187.7" width="14.7" height="14.7"/>
<rect x="118.6" y="210.9" width="14.7" height="14.7"/>
<rect x="118.9" y="186.8" width="14.7" height="14.7"/>
<rect x="119.3" y="208.1" width="14.7" height="14.7"/>
<rect x="119.7" y="205.6" width="14.7" height="14.7"/>
<rect x="120" y="189.5" width="14.7" height="14.7"/>
<rect x="120.4" y="187.9" width="14.7" height="14.7"/>
<rect x="120.7" y="203.4" width="14.7" height="14.7"/>
<rect x="121.1" y="209" width="14.7" height="14.7"/>
<rect x="121.3" y="210.9" width="14.7" height="14.7"/>
<rect x="121.5" y="188" width="14.7" height="14.7"/>
<rect x="121.8" y="209.3" width="14.7" height="14.7"/>
<rect x="122.2" y="207.4" width="14.7" height="14.7"/>
<rect x="122.6" y="199.5" width="14.7" height="14.7"/>
<rect x="122.9" y="194.4" width="14.7" height="14.7"/>
<rect x="123.3" y="185.4" width="14.7" height="14.7"/>
<rect x="123.6" y="183.6" width="14.7" height="14.7"/>
<rect x="124" y="209.6" width="14.7" height="14.7"/>
<rect x="124.1" y="210.9" width="14.7" height="14.7"/>
<rect x="124.4" y="188.2" width="14.7" height="14.7"/>
<rect x="124.7" y="199.2" width="14.7" height="14.7"/>
<rect x="125" y="182.3" width="14.7" height="14.7"/>
<rect x="125.1" y="188.6" width="14.7" height="14.7"/>
<rect x="125.4" y="202" width="14.7" height="14.7"/>
<rect x="125.8" y="196.6" width="14.7" height="14.7"/>
<rect x="126.2" y="189.5" width="14.7" height="14.7"/>
<rect x="126.5" y="186.7" width="14.7" height="14.7"/>
<rect x="126.9" y="199.6" width="14.7" height="14.7"/>
<rect x="127.2" y="184.1" width="14.7" height="14.7"/>
<rect x="127.6" y="187.9" width="14.7" height="14.7"/>
<rect x="128" y="195.8" width="14.7" height="14.7"/>
<rect x="128.3" y="202.7" width="14.7" height="14.7"/>
<rect x="128.7" y="197.1" width="14.7" height="14.7"/>
<rect x="129.1" y="189.1" width="14.7" height="14.7"/>
<rect x="129.4" y="204.2" width="14.7" height="14.7"/>
<rect x="129.8" y="187.3" width="14.7" height="14.7"/>
<rect x="130.1" y="182.9" width="14.7" height="14.7"/>
<rect x="130.5" y="188.9" width="14.7" height="14.7"/>
<rect x="130.9" y="193.1" width="14.7" height="14.7"/>
<rect x="131.2" y="183.9" width="14.7" height="14.7"/>
<rect x="131.6" y="186.7" width="14.7" height="14.7"/>
<rect x="131.9" y="191.2" width="14.7" height="14.7"/>
<rect x="132.3" y="196.1" width="14.7" height="14.7"/>
<rect x="132.7" y="185.6" width="14.7" height="14.7"/>
<rect x="132.8" y="206.4" width="14.7" height="14.7"/>
<rect x="133" y="191.1" width="14.7" height="14.7"/>
<rect x="133.4" y="203.6" width="14.7" height="14.7"/>
<rect x="133.8" y="205.7" width="14.7" height="14.7"/>
<rect x="134.1" y="198.1" width="14.7" height="14.7"/>
<rect x="134.5" y="198.9" width="14.7" height="14.7"/>
<rect x="134.8" y="196.4" width="14.7" height="14.7"/>
<rect x="135.2" y="185.8" width="14.7" height="14.7"/>
<rect x="135.6" y="183.3" width="14.7" height="14.7"/>
<rect x="135.9" y="182.9" width="14.7" height="14.7"/>
<rect x="136.3" y="204.1" width="14.7" height="14.7"/>
<rect x="136.6" y="199.1" width="14.7" height="14.7"/>
<rect x="137" y="204.9" width="14.7" height="14.7"/>
<rect x="137.2" y="171.7" width="14.7" height="14.7"/>
<rect x="137.4" y="172.6" width="14.7" height="14.7"/>
<rect x="137.7" y="195.9" width="14.7" height="14.7"/>
<rect x="138.1" y="191.5" width="14.7" height="14.7"/>
<rect x="138.4" y="198.6" width="14.7" height="14.7"/>
<rect x="138.8" y="186.9" width="14.7" height="14.7"/>
<rect x="139.2" y="206.2" width="14.7" height="14.7"/>
<rect x="139.5" y="180" width="14.7" height="14.7"/>
<rect x="139.9" y="193.4" width="14.7" height="14.7"/>
<rect x="140.3" y="198.8" width="14.7" height="14.7"/>
<rect x="140.6" y="203.4" width="14.7" height="14.7"/>
<rect x="141" y="198.8" width="14.7" height="14.7"/>
<rect x="141.3" y="197.8" width="14.7" height="14.7"/>
<rect x="141.5" y="212.6" width="14.7" height="14.7"/>
<rect x="141.7" y="205.3" width="14.7" height="14.7"/>
<rect x="142.1" y="209.5" width="14.7" height="14.7"/>
<rect x="142.4" y="190" width="14.7" height="14.7"/>
<rect x="142.6" y="212.6" width="14.7" height="14.7"/>
<rect x="142.8" y="201.5" width="14.7" height="14.7"/>
<rect x="143.1" y="209" width="14.7" height="14.7"/>
<rect x="143.5" y="208" width="14.7" height="14.7"/>
<rect x="143.7" y="212.6" width="14.7" height="14.7"/>
<rect x="143.9" y="192.3" width="14.7" height="14.7"/>
<rect x="144.2" y="205.2" width="14.7" height="14.7"/>
<rect x="144.6" y="207.7" width="14.7" height="14.7"/>
<rect x="145" y="197.7" width="14.7" height="14.7"/>
<rect x="145.3" y="199.5" width="14.7" height="14.7"/>
<rect x="145.7" y="191.1" width="14.7" height="14.7"/>
<rect x="146" y="198" width="14.7" height="14.7"/>
<rect x="146.4" y="198.9" width="14.7" height="14.7"/>
<rect x="146.8" y="180.7" width="14.7" height="14.7"/>
<rect x="147.1" y="200" width="14.7" height="14.7"/>
<rect x="147.5" y="212.2" width="14.7" height="14.7"/>
<rect x="147.6" y="177.7" width="14.7" height="14.7"/>
<rect x="147.8" y="208.6" width="14.7" height="14.7"/>
<rect x="148.2" y="203.7" width="14.7" height="14.7"/>
<rect x="148.6" y="192.9" width="14.7" height="14.7"/>
<rect x="148.9" y="203.9" width="14.7" height="14.7"/>
<rect x="149.3" y="199" width="14.7" height="14.7"/>
<rect x="149.6" y="194.6" width="14.7" height="14.7"/>
<rect x="150" y="207.2" width="14.7" height="14.7"/>
<rect x="150.4" y="183.2" width="14.7" height="14.7"/>
<rect x="150.7" y="204.4" width="14.7" height="14.7"/>
<rect x="151.1" y="181.5" width="14.7" height="14.7"/>
<rect x="151.5" y="199.7" width="14.7" height="14.7"/>
<rect x="151.8" y="195.8" width="14.7" height="14.7"/>
<rect x="152.2" y="187.8" width="14.7" height="14.7"/>
<rect x="152.5" y="202.8" width="14.7" height="14.7"/>
<rect x="152.9" y="196.4" width="14.7" height="14.7"/>
<rect x="153.3" y="200.1" width="14.7" height="14.7"/>
<rect x="153.6" y="209.9" width="14.7" height="14.7"/>
<rect x="154" y="188.7" width="14.7" height="14.7"/>
<rect x="154.3" y="180.9" width="14.7" height="14.7"/>
<rect x="154.7" y="190.1" width="14.7" height="14.7"/>
<rect x="155.1" y="202.1" width="14.7" height="14.7"/>
<rect x="155.4" y="187" width="14.7" height="14.7"/>
<rect x="155.8" y="185.9" width="14.7" height="14.7"/>
<rect x="156.1" y="209.4" width="14.7" height="14.7"/>
<rect x="156.5" y="201.6" width="14.7" height="14.7"/>
<rect x="156.9" y="194.6" width="14.7" height="14.7"/>
<rect x="157.2" y="208.9" width="14.7" height="14.7"/>
<rect x="157.5" y="180.3" width="14.7" height="14.7"/>
<rect x="157.6" y="190.9" width="14.7" height="14.7"/>
<rect x="158" y="201.7" width="14.7" height="14.7"/>
<rect x="158.3" y="186.8" width="14.7" height="14.7"/>
<rect x="158.7" y="194.2" width="14.7" height="14.7"/>
<rect x="159" y="206.2" width="14.7" height="14.7"/>
<rect x="159.4" y="214.2" width="14.7" height="14.7"/>
<rect x="159.4" y="217.6" width="14.7" height="14.7"/>
<rect x="159.8" y="213" width="14.7" height="14.7"/>
<rect x="160.1" y="194.7" width="14.7" height="14.7"/>
<rect x="160.5" y="202" width="14.7" height="14.7"/>
<rect x="160.8" y="192.2" width="14.7" height="14.7"/>
<rect x="161.2" y="185.5" width="14.7" height="14.7"/>
<rect x="161.6" y="198.8" width="14.7" height="14.7"/>
<rect x="161.9" y="211.4" width="14.7" height="14.7"/>
<rect x="161.9" y="217.6" width="14.7" height="14.7"/>
<rect x="162.3" y="211.8" width="14.7" height="14.7"/>
<rect x="162.7" y="206.7" width="14.7" height="14.7"/>
<rect x="163" y="215.6" width="14.7" height="14.7"/>
<rect x="163.4" y="190.7" width="14.7" height="14.7"/>
<rect x="163.7" y="186.7" width="14.7" height="14.7"/>
<rect x="164.1" y="197.1" width="14.7" height="14.7"/>
<rect x="164.5" y="190.7" width="14.7" height="14.7"/>
<rect x="164.5" y="217.6" width="14.7" height="14.7"/>
<rect x="164.8" y="187.3" width="14.7" height="14.7"/>
<rect x="165.2" y="193.7" width="14.7" height="14.7"/>
<rect x="165.5" y="200.5" width="14.7" height="14.7"/>
<rect x="165.9" y="196.3" width="14.7" height="14.7"/>
<rect x="166.3" y="190.6" width="14.7" height="14.7"/>
<rect x="166.6" y="207.3" width="14.7" height="14.7"/>
<rect x="167" y="211.8" width="14.7" height="14.7"/>
<rect x="167.3" y="188.6" width="14.7" height="14.7"/>
<rect x="167.6" y="168.8" width="14.7" height="14.7"/>
<rect x="167.7" y="172.2" width="14.7" height="14.7"/>
<rect x="168.1" y="182" width="14.7" height="14.7"/>
<rect x="168.4" y="208.4" width="14.7" height="14.7"/>
<rect x="168.8" y="182.3" width="14.7" height="14.7"/>
<rect x="169.2" y="203.3" width="14.7" height="14.7"/>
<rect x="169.5" y="198.9" width="14.7" height="14.7"/>
<rect x="169.9" y="190.7" width="14.7" height="14.7"/>
<rect x="170.2" y="205.9" width="14.7" height="14.7"/>
<rect x="170.6" y="181.6" width="14.7" height="14.7"/>
<rect x="171" y="185.3" width="14.7" height="14.7"/>
<rect x="171.3" y="195.3" width="14.7" height="14.7"/>
<rect x="171.7" y="181.8" width="14.7" height="14.7"/>
<rect x="172" y="207.1" width="14.7" height="14.7"/>
<rect x="172.3" y="212.6" width="14.7" height="14.7"/>
<rect x="172.4" y="187.4" width="14.7" height="14.7"/>
<rect x="172.8" y="184.8" width="14.7" height="14.7"/>
<rect x="173.1" y="182.3" width="14.7" height="14.7"/>
<rect x="173.5" y="197.9" width="14.7" height="14.7"/>
<rect x="173.8" y="193" width="14.7" height="14.7"/>
<rect x="174.2" y="197.9" width="14.7" height="14.7"/>
<rect x="174.6" y="198.6" width="14.7" height="14.7"/>
<rect x="174.9" y="202.7" width="14.7" height="14.7"/>
<rect x="175.3" y="206.8" width="14.7" height="14.7"/>
<rect x="175.7" y="199.4" width="14.7" height="14.7"/>
<rect x="176" y="186.4" width="14.7" height="14.7"/>
<rect x="176.4" y="193.8" width="14.7" height="14.7"/>
<rect x="176.7" y="185.8" width="14.7" height="14.7"/>
<rect x="177.1" y="181.3" width="14.7" height="14.7"/>
<rect x="177.5" y="193.7" width="14.7" height="14.7"/>
<rect x="177.8" y="200.2" width="14.7" height="14.7"/>
<rect x="178.2" y="185.8" width="14.7" height="14.7"/>
<rect x="178.5" y="188.3" width="14.7" height="14.7"/>
<rect x="178.9" y="190.3" width="14.7" height="14.7"/>
<rect x="179.3" y="199.8" width="14.7" height="14.7"/>
<rect x="179.6" y="195" width="14.7" height="14.7"/>
<rect x="180" y="197.5" width="14.7" height="14.7"/>
<rect x="180.4" y="201.3" width="14.7" height="14.7"/>
<rect x="180.4" y="180.8" width="14.7" height="14.7"/>
<rect x="180.7" y="191.6" width="14.7" height="14.7"/>
<rect x="181.1" y="202.3" width="14.7" height="14.7"/>
<rect x="181.4" y="205.4" width="14.7" height="14.7"/>
<rect x="181.8" y="183.3" width="14.7" height="14.7"/>
<rect x="182.2" y="206.1" width="14.7" height="14.7"/>
<rect x="182.5" y="200.4" width="14.7" height="14.7"/>
<rect x="182.9" y="184.5" width="14.7" height="14.7"/>
<rect x="183.2" y="193.2" width="14.7" height="14.7"/>
<rect x="183.6" y="197.8" width="14.7" height="14.7"/>
<rect x="184" y="205.5" width="14.7" height="14.7"/>
<rect x="184.3" y="191.1" width="14.7" height="14.7"/>
<rect x="184.7" y="196.3" width="14.7" height="14.7"/>
<rect x="185" y="204.7" width="14.7" height="14.7"/>
<rect x="185.4" y="202.4" width="14.7" height="14.7"/>
<rect x="185.8" y="206.4" width="14.7" height="14.7"/>
<rect x="186.1" y="193.5" width="14.7" height="14.7"/>
<rect x="186.5" y="198.5" width="14.7" height="14.7"/>
<rect x="186.9" y="186.5" width="14.7" height="14.7"/>
<rect x="187.2" y="200.4" width="14.7" height="14.7"/>
<rect x="187.6" y="203" width="14.7" height="14.7"/>
<rect x="187.9" y="198.3" width="14.7" height="14.7"/>
<rect x="188" y="208.1" width="14.7" height="14.7"/>
<rect x="188.3" y="200.3" width="14.7" height="14.7"/>
<rect x="188.7" y="186.7" width="14.7" height="14.7"/>
<rect x="189" y="205.2" width="14.7" height="14.7"/>
<rect x="189.4" y="207.4" width="14.7" height="14.7"/>
<rect x="189.7" y="207.3" width="14.7" height="14.7"/>
<rect x="190.1" y="195.4" width="14.7" height="14.7"/>
<rect x="190.5" y="202.3" width="14.7" height="14.7"/>
<rect x="190.8" y="189.6" width="14.7" height="14.7"/>
<rect x="191.2" y="205.5" width="14.7" height="14.7"/>
<rect x="191.6" y="204" width="14.7" height="14.7"/>
<rect x="191.9" y="190.4" width="14.7" height="14.7"/>
<rect x="192.3" y="183.2" width="14.7" height="14.7"/>
<rect x="192.6" y="192.9" width="14.7" height="14.7"/>
<rect x="193" y="175.3" width="14.7" height="14.7"/>
<rect x="193" y="196.3" width="14.7" height="14.7"/>
<rect x="193.4" y="201.9" width="14.7" height="14.7"/>
<rect x="193.7" y="194.7" width="14.7" height="14.7"/>
<rect x="194.1" y="182.9" width="14.7" height="14.7"/>
<rect x="194.4" y="203" width="14.7" height="14.7"/>
<rect x="194.8" y="183.8" width="14.7" height="14.7"/>
<rect x="194.9" y="208.1" width="14.7" height="14.7"/>
<rect x="195.2" y="202.8" width="14.7" height="14.7"/>
<rect x="195.5" y="186.6" width="14.7" height="14.7"/>
<rect x="195.9" y="190.8" width="14.7" height="14.7"/>
<rect x="196.2" y="202.4" width="14.7" height="14.7"/>
<rect x="196.6" y="185.8" width="14.7" height="14.7"/>
<rect x="197" y="186" width="14.7" height="14.7"/>
<rect x="197.3" y="195.5" width="14.7" height="14.7"/>
<rect x="197.7" y="200.8" width="14.7" height="14.7"/>
<rect x="198.1" y="203.8" width="14.7" height="14.7"/>
<rect x="198.4" y="199.9" width="14.7" height="14.7"/>
<rect x="198.8" y="206.5" width="14.7" height="14.7"/>
<rect x="199.1" y="194.9" width="14.7" height="14.7"/>
<rect x="199.5" y="206.6" width="14.7" height="14.7"/>
<rect x="199.9" y="184.4" width="14.7" height="14.7"/>
<rect x="200.2" y="187.9" width="14.7" height="14.7"/>
<rect x="200.6" y="195.7" width="14.7" height="14.7"/>
<rect x="200.9" y="189.7" width="14.7" height="14.7"/>
<rect x="201.3" y="200.9" width="14.7" height="14.7"/>
<rect x="201.7" y="198.6" width="14.7" height="14.7"/>
<rect x="201.8" y="182" width="14.7" height="14.7"/>
<rect x="201.9" y="208.1" width="14.7" height="14.7"/>
<rect x="202" y="197.8" width="14.7" height="14.7"/>
<rect x="202.4" y="204.6" width="14.7" height="14.7"/>
<rect x="202.8" y="198.6" width="14.7" height="14.7"/>
<rect x="203.1" y="193.3" width="14.7" height="14.7"/>
<rect x="203.5" y="194.8" width="14.7" height="14.7"/>
<rect x="203.8" y="204.6" width="14.7" height="14.7"/>
<rect x="204.2" y="205.8" width="14.7" height="14.7"/>
<rect x="204.6" y="191.1" width="14.7" height="14.7"/>
<rect x="204.9" y="204.7" width="14.7" height="14.7"/>
<rect x="205.3" y="207.2" width="14.7" height="14.7"/>
<rect x="205.6" y="197.8" width="14.7" height="14.7"/>
<rect x="206" y="198.8" width="14.7" height="14.7"/>
<rect x="206.4" y="191" width="14.7" height="14.7"/>
<rect x="206.7" y="198.1" width="14.7" height="14.7"/>
<rect x="207.1" y="197.4" width="14.7" height="14.7"/>
<rect x="207.4" y="199.5" width="14.7" height="14.7"/>
<rect x="207.8" y="187.3" width="14.7" height="14.7"/>
<rect x="208.2" y="207.3" width="14.7" height="14.7"/>
<rect x="208.5" y="197.6" width="14.7" height="14.7"/>
<rect x="208.8" y="208.1" width="14.7" height="14.7"/>
<rect x="208.9" y="194.9" width="14.7" height="14.7"/>
<rect x="209.3" y="203" width="14.7" height="14.7"/>
<rect x="209.6" y="198.2" width="14.7" height="14.7"/>
<rect x="210" y="196.7" width="14.7" height="14.7"/>
<rect x="210.3" y="200.8" width="14.7" height="14.7"/>
<rect x="210.7" y="188" width="14.7" height="14.7"/>
<rect x="211.1" y="197.7" width="14.7" height="14.7"/>
<rect x="211.4" y="195.1" width="14.7" height="14.7"/>
<rect x="211.8" y="206.2" width="14.7" height="14.7"/>
<rect x="212.1" y="205.5" width="14.7" height="14.7"/>
<rect x="212.5" y="192.2" width="14.7" height="14.7"/>
<rect x="212.9" y="196.4" width="14.7" height="14.7"/>
<rect x="213.1" y="186.5" width="14.7" height="14.7"/>
<rect x="213.2" y="189.3" width="14.7" height="14.7"/>
<rect x="213.6" y="195.5" width="14.7" height="14.7"/>
<rect x="213.9" y="203.3" width="14.7" height="14.7"/>
<rect x="214.3" y="205.1" width="14.7" height="14.7"/>
<rect x="214.7" y="196.4" width="14.7" height="14.7"/>
<rect x="215" y="193.2" width="14.7" height="14.7"/>
<rect x="215.4" y="190.6" width="14.7" height="14.7"/>
<rect x="215.8" y="199.3" width="14.7" height="14.7"/>
<rect x="216.1" y="205.6" width="14.7" height="14.7"/>
<rect x="216.5" y="189.3" width="14.7" height="14.7"/>
<rect x="216.8" y="202.6" width="14.7" height="14.7"/>
<rect x="217.2" y="187.2" width="14.7" height="14.7"/>
<rect x="217.6" y="190.7" width="14.7" height="14.7"/>
<rect x="217.9" y="191.3" width="14.7" height="14.7"/>
<rect x="218.3" y="200.7" width="14.7" height="14.7"/>
<rect x="218.6" y="193.3" width="14.7" height="14.7"/>
<rect x="219" y="193.9" width="14.7" height="14.7"/>
<rect x="219.4" y="199.3" width="14.7" height="14.7"/>
<rect x="219.7" y="188.8" width="14.7" height="14.7"/>
<rect x="220.1" y="201.6" width="14.7" height="14.7"/>
<rect x="220.5" y="189.2" width="14.7" height="14.7"/>
<rect x="220.8" y="197.1" width="14.7" height="14.7"/>
<rect x="221.2" y="191.8" width="14.7" height="14.7"/>
<rect x="221.5" y="190.7" width="14.7" height="14.7"/>
<rect x="221.9" y="197.5" width="14.7" height="14.7"/>
<rect x="222.2" y="207.3" width="14.7" height="14.7"/>
<rect x="222.3" y="195.6" width="14.7" height="14.7"/>
<rect x="222.6" y="194.4" width="14.7" height="14.7"/>
<rect x="223" y="195.1" width="14.7" height="14.7"/>
<rect x="223.3" y="197.5" width="14.7" height="14.7"/>
<rect x="223.7" y="190" width="14.7" height="14.7"/>
<rect x="224.1" y="190.9" width="14.7" height="14.7"/>
<rect x="224.4" y="175.3" width="14.7" height="14.7"/>
<rect x="224.4" y="195.4" width="14.7" height="14.7"/>
<rect x="224.8" y="195.7" width="14.7" height="14.7"/>
<rect x="225.1" y="192.2" width="14.7" height="14.7"/>
<rect x="225.5" y="202.4" width="14.7" height="14.7"/>
<rect x="225.9" y="194.8" width="14.7" height="14.7"/>
<rect x="226.2" y="202.6" width="14.7" height="14.7"/>
<rect x="226.6" y="182.9" width="14.7" height="14.7"/>
<rect x="227" y="198.9" width="14.7" height="14.7"/>
<rect x="227.3" y="201.1" width="14.7" height="14.7"/>
<rect x="227.7" y="204" width="14.7" height="14.7"/>
<rect x="228" y="185.5" width="14.7" height="14.7"/>
<rect x="228.4" y="185.5" width="14.7" height="14.7"/>
<rect x="228.8" y="204.7" width="14.7" height="14.7"/>
<rect x="229.1" y="182.4" width="14.7" height="14.7"/>
<rect x="229.5" y="207" width="14.7" height="14.7"/>
<rect x="229.8" y="203.5" width="14.7" height="14.7"/>
<rect x="230.2" y="179.7" width="14.7" height="14.7"/>
<rect x="230.5" y="172.8" width="14.7" height="14.7"/>
<rect x="230.6" y="187.2" width="14.7" height="14.7"/>
<rect x="230.9" y="200" width="14.7" height="14.7"/>
<rect x="231.3" y="187.8" width="14.7" height="14.7"/>
<rect x="231.7" y="183.5" width="14.7" height="14.7"/>
<rect x="232" y="202.7" width="14.7" height="14.7"/>
<rect x="232.4" y="192" width="14.7" height="14.7"/>
<rect x="232.7" y="201.6" width="14.7" height="14.7"/>
<rect x="233.1" y="184.3" width="14.7" height="14.7"/>
<rect x="233.5" y="191.5" width="14.7" height="14.7"/>
<rect x="233.8" y="198.9" width="14.7" height="14.7"/>
<rect x="234.2" y="181.5" width="14.7" height="14.7"/>
<rect x="234.5" y="186.2" width="14.7" height="14.7"/>
<rect x="234.9" y="198.8" width="14.7" height="14.7"/>
<rect x="235.3" y="204.8" width="14.7" height="14.7"/>
<rect x="235.6" y="206.3" width="14.7" height="14.7"/>
<rect x="235.7" y="208.7" width="14.7" height="14.7"/>
<rect x="236" y="184.2" width="14.7" height="14.7"/>
<rect x="236.2" y="208.7" width="14.7" height="14.7"/>
<rect x="236.3" y="194.9" width="14.7" height="14.7"/>
<rect x="236.7" y="208.7" width="14.7" height="14.7"/>
<rect x="236.7" y="201.8" width="14.7" height="14.7"/>
<rect x="237.1" y="194.8" width="14.7" height="14.7"/>
<rect x="237.4" y="199.9" width="14.7" height="14.7"/>
<rect x="237.8" y="186.2" width="14.7" height="14.7"/>
<rect x="238.2" y="182.9" width="14.7" height="14.7"/>
<rect x="238.5" y="183.9" width="14.7" height="14.7"/>
<rect x="238.9" y="182" width="14.7" height="14.7"/>
<rect x="239.2" y="196.2" width="14.7" height="14.7"/>
<rect x="239.5" y="180.8" width="14.7" height="14.7"/>
<rect x="239.6" y="195.2" width="14.7" height="14.7"/>
<rect x="240" y="196.6" width="14.7" height="14.7"/>
<rect x="240.3" y="185" width="14.7" height="14.7"/>
<rect x="240.7" y="186.1" width="14.7" height="14.7"/>
<rect x="241" y="186.6" width="14.7" height="14.7"/>
<rect x="241.4" y="204.1" width="14.7" height="14.7"/>
<rect x="241.8" y="208.2" width="14.7" height="14.7"/>
<rect x="242.1" y="206.5" width="14.7" height="14.7"/>
<rect x="242.5" y="183.6" width="14.7" height="14.7"/>
<rect x="242.8" y="182.7" width="14.7" height="14.7"/>
<rect x="243.2" y="207.2" width="14.7" height="14.7"/>
<rect x="243.6" y="193.7" width="14.7" height="14.7"/>
<rect x="243.9" y="202" width="14.7" height="14.7"/>
<rect x="244.3" y="190" width="14.7" height="14.7"/>
<rect x="244.7" y="193.8" width="14.7" height="14.7"/>
<rect x="245" y="195.2" width="14.7" height="14.7"/>
<rect x="245.4" y="192.8" width="14.7" height="14.7"/>
<rect x="245.7" y="197.5" width="14.7" height="14.7"/>
<rect x="246.1" y="181.4" width="14.7" height="14.7"/>
<rect x="246.5" y="200.3" width="14.7" height="14.7"/>
<rect x="246.8" y="204.2" width="14.7" height="14.7"/>
<rect x="247.2" y="186" width="14.7" height="14.7"/>
<rect x="247.5" y="193.5" width="14.7" height="14.7"/>
<rect x="247.9" y="201.3" width="14.7" height="14.7"/>
<rect x="248.3" y="192.1" width="14.7" height="14.7"/>
<rect x="248.4" y="179.7" width="14.7" height="14.7"/>
<rect x="248.6" y="192" width="14.7" height="14.7"/>
<rect x="249" y="191.4" width="14.7" height="14.7"/>
<rect x="249.4" y="198.5" width="14.7" height="14.7"/>
<rect x="249.7" y="188.3" width="14.7" height="14.7"/>
<rect x="250.1" y="206.3" width="14.7" height="14.7"/>
<rect x="250.4" y="204.4" width="14.7" height="14.7"/>
<rect x="250.8" y="202.4" width="14.7" height="14.7"/>
<rect x="251.2" y="205.6" width="14.7" height="14.7"/>
<rect x="251.5" y="200.9" width="14.7" height="14.7"/>
<rect x="251.9" y="196.3" width="14.7" height="14.7"/>
<rect x="252.2" y="200.3" width="14.7" height="14.7"/>
<rect x="252.4" y="211.8" width="14.7" height="14.7"/>
<rect x="252.6" y="199.9" width="14.7" height="14.7"/>
<rect x="253" y="211.2" width="14.7" height="14.7"/>
<rect x="253.3" y="207" width="14.7" height="14.7"/>
<rect x="253.7" y="194.1" width="14.7" height="14.7"/>
<rect x="254" y="187.8" width="14.7" height="14.7"/>
<rect x="254" y="209.5" width="14.7" height="14.7"/>
<rect x="254.4" y="205.9" width="14.7" height="14.7"/>
<rect x="254.8" y="206.7" width="14.7" height="14.7"/>
<rect x="255.1" y="207.5" width="14.7" height="14.7"/>
<rect x="255.5" y="198.4" width="14.7" height="14.7"/>
<rect x="255.9" y="209.3" width="14.7" height="14.7"/>
<rect x="256.2" y="208.9" width="14.7" height="14.7"/>
<rect x="256.6" y="204.8" width="14.7" height="14.7"/>
<rect x="256.9" y="206.4" width="14.7" height="14.7"/>
<rect x="257.3" y="206.4" width="14.7" height="14.7"/>
<rect x="257.4" y="211.8" width="14.7" height="14.7"/>
<rect x="257.7" y="198.4" width="14.7" height="14.7"/>
<rect x="258" y="205.4" width="14.7" height="14.7"/>
<rect x="258.4" y="191" width="14.7" height="14.7"/>
<rect x="258.7" y="197" width="14.7" height="14.7"/>
<rect x="259.1" y="199.8" width="14.7" height="14.7"/>
<rect x="259.5" y="189.6" width="14.7" height="14.7"/>
<rect x="259.8" y="197.3" width="14.7" height="14.7"/>
<rect x="260.2" y="203.6" width="14.7" height="14.7"/>
<rect x="260.5" y="203.3" width="14.7" height="14.7"/>
<rect x="260.9" y="194.6" width="14.7" height="14.7"/>
<rect x="261.3" y="210.4" width="14.7" height="14.7"/>
<rect x="261.6" y="204.2" width="14.7" height="14.7"/>
<rect x="262" y="196.9" width="14.7" height="14.7"/>
<rect x="262.4" y="204" width="14.7" height="14.7"/>
<rect x="262.4" y="211.8" width="14.7" height="14.7"/>
<rect x="262.7" y="199.7" width="14.7" height="14.7"/>
<rect x="263.1" y="199" width="14.7" height="14.7"/>
<rect x="263.4" y="196.4" width="14.7" height="14.7"/>
<rect x="263.8" y="207.4" width="14.7" height="14.7"/>
<rect x="264.2" y="201" width="14.7" height="14.7"/>
<rect x="264.5" y="202" width="14.7" height="14.7"/>
<rect x="264.9" y="203.1" width="14.7" height="14.7"/>
<rect x="265.2" y="207" width="14.7" height="14.7"/>
<rect x="265.6" y="189.8" width="14.7" height="14.7"/>
<rect x="265.8" y="189.2" width="14.7" height="14.7"/>
<rect x="266" y="200.5" width="14.7" height="14.7"/>
<rect x="266.3" y="202.7" width="14.7" height="14.7"/>
<rect x="266.7" y="194" width="14.7" height="14.7"/>
<rect x="267.1" y="196.6" width="14.7" height="14.7"/>
<rect x="267.4" y="190.3" width="14.7" height="14.7"/>
<rect x="267.8" y="192.9" width="14.7" height="14.7"/>
<rect x="268.1" y="196.2" width="14.7" height="14.7"/>
<rect x="268.5" y="191.2" width="14.7" height="14.7"/>
<rect x="268.9" y="193.9" width="14.7" height="14.7"/>
<rect x="269.1" y="207.6" width="14.7" height="14.7"/>
<rect x="269.2" y="202.7" width="14.7" height="14.7"/>
<rect x="269.6" y="197.5" width="14.7" height="14.7"/>
<rect x="269.9" y="196.9" width="14.7" height="14.7"/>
<rect x="270.3" y="203.6" width="14.7" height="14.7"/>
<rect x="270.7" y="197.7" width="14.7" height="14.7"/>
<rect x="271" y="204" width="14.7" height="14.7"/>
<rect x="271.4" y="198.8" width="14.7" height="14.7"/>
<rect x="271.7" y="201.3" width="14.7" height="14.7"/>
<rect x="272.1" y="190.5" width="14.7" height="14.7"/>
<rect x="272.5" y="198.2" width="14.7" height="14.7"/>
<rect x="272.8" y="200.6" width="14.7" height="14.7"/>
<rect x="273.2" y="190.1" width="14.7" height="14.7"/>
<rect x="273.6" y="203.1" width="14.7" height="14.7"/>
<rect x="273.9" y="191.8" width="14.7" height="14.7"/>
<rect x="274.3" y="196.3" width="14.7" height="14.7"/>
<rect x="274.6" y="191.9" width="14.7" height="14.7"/>
<rect x="275" y="196.7" width="14.7" height="14.7"/>
<rect x="275.4" y="198.4" width="14.7" height="14.7"/>
<rect x="275.7" y="190.3" width="14.7" height="14.7"/>
<rect x="276.1" y="203.3" width="14.7" height="14.7"/>
<rect x="276.4" y="195.6" width="14.7" height="14.7"/>
<rect x="276.8" y="197.1" width="14.7" height="14.7"/>
<rect x="277.2" y="198.2" width="14.7" height="14.7"/>
<rect x="277.5" y="176.9" width="14.7" height="14.7"/>
<rect x="277.5" y="187" width="14.7" height="14.7"/>
<rect x="277.9" y="184.8" width="14.7" height="14.7"/>
<rect x="278.3" y="194.8" width="14.7" height="14.7"/>
<rect x="278.6" y="192.2" width="14.7" height="14.7"/>
<rect x="279" y="184.8" width="14.7" height="14.7"/>
<rect x="279.2" y="204.3" width="14.7" height="14.7"/>
<rect x="279.3" y="196.4" width="14.7" height="14.7"/>
<rect x="279.7" y="185.1" width="14.7" height="14.7"/>
<rect x="280.1" y="177.5" width="14.7" height="14.7"/>
<rect x="280.4" y="183.7" width="14.7" height="14.7"/>
<rect x="280.8" y="178.3" width="14.7" height="14.7"/>
<rect x="281.1" y="181.3" width="14.7" height="14.7"/>
<rect x="281.5" y="197.5" width="14.7" height="14.7"/>
<rect x="281.9" y="187.6" width="14.7" height="14.7"/>
<rect x="282.2" y="201.3" width="14.7" height="14.7"/>
<rect x="282.6" y="197.3" width="14.7" height="14.7"/>
<rect x="282.9" y="178.5" width="14.7" height="14.7"/>
<rect x="283.3" y="203.8" width="14.7" height="14.7"/>
<rect x="283.5" y="168.8" width="14.7" height="14.7"/>
<rect x="283.7" y="202.8" width="14.7" height="14.7"/>
<rect x="284" y="182.2" width="14.7" height="14.7"/>
<rect x="284.4" y="201.9" width="14.7" height="14.7"/>
<rect x="284.8" y="190.6" width="14.7" height="14.7"/>
<rect x="285.1" y="191.8" width="14.7" height="14.7"/>
<rect x="285.5" y="203.5" width="14.7" height="14.7"/>
<rect x="285.8" y="186.3" width="14.7" height="14.7"/>
<rect x="286.2" y="192.9" width="14.7" height="14.7"/>
<rect x="286.5" y="180.3" width="14.7" height="14.7"/>
<rect x="286.6" y="203" width="14.7" height="14.7"/>
<rect x="286.9" y="199.1" width="14.7" height="14.7"/>
<rect x="287.3" y="194.5" width="14.7" height="14.7"/>
<rect x="287.6" y="203.7" width="14.7" height="14.7"/>
<rect x="288" y="200.8" width="14.7" height="14.7"/>
<rect x="288.4" y="197" width="14.7" height="14.7"/>
<rect x="288.7" y="188.2" width="14.7" height="14.7"/>
<rect x="289.1" y="197.3" width="14.7" height="14.7"/>
<rect x="289.3" y="208.7" width="14.7" height="14.7"/>
<rect x="289.4" y="196.3" width="14.7" height="14.7"/>
<rect x="289.8" y="190.7" width="14.7" height="14.7"/>
<rect x="290.2" y="187.3" width="14.7" height="14.7"/>
<rect x="290.5" y="197.9" width="14.7" height="14.7"/>
<rect x="290.9" y="188.9" width="14.7" height="14.7"/>
<rect x="291.3" y="196" width="14.7" height="14.7"/>
<rect x="291.6" y="201.1" width="14.7" height="14.7"/>
<rect x="292" y="196.3" width="14.7" height="14.7"/>
<rect x="292.3" y="192" width="14.7" height="14.7"/>
<rect x="292.7" y="199.1" width="14.7" height="14.7"/>
<rect x="293.1" y="195.5" width="14.7" height="14.7"/>
<rect x="293.4" y="203.5" width="14.7" height="14.7"/>
<rect x="293.8" y="198" width="14.7" height="14.7"/>
<rect x="294.1" y="208.4" width="14.7" height="14.7"/>
<rect x="294.5" y="207.4" width="14.7" height="14.7"/>
<rect x="294.9" y="202.5" width="14.7" height="14.7"/>
<rect x="295.2" y="191.4" width="14.7" height="14.7"/>
<rect x="295.6" y="188.7" width="14.7" height="14.7"/>
<rect x="295.8" y="185.9" width="14.7" height="14.7"/>
<rect x="296" y="208" width="14.7" height="14.7"/>
<rect x="296" y="210.8" width="14.7" height="14.7"/>
<rect x="296.3" y="205.3" width="14.7" height="14.7"/>
<rect x="296.7" y="201.4" width="14.7" height="14.7"/>
<rect x="297" y="194.9" width="14.7" height="14.7"/>
<rect x="297.4" y="192.8" width="14.7" height="14.7"/>
<rect x="297.8" y="202.9" width="14.7" height="14.7"/>
<rect x="298.1" y="199.9" width="14.7" height="14.7"/>
<rect x="298.5" y="200.6" width="14.7" height="14.7"/>
<rect x="298.8" y="201.6" width="14.7" height="14.7"/>
<rect x="299.2" y="204.6" width="14.7" height="14.7"/>
<rect x="299.6" y="190.8" width="14.7" height="14.7"/>
<rect x="299.9" y="192.2" width="14.7" height="14.7"/>
<rect x="300.3" y="210.1" width="14.7" height="14.7"/>
<rect x="300.6" y="208.5" width="14.7" height="14.7"/>
<rect x="301" y="207.6" width="14.7" height="14.7"/>
<rect x="301.4" y="187.1" width="14.7" height="14.7"/>
<rect x="301.7" y="187.6" width="14.7" height="14.7"/>
<rect x="302.1" y="192.7" width="14.7" height="14.7"/>
<rect x="302.5" y="196.5" width="14.7" height="14.7"/>
<rect x="302.8" y="201.4" width="14.7" height="14.7"/>
<rect x="303.2" y="188.6" width="14.7" height="14.7"/>
<rect x="303.3" y="210.8" width="14.7" height="14.7"/>
<rect x="303.5" y="199.4" width="14.7" height="14.7"/>
<rect x="303.9" y="187.9" width="14.7" height="14.7"/>
<rect x="304.3" y="188.2" width="14.7" height="14.7"/>
<rect x="304.6" y="202.7" width="14.7" height="14.7"/>
<rect x="305" y="199.6" width="14.7" height="14.7"/>
<rect x="305.3" y="197.8" width="14.7" height="14.7"/>
<rect x="305.3" y="175.6" width="14.7" height="14.7"/>
<rect x="305.7" y="191.7" width="14.7" height="14.7"/>
<rect x="306.1" y="194.9" width="14.7" height="14.7"/>
<rect x="306.4" y="186.8" width="14.7" height="14.7"/>
<rect x="306.8" y="190.8" width="14.7" height="14.7"/>
<rect x="307.2" y="202.9" width="14.7" height="14.7"/>
<rect x="307.5" y="205.7" width="14.7" height="14.7"/>
<rect x="307.9" y="182.7" width="14.7" height="14.7"/>
<rect x="308.2" y="184.1" width="14.7" height="14.7"/>
<rect x="308.6" y="204.9" width="14.7" height="14.7"/>
<rect x="309" y="199.3" width="14.7" height="14.7"/>
<rect x="309.3" y="203.6" width="14.7" height="14.7"/>
<rect x="309.7" y="186.9" width="14.7" height="14.7"/>
<rect x="310" y="193.3" width="14.7" height="14.7"/>
<rect x="310.4" y="188.3" width="14.7" height="14.7"/>
<rect x="310.6" y="210.8" width="14.7" height="14.7"/>
<rect x="310.8" y="204.9" width="14.7" height="14.7"/>
<rect x="311.1" y="191.6" width="14.7" height="14.7"/>
<rect x="311.5" y="200.2" width="14.7" height="14.7"/>
<rect x="311.8" y="210.3" width="14.7" height="14.7"/>
<rect x="312.2" y="190.3" width="14.7" height="14.7"/>
<rect x="312.6" y="197" width="14.7" height="14.7"/>
<rect x="312.9" y="203" width="14.7" height="14.7"/>
<rect x="313.3" y="208.2" width="14.7" height="14.7"/>
<rect x="313.7" y="193.4" width="14.7" height="14.7"/>
<rect x="314" y="191.6" width="14.7" height="14.7"/>
<rect x="314.4" y="183.4" width="14.7" height="14.7"/>
<rect x="314.7" y="206.8" width="14.7" height="14.7"/>
<rect x="315.1" y="182.9" width="14.7" height="14.7"/>
<rect x="315.5" y="183" width="14.7" height="14.7"/>
<rect x="315.8" y="197.5" width="14.7" height="14.7"/>
<rect x="316.2" y="195.1" width="14.7" height="14.7"/>
<rect x="316.5" y="201.1" width="14.7" height="14.7"/>
<rect x="316.9" y="189.5" width="14.7" height="14.7"/>
<rect x="317.3" y="203.8" width="14.7" height="14.7"/>
<rect x="317.6" y="182.8" width="14.7" height="14.7"/>
<rect x="317.9" y="210.8" width="14.7" height="14.7"/>
<rect x="318" y="186.5" width="14.7" height="14.7"/>
<rect x="318.4" y="199" width="14.7" height="14.7"/>
<rect x="318.7" y="182.8" width="14.7" height="14.7"/>
<rect x="319.1" y="189" width="14.7" height="14.7"/>
<rect x="319.4" y="200.8" width="14.7" height="14.7"/>
<rect x="319.8" y="199.9" width="14.7" height="14.7"/>
<rect x="320.2" y="188.4" width="14.7" height="14.7"/>
<rect x="320.5" y="184.5" width="14.7" height="14.7"/>
<rect x="320.6" y="180.3" width="14.7" height="14.7"/>
<rect x="320.9" y="195.9" width="14.7" height="14.7"/>
<rect x="321.2" y="203.1" width="14.7" height="14.7"/>
<rect x="321.6" y="196.1" width="14.7" height="14.7"/>
<rect x="322" y="191.2" width="14.7" height="14.7"/>
<rect x="322.3" y="202.8" width="14.7" height="14.7"/>
<rect x="322.7" y="200.1" width="14.7" height="14.7"/>
<rect x="323" y="206.9" width="14.7" height="14.7"/>
<rect x="323.4" y="207.3" width="14.7" height="14.7"/>
<rect x="323.8" y="206.8" width="14.7" height="14.7"/>
<rect x="324.1" y="197.5" width="14.7" height="14.7"/>
<rect x="324.5" y="204.6" width="14.7" height="14.7"/>
<rect x="324.9" y="194.9" width="14.7" height="14.7"/>
<rect x="325.2" y="195.1" width="14.7" height="14.7"/>
<rect x="325.6" y="196.7" width="14.7" height="14.7"/>
<rect x="325.9" y="207.2" width="14.7" height="14.7"/>
<rect x="326.3" y="206.4" width="14.7" height="14.7"/>
<rect x="326.7" y="193.8" width="14.7" height="14.7"/>
<rect x="327" y="196" width="14.7" height="14.7"/>
<rect x="327.4" y="196.1" width="14.7" height="14.7"/>
<rect x="327.7" y="196" width="14.7" height="14.7"/>
<rect x="328" y="208.7" width="14.7" height="14.7"/>
<rect x="328.1" y="196.7" width="14.7" height="14.7"/>
<rect x="328.5" y="196.5" width="14.7" height="14.7"/>
<rect x="328.8" y="192.7" width="14.7" height="14.7"/>
<rect x="329.2" y="200" width="14.7" height="14.7"/>
<rect x="329.5" y="204.5" width="14.7" height="14.7"/>
<rect x="329.9" y="199.5" width="14.7" height="14.7"/>
<rect x="330.3" y="205.3" width="14.7" height="14.7"/>
<rect x="330.6" y="199.9" width="14.7" height="14.7"/>
<rect x="331" y="192.4" width="14.7" height="14.7"/>
<rect x="331.4" y="203.8" width="14.7" height="14.7"/>
<rect x="331.7" y="206.2" width="14.7" height="14.7"/>
<rect x="332.1" y="194.4" width="14.7" height="14.7"/>
<rect x="332.4" y="189.3" width="14.7" height="14.7"/>
<rect x="332.8" y="199" width="14.7" height="14.7"/>
<rect x="332.9" y="188.7" width="14.7" height="14.7"/>
<rect x="333.2" y="199.6" width="14.7" height="14.7"/>
<rect x="333.5" y="200" width="14.7" height="14.7"/>
<rect x="333.9" y="207.8" width="14.7" height="14.7"/>
<rect x="334.2" y="201.7" width="14.7" height="14.7"/>
<rect x="334.6" y="204.7" width="14.7" height="14.7"/>
<rect x="335" y="190.2" width="14.7" height="14.7"/>
<rect x="335.3" y="199.6" width="14.7" height="14.7"/>
<rect x="335.7" y="204.3" width="14.7" height="14.7"/>
<rect x="336.1" y="190.5" width="14.7" height="14.7"/>
<rect x="336.4" y="190.5" width="14.7" height="14.7"/>
<rect x="336.8" y="203.3" width="14.7" height="14.7"/>
<rect x="337.1" y="206.5" width="14.7" height="14.7"/>
<rect x="337.5" y="190.6" width="14.7" height="14.7"/>
<rect x="337.9" y="201.3" width="14.7" height="14.7"/>
<rect x="338.1" y="210" width="14.7" height="14.7"/>
<rect x="338.2" y="191.9" width="14.7" height="14.7"/>
<rect x="338.6" y="204.5" width="14.7" height="14.7"/>
<rect x="338.9" y="202.5" width="14.7" height="14.7"/>
<rect x="339.3" y="194" width="14.7" height="14.7"/>
<rect x="339.7" y="193.5" width="14.7" height="14.7"/>
<rect x="340" y="204.9" width="14.7" height="14.7"/>
<rect x="340.4" y="199.8" width="14.7" height="14.7"/>
<rect x="340.7" y="204.9" width="14.7" height="14.7"/>
<rect x="341.1" y="197.1" width="14.7" height="14.7"/>
<rect x="341.5" y="196" width="14.7" height="14.7"/>
<rect x="341.8" y="209.1" width="14.7" height="14.7"/>
<rect x="342.2" y="203" width="14.7" height="14.7"/>
<rect x="342.6" y="199.2" width="14.7" height="14.7"/>
<rect x="342.9" y="200.1" width="14.7" height="14.7"/>
<rect x="343.3" y="204" width="14.7" height="14.7"/>
<rect x="343.6" y="203.7" width="14.7" height="14.7"/>
<rect x="344" y="208" width="14.7" height="14.7"/>
<rect x="344.4" y="197.5" width="14.7" height="14.7"/>
<rect x="344.7" y="206.2" width="14.7" height="14.7"/>
<rect x="345.1" y="202.8" width="14.7" height="14.7"/>
<rect x="345.2" y="187.8" width="14.7" height="14.7"/>
<rect x="345.4" y="206.6" width="14.7" height="14.7"/>
<rect x="345.8" y="205.6" width="14.7" height="14.7"/>
<rect x="346.2" y="206.2" width="14.7" height="14.7"/>
<rect x="346.5" y="207.4" width="14.7" height="14.7"/>
<rect x="346.9" y="208.9" width="14.7" height="14.7"/>
<rect x="347" y="211.5" width="14.7" height="14.7"/>
<rect x="347.2" y="202.9" width="14.7" height="14.7"/>
<rect x="347.6" y="211.5" width="14.7" height="14.7"/>
<rect x="347.6" y="200.2" width="14.7" height="14.7"/>
<rect x="348" y="204.5" width="14.7" height="14.7"/>
<rect x="348.1" y="211.5" width="14.7" height="14.7"/>
<rect x="348.3" y="206.7" width="14.7" height="14.7"/>
<rect x="348.7" y="197.8" width="14.7" height="14.7"/>
<rect x="349.1" y="197.8" width="14.7" height="14.7"/>
<rect x="349.4" y="191.4" width="14.7" height="14.7"/>
<rect x="349.8" y="205.3" width="14.7" height="14.7"/>
<rect x="350.1" y="211.1" width="14.7" height="14.7"/>
<rect x="350.5" y="196.7" width="14.7" height="14.7"/>
<rect x="350.9" y="191.9" width="14.7" height="14.7"/>
<rect x="351.2" y="192.8" width="14.7" height="14.7"/>
<rect x="351.6" y="197.9" width="14.7" height="14.7"/>
<rect x="351.9" y="194.8" width="14.7" height="14.7"/>
<rect x="352" y="185.3" width="14.7" height="14.7"/>
<rect x="352.3" y="210.5" width="14.7" height="14.7"/>
<rect x="352.7" y="187" width="14.7" height="14.7"/>
<rect x="353" y="193.5" width="14.7" height="14.7"/>
<rect x="353.4" y="188.5" width="14.7" height="14.7"/>
<rect x="353.8" y="202.2" width="14.7" height="14.7"/>
<rect x="354.1" y="205.5" width="14.7" height="14.7"/>
<rect x="354.5" y="190.1" width="14.7" height="14.7"/>
<rect x="354.8" y="187.1" width="14.7" height="14.7"/>
<rect x="355.2" y="197.3" width="14.7" height="14.7"/>
<rect x="355.6" y="200.6" width="14.7" height="14.7"/>
<rect x="355.9" y="209" width="14.7" height="14.7"/>
<rect x="356.3" y="186.4" width="14.7" height="14.7"/>
<rect x="356.6" y="188.3" width="14.7" height="14.7"/>
<rect x="357" y="190.3" width="14.7" height="14.7"/>
<rect x="357.4" y="191.1" width="14.7" height="14.7"/>
<rect x="357.7" y="191.6" width="14.7" height="14.7"/>
<rect x="358.1" y="204" width="14.7" height="14.7"/>
<rect x="358.4" y="200.8" width="14.7" height="14.7"/>
<rect x="358.7" y="182.2" width="14.7" height="14.7"/>
<rect x="358.8" y="188.9" width="14.7" height="14.7"/>
<rect x="359.2" y="187.7" width="14.7" height="14.7"/>
<rect x="359.5" y="190.5" width="14.7" height="14.7"/>
<rect x="359.9" y="187.4" width="14.7" height="14.7"/>
<rect x="360.1" y="182.2" width="14.7" height="14.7"/>
<rect x="360.3" y="204.3" width="14.7" height="14.7"/>
<rect x="360.6" y="191.4" width="14.7" height="14.7"/>
<rect x="361" y="198.2" width="14.7" height="14.7"/>
<rect x="361.3" y="206" width="14.7" height="14.7"/>
<rect x="361.6" y="182.2" width="14.7" height="14.7"/>
<rect x="361.7" y="196.3" width="14.7" height="14.7"/>
<rect x="362.1" y="189.9" width="14.7" height="14.7"/>
<rect x="362.4" y="208" width="14.7" height="14.7"/>
<rect x="362.8" y="208.8" width="14.7" height="14.7"/>
<rect x="363.1" y="192.3" width="14.7" height="14.7"/>
<rect x="363.5" y="198.2" width="14.7" height="14.7"/>
<rect x="363.9" y="212.6" width="14.7" height="14.7"/>
<rect x="363.9" y="211.1" width="14.7" height="14.7"/>
<rect x="364.2" y="194.5" width="14.7" height="14.7"/>
<rect x="364.6" y="187.9" width="14.7" height="14.7"/>
<rect x="365" y="183.6" width="14.7" height="14.7"/>
<rect x="365.3" y="206.1" width="14.7" height="14.7"/>
<rect x="365.7" y="202.4" width="14.7" height="14.7"/>
<rect x="366" y="192" width="14.7" height="14.7"/>
<rect x="366.4" y="195.6" width="14.7" height="14.7"/>
<rect x="366.8" y="195.3" width="14.7" height="14.7"/>
<rect x="367.1" y="189.3" width="14.7" height="14.7"/>
<rect x="367.5" y="207.2" width="14.7" height="14.7"/>
<rect x="367.8" y="198.8" width="14.7" height="14.7"/>
<rect x="368.2" y="188.3" width="14.7" height="14.7"/>
<rect x="368.6" y="182.7" width="14.7" height="14.7"/>
<rect x="368.9" y="194.2" width="14.7" height="14.7"/>
<rect x="369.3" y="191.7" width="14.7" height="14.7"/>
<rect x="369.6" y="202.3" width="14.7" height="14.7"/>
<rect x="370" y="200.2" width="14.7" height="14.7"/>
<rect x="370.4" y="197.6" width="14.7" height="14.7"/>
<rect x="370.7" y="186.3" width="14.7" height="14.7"/>
<rect x="371.1" y="186.3" width="14.7" height="14.7"/>
<rect x="371.5" y="190.4" width="14.7" height="14.7"/>
<rect x="371.8" y="188.9" width="14.7" height="14.7"/>
<rect x="372.2" y="204.1" width="14.7" height="14.7"/>
<rect x="372.5" y="195.3" width="14.7" height="14.7"/>
<rect x="372.9" y="198.3" width="14.7" height="14.7"/>
<rect x="373.1" y="207.6" width="14.7" height="14.7"/>
<rect x="373.3" y="207.2" width="14.7" height="14.7"/>
<rect x="373.6" y="189.1" width="14.7" height="14.7"/>
<rect x="374" y="195.8" width="14.7" height="14.7"/>
<rect x="374.3" y="186.2" width="14.7" height="14.7"/>
<rect x="374.7" y="201.7" width="14.7" height="14.7"/>
<rect x="375.1" y="182.4" width="14.7" height="14.7"/>
<rect x="375.4" y="202.9" width="14.7" height="14.7"/>
<rect x="375.8" y="203.6" width="14.7" height="14.7"/>
<rect x="376.1" y="203" width="14.7" height="14.7"/>
<rect x="376.5" y="184.5" width="14.7" height="14.7"/>
<rect x="376.9" y="189.1" width="14.7" height="14.7"/>
<rect x="377.2" y="200.3" width="14.7" height="14.7"/>
<rect x="377.5" y="173.6" width="14.7" height="14.7"/>
<rect x="377.6" y="177.1" width="14.7" height="14.7"/>
<rect x="378" y="192.3" width="14.7" height="14.7"/>
<rect x="378.3" y="191.9" width="14.7" height="14.7"/>
<rect x="378.7" y="206.1" width="14.7" height="14.7"/>
<rect x="379" y="195.4" width="14.7" height="14.7"/>
<rect x="379.4" y="203.2" width="14.7" height="14.7"/>
<rect x="379.8" y="187.1" width="14.7" height="14.7"/>
<rect x="380.1" y="201.3" width="14.7" height="14.7"/>
<rect x="380.5" y="190.4" width="14.7" height="14.7"/>
<rect x="380.8" y="205" width="14.7" height="14.7"/>
<rect x="381.2" y="180.9" width="14.7" height="14.7"/>
<rect x="381.6" y="202.3" width="14.7" height="14.7"/>
<rect x="381.9" y="184.4" width="14.7" height="14.7"/>
<rect x="382.3" y="194.1" width="14.7" height="14.7"/>
<rect x="382.3" y="210.9" width="14.7" height="14.7"/>
<rect x="382.7" y="194.4" width="14.7" height="14.7"/>
<rect x="383" y="183.1" width="14.7" height="14.7"/>
<rect x="383.4" y="203.8" width="14.7" height="14.7"/>
<rect x="383.7" y="187.9" width="14.7" height="14.7"/>
<rect x="384.1" y="187.8" width="14.7" height="14.7"/>
<rect x="384.5" y="180.6" width="14.7" height="14.7"/>
<rect x="384.8" y="187.7" width="14.7" height="14.7"/>
<rect x="385.2" y="192.6" width="14.7" height="14.7"/>
<rect x="385.5" y="200.3" width="14.7" height="14.7"/>
<rect x="385.9" y="189.3" width="14.7" height="14.7"/>
<rect x="386.3" y="199.4" width="14.7" height="14.7"/>
<rect x="386.6" y="181.5" width="14.7" height="14.7"/>
<rect x="387" y="190.4" width="14.7" height="14.7"/>
<rect x="387.3" y="209.2" width="14.7" height="14.7"/>
<rect x="387.3" y="192.5" width="14.7" height="14.7"/>
<rect x="387.6" y="178.1" width="14.7" height="14.7"/>
<rect x="387.7" y="204.8" width="14.7" height="14.7"/>
<rect x="388.1" y="201" width="14.7" height="14.7"/>
<rect x="388.4" y="196.2" width="14.7" height="14.7"/>
<rect x="388.8" y="178.6" width="14.7" height="14.7"/>
<rect x="389.2" y="188.6" width="14.7" height="14.7"/>
<rect x="389.5" y="197.8" width="14.7" height="14.7"/>
<rect x="389.9" y="184.8" width="14.7" height="14.7"/>
<rect x="390.2" y="193.8" width="14.7" height="14.7"/>
<rect x="390.6" y="190.9" width="14.7" height="14.7"/>
<rect x="391" y="178.6" width="14.7" height="14.7"/>
<rect x="391.3" y="205.5" width="14.7" height="14.7"/>
<rect x="391.7" y="200.2" width="14.7" height="14.7"/>
<rect x="392" y="184" width="14.7" height="14.7"/>
<rect x="392.4" y="195.2" width="14.7" height="14.7"/>
<rect x="392.8" y="186.3" width="14.7" height="14.7"/>
<rect x="393.1" y="188.6" width="14.7" height="14.7"/>
<rect x="393.5" y="193.1" width="14.7" height="14.7"/>
<rect x="393.9" y="186.5" width="14.7" height="14.7"/>
<rect x="394.2" y="187.5" width="14.7" height="14.7"/>
<rect x="394.6" y="189" width="14.7" height="14.7"/>
<rect x="394.9" y="196.6" width="14.7" height="14.7"/>
<rect x="395.3" y="185.3" width="14.7" height="14.7"/>
<rect x="395.7" y="183.8" width="14.7" height="14.7"/>
<rect x="396" y="198.3" width="14.7" height="14.7"/>
<rect x="396.4" y="187.3" width="14.7" height="14.7"/>
<rect x="396.7" y="204.2" width="14.7" height="14.7"/>
<rect x="397.1" y="193.7" width="14.7" height="14.7"/>
<rect x="397.4" y="176.4" width="14.7" height="14.7"/>
<rect x="397.5" y="197.7" width="14.7" height="14.7"/>
<rect x="397.8" y="186.3" width="14.7" height="14.7"/>
<rect x="398.2" y="200.7" width="14.7" height="14.7"/>
<rect x="398.5" y="179.3" width="14.7" height="14.7"/>
<rect x="398.9" y="180.7" width="14.7" height="14.7"/>
<rect x="399.3" y="179.3" width="14.7" height="14.7"/>
<rect x="399.3" y="176.4" width="14.7" height="14.7"/>
<rect x="399.6" y="196.3" width="14.7" height="14.7"/>
<rect x="400" y="197.2" width="14.7" height="14.7"/>
<rect x="400.4" y="181.8" width="14.7" height="14.7"/>
<rect x="400.7" y="188.3" width="14.7" height="14.7"/>
<rect x="401.1" y="201" width="14.7" height="14.7"/>
<rect x="401.2" y="176.4" width="14.7" height="14.7"/>
<rect x="401.4" y="193.8" width="14.7" height="14.7"/>
<rect x="401.8" y="179.2" width="14.7" height="14.7"/>
<rect x="402.2" y="183.2" width="14.7" height="14.7"/>
<rect x="402.5" y="181.2" width="14.7" height="14.7"/>
<rect x="402.9" y="180.2" width="14.7" height="14.7"/>
<rect x="403" y="205.9" width="14.7" height="14.7"/>
<rect x="403.2" y="188.4" width="14.7" height="14.7"/>
<rect x="403.6" y="178.7" width="14.7" height="14.7"/>
<rect x="404" y="203.4" width="14.7" height="14.7"/>
<rect x="404.3" y="189" width="14.7" height="14.7"/>
<rect x="404.7" y="191.5" width="14.7" height="14.7"/>
<rect x="405.1" y="195.4" width="14.7" height="14.7"/>
<rect x="405.2" y="205.9" width="14.7" height="14.7"/>
<rect x="405.4" y="198.9" width="14.7" height="14.7"/>
<rect x="405.8" y="200.5" width="14.7" height="14.7"/>
<rect x="406.1" y="187.8" width="14.7" height="14.7"/>
<rect x="406.5" y="186.2" width="14.7" height="14.7"/>
<rect x="406.9" y="188.6" width="14.7" height="14.7"/>
<rect x="407.2" y="177" width="14.7" height="14.7"/>
<rect x="407.5" y="205.9" width="14.7" height="14.7"/>
<rect x="407.6" y="188.3" width="14.7" height="14.7"/>
<rect x="407.9" y="197" width="14.7" height="14.7"/>
<rect x="408.3" y="205.2" width="14.7" height="14.7"/>
<rect x="408.7" y="199.6" width="14.7" height="14.7"/>
<rect x="409" y="195.8" width="14.7" height="14.7"/>
<rect x="409.4" y="194.3" width="14.7" height="14.7"/>
<rect x="409.7" y="177.1" width="14.7" height="14.7"/>
<rect x="410.1" y="186.2" width="14.7" height="14.7"/>
<rect x="410.5" y="186.6" width="14.7" height="14.7"/>
<rect x="410.8" y="195.5" width="14.7" height="14.7"/>
<rect x="411.2" y="179.7" width="14.7" height="14.7"/>
<rect x="411.6" y="187.6" width="14.7" height="14.7"/>
<rect x="411.9" y="191.4" width="14.7" height="14.7"/>
<rect x="412.3" y="199.5" width="14.7" height="14.7"/>
<rect x="412.6" y="200.6" width="14.7" height="14.7"/>
<rect x="413" y="194.4" width="14.7" height="14.7"/>
<rect x="413.4" y="181.2" width="14.7" height="14.7"/>
<rect x="413.7" y="198.9" width="14.7" height="14.7"/>
<rect x="414.1" y="202.9" width="14.7" height="14.7"/>
<rect x="414.4" y="192.6" width="14.7" height="14.7"/>
<rect x="414.8" y="186.9" width="14.7" height="14.7"/>
<rect x="415.2" y="191.2" width="14.7" height="14.7"/>
<rect x="415.5" y="180.7" width="14.7" height="14.7"/>
<rect x="415.9" y="197.4" width="14.7" height="14.7"/>
<rect x="416.2" y="205.3" width="14.7" height="14.7"/>
<rect x="416.6" y="195.1" width="14.7" height="14.7"/>
<rect x="416.6" y="171.7" width="14.7" height="14.7"/>
<rect x="417" y="199.5" width="14.7" height="14.7"/>
<rect x="417.3" y="202.1" width="14.7" height="14.7"/>
<rect x="417.7" y="188.1" width="14.7" height="14.7"/>
<rect x="418.1" y="204.5" width="14.7" height="14.7"/>
<rect x="418.4" y="197.5" width="14.7" height="14.7"/>
<rect x="418.8" y="188.1" width="14.7" height="14.7"/>
<rect x="419.1" y="185.6" width="14.7" height="14.7"/>
<rect x="419.5" y="189.2" width="14.7" height="14.7"/>
<rect x="419.9" y="196.4" width="14.7" height="14.7"/>
<rect x="420.2" y="199.1" width="14.7" height="14.7"/>
<rect x="420.6" y="191" width="14.7" height="14.7"/>
<rect x="420.9" y="204.1" width="14.7" height="14.7"/>
<rect x="421.3" y="191.7" width="14.7" height="14.7"/>
<rect x="421.7" y="193.9" width="14.7" height="14.7"/>
<rect x="422" y="186.5" width="14.7" height="14.7"/>
<rect x="422.4" y="205.1" width="14.7" height="14.7"/>
<rect x="422.8" y="186.8" width="14.7" height="14.7"/>
<rect x="423.1" y="203.6" width="14.7" height="14.7"/>
<rect x="423.2" y="208.7" width="14.7" height="14.7"/>
<rect x="423.5" y="197.2" width="14.7" height="14.7"/>
<rect x="423.8" y="197.6" width="14.7" height="14.7"/>
<rect x="424.2" y="197.6" width="14.7" height="14.7"/>
<rect x="424.6" y="190.3" width="14.7" height="14.7"/>
<rect x="424.9" y="206.3" width="14.7" height="14.7"/>
<rect x="425.1" y="183.6" width="14.7" height="14.7"/>
<rect x="425.3" y="208.3" width="14.7" height="14.7"/>
<rect x="425.6" y="204" width="14.7" height="14.7"/>
<rect x="426" y="198.7" width="14.7" height="14.7"/>
<rect x="426.4" y="186.8" width="14.7" height="14.7"/>
<rect x="426.7" y="204.2" width="14.7" height="14.7"/>
<rect x="427.1" y="190.9" width="14.7" height="14.7"/>
<rect x="427.4" y="206" width="14.7" height="14.7"/>
<rect x="427.8" y="189.7" width="14.7" height="14.7"/>
<rect x="428.2" y="198" width="14.7" height="14.7"/>
<rect x="428.5" y="204.3" width="14.7" height="14.7"/>
<rect x="428.9" y="188.4" width="14.7" height="14.7"/>
<rect x="429.3" y="197.3" width="14.7" height="14.7"/>
<rect x="429.6" y="185.7" width="14.7" height="14.7"/>
<rect x="430" y="184.6" width="14.7" height="14.7"/>
<rect x="430.3" y="188.2" width="14.7" height="14.7"/>
<rect x="430.7" y="208.2" width="14.7" height="14.7"/>
<rect x="431.1" y="207" width="14.7" height="14.7"/>
<rect x="431.4" y="200.1" width="14.7" height="14.7"/>
<rect x="431.8" y="191.4" width="14.7" height="14.7"/>
<rect x="432.1" y="200.4" width="14.7" height="14.7"/>
<rect x="432.5" y="202" width="14.7" height="14.7"/>
<rect x="432.9" y="193.2" width="14.7" height="14.7"/>
<rect x="433.2" y="198.4" width="14.7" height="14.7"/>
<rect x="433.6" y="203.7" width="14.7" height="14.7"/>
<rect x="433.8" y="168" width="14.7" height="14.7"/>
<rect x="433.9" y="179.3" width="14.7" height="14.7"/>
<rect x="434.3" y="184.7" width="14.7" height="14.7"/>
<rect x="434.7" y="192.7" width="14.7" height="14.7"/>
<rect x="435" y="183" width="14.7" height="14.7"/>
<rect x="435.4" y="190.3" width="14.7" height="14.7"/>
<rect x="435.8" y="195.7" width="14.7" height="14.7"/>
<rect x="436.1" y="184" width="14.7" height="14.7"/>
<rect x="436.5" y="194.2" width="14.7" height="14.7"/>
<rect x="436.8" y="186.6" width="14.7" height="14.7"/>
<rect x="437.2" y="195.7" width="14.7" height="14.7"/>
<rect x="437.6" y="188.7" width="14.7" height="14.7"/>
<rect x="437.8" y="215.6" width="14.7" height="14.7"/>
<rect x="437.9" y="202.3" width="14.7" height="14.7"/>
<rect x="438.1" y="215.6" width="14.7" height="14.7"/>
<rect x="438.3" y="180.2" width="14.7" height="14.7"/>
<rect x="438.4" y="215.6" width="14.7" height="14.7"/>
<rect x="438.6" y="200.6" width="14.7" height="14.7"/>
<rect x="439" y="183.5" width="14.7" height="14.7"/>
<rect x="439.4" y="210" width="14.7" height="14.7"/>
<rect x="439.7" y="198.3" width="14.7" height="14.7"/>
<rect x="440.1" y="194.1" width="14.7" height="14.7"/>
<rect x="440.5" y="192.2" width="14.7" height="14.7"/>
<rect x="440.8" y="199.1" width="14.7" height="14.7"/>
<rect x="441.2" y="201.2" width="14.7" height="14.7"/>
<rect x="441.5" y="203.4" width="14.7" height="14.7"/>
<rect x="441.9" y="203.2" width="14.7" height="14.7"/>
<rect x="442.2" y="178.6" width="14.7" height="14.7"/>
<rect x="442.3" y="197" width="14.7" height="14.7"/>
<rect x="442.6" y="211.2" width="14.7" height="14.7"/>
<rect x="443" y="206.8" width="14.7" height="14.7"/>
<rect x="443.3" y="207.3" width="14.7" height="14.7"/>
<rect x="443.7" y="194.9" width="14.7" height="14.7"/>
<rect x="444.1" y="195.6" width="14.7" height="14.7"/>
<rect x="444.4" y="199.2" width="14.7" height="14.7"/>
<rect x="444.8" y="208.7" width="14.7" height="14.7"/>
<rect x="445.1" y="198.1" width="14.7" height="14.7"/>
<rect x="445.5" y="198.1" width="14.7" height="14.7"/>
<rect x="445.9" y="195.5" width="14.7" height="14.7"/>
<rect x="446.2" y="208.6" width="14.7" height="14.7"/>
<rect x="446.6" y="192.4" width="14.7" height="14.7"/>
<rect x="447" y="185" width="14.7" height="14.7"/>
<rect x="447.3" y="203.7" width="14.7" height="14.7"/>
<rect x="447.7" y="208.5" width="14.7" height="14.7"/>
<rect x="448" y="203.8" width="14.7" height="14.7"/>
<rect x="448.4" y="200.1" width="14.7" height="14.7"/>
<rect x="448.8" y="204.4" width="14.7" height="14.7"/>
<rect x="449.1" y="192" width="14.7" height="14.7"/>
<rect x="449.5" y="200" width="14.7" height="14.7"/>
<rect x="449.8" y="185.4" width="14.7" height="14.7"/>
<rect x="450.2" y="187" width="14.7" height="14.7"/>
<rect x="450.6" y="195.9" width="14.7" height="14.7"/>
<rect x="450.9" y="197.5" width="14.7" height="14.7"/>
<rect x="451.3" y="194.5" width="14.7" height="14.7"/>
<rect x="451.7" y="184.9" width="14.7" height="14.7"/>
<rect x="452" y="202.8" width="14.7" height="14.7"/>
<rect x="452.4" y="198.1" width="14.7" height="14.7"/>
<rect x="452.5" y="183.3" width="14.7" height="14.7"/>
<rect x="452.7" y="190.1" width="14.7" height="14.7"/>
<rect x="453.1" y="192" width="14.7" height="14.7"/>
<rect x="453.5" y="194.5" width="14.7" height="14.7"/>
<rect x="453.8" y="190.1" width="14.7" height="14.7"/>
<rect x="454.1" y="211.5" width="14.7" height="14.7"/>
<rect x="454.2" y="185.4" width="14.7" height="14.7"/>
<rect x="454.5" y="208.8" width="14.7" height="14.7"/>
<rect x="454.9" y="210.4" width="14.7" height="14.7"/>
<rect x="455.3" y="202" width="14.7" height="14.7"/>
<rect x="455.6" y="207.6" width="14.7" height="14.7"/>
<rect x="456" y="195.2" width="14.7" height="14.7"/>
<rect x="456.3" y="205.9" width="14.7" height="14.7"/>
<rect x="456.7" y="189.7" width="14.7" height="14.7"/>
<rect x="457.1" y="204.3" width="14.7" height="14.7"/>
<rect x="457.4" y="199.3" width="14.7" height="14.7"/>
<rect x="457.8" y="208.6" width="14.7" height="14.7"/>
<rect x="458.2" y="186.2" width="14.7" height="14.7"/>
<rect x="458.5" y="205.5" width="14.7" height="14.7"/>
<rect x="458.9" y="186.9" width="14.7" height="14.7"/>
<rect x="459.2" y="198.4" width="14.7" height="14.7"/>
<rect x="459.6" y="209.9" width="14.7" height="14.7"/>
<rect x="460" y="183.5" width="14.7" height="14.7"/>
<rect x="460.3" y="190.3" width="14.7" height="14.7"/>
<rect x="460.6" y="211.5" width="14.7" height="14.7"/>
<rect x="460.7" y="191.8" width="14.7" height="14.7"/>
<rect x="461" y="192.5" width="14.7" height="14.7"/>
<rect x="461.4" y="185.2" width="14.7" height="14.7"/>
<rect x="461.8" y="208.4" width="14.7" height="14.7"/>
<rect x="462.1" y="206.2" width="14.7" height="14.7"/>
<rect x="462.5" y="194.5" width="14.7" height="14.7"/>
<rect x="462.8" y="189.3" width="14.7" height="14.7"/>
<rect x="462.9" y="176.9" width="14.7" height="14.7"/>
<rect x="463.2" y="197.1" width="14.7" height="14.7"/>
<rect x="463.6" y="178.7" width="14.7" height="14.7"/>
<rect x="463.9" y="178.2" width="14.7" height="14.7"/>
<rect x="464.3" y="207.8" width="14.7" height="14.7"/>
<rect x="464.7" y="187.6" width="14.7" height="14.7"/>
<rect x="465" y="194.1" width="14.7" height="14.7"/>
<rect x="465.4" y="209" width="14.7" height="14.7"/>
<rect x="465.7" y="210.5" width="14.7" height="14.7"/>
<rect x="466.1" y="193.3" width="14.7" height="14.7"/>
<rect x="466.5" y="184.2" width="14.7" height="14.7"/>
<rect x="466.8" y="187.2" width="14.7" height="14.7"/>
<rect x="467" y="211.5" width="14.7" height="14.7"/>
<rect x="467.2" y="208.7" width="14.7" height="14.7"/>
<rect x="467.5" y="207.8" width="14.7" height="14.7"/>
<rect x="467.9" y="183.8" width="14.7" height="14.7"/>
<rect x="468.3" y="205.8" width="14.7" height="14.7"/>
<rect x="468.4" y="170.8" width="14.7" height="14.7"/>
<rect x="468.6" y="193.3" width="14.7" height="14.7"/>
<rect x="469" y="196.6" width="14.7" height="14.7"/>
<rect x="469.4" y="188.2" width="14.7" height="14.7"/>
<rect x="469.7" y="207.9" width="14.7" height="14.7"/>
<rect x="470.1" y="211.2" width="14.7" height="14.7"/>
<rect x="470.4" y="189" width="14.7" height="14.7"/>
<rect x="470.8" y="201" width="14.7" height="14.7"/>
<rect x="471.2" y="188.7" width="14.7" height="14.7"/>
<rect x="471.5" y="208" width="14.7" height="14.7"/>
<rect x="471.9" y="184.8" width="14.7" height="14.7"/>
<rect x="472.2" y="186.4" width="14.7" height="14.7"/>
<rect x="472.6" y="203.6" width="14.7" height="14.7"/>
<rect x="473" y="192.1" width="14.7" height="14.7"/>
<rect x="473.3" y="208.5" width="14.7" height="14.7"/>
<rect x="473.5" y="211.5" width="14.7" height="14.7"/>
<rect x="473.7" y="205.7" width="14.7" height="14.7"/>
<rect x="474" y="201.7" width="14.7" height="14.7"/>
<rect x="474.4" y="186.9" width="14.7" height="14.7"/>
<rect x="474.8" y="201.2" width="14.7" height="14.7"/>
<rect x="475.1" y="207.4" width="14.7" height="14.7"/>
<rect x="475.5" y="194.8" width="14.7" height="14.7"/>
<rect x="475.9" y="185.4" width="14.7" height="14.7"/>
<rect x="476.2" y="189.1" width="14.7" height="14.7"/>
<rect x="476.6" y="191.3" width="14.7" height="14.7"/>
<rect x="476.9" y="201.6" width="14.7" height="14.7"/>
<rect x="477.3" y="183.2" width="14.7" height="14.7"/>
<rect x="477.3" y="188.4" width="14.7" height="14.7"/>
<rect x="477.7" y="188" width="14.7" height="14.7"/>
<rect x="478" y="189.4" width="14.7" height="14.7"/>
<rect x="478.4" y="200.4" width="14.7" height="14.7"/>
<rect x="478.7" y="203.6" width="14.7" height="14.7"/>
<rect x="479.1" y="192.9" width="14.7" height="14.7"/>
<rect x="479.5" y="200.3" width="14.7" height="14.7"/>
<rect x="479.8" y="206" width="14.7" height="14.7"/>
<rect x="480.2" y="198.5" width="14.7" height="14.7"/>
<rect x="480.6" y="189.3" width="14.7" height="14.7"/>
<rect x="480.9" y="191.1" width="14.7" height="14.7"/>
<rect x="481.3" y="207.1" width="14.7" height="14.7"/>
<rect x="481.6" y="200.5" width="14.7" height="14.7"/>
<rect x="482" y="190.5" width="14.7" height="14.7"/>
<rect x="482.4" y="199.8" width="14.7" height="14.7"/>
<rect x="482.7" y="185.7" width="14.7" height="14.7"/>
<rect x="483.1" y="208.6" width="14.7" height="14.7"/>
<rect x="483.4" y="194.7" width="14.7" height="14.7"/>
<rect x="483.8" y="196.9" width="14.7" height="14.7"/>
<rect x="484.2" y="197" width="14.7" height="14.7"/>
<rect x="484.5" y="184.6" width="14.7" height="14.7"/>
<rect x="484.9" y="198.8" width="14.7" height="14.7"/>
<rect x="485.2" y="190.7" width="14.7" height="14.7"/>
<rect x="485.6" y="189.8" width="14.7" height="14.7"/>
<rect x="485.8" y="209.2" width="14.7" height="14.7"/>
<rect x="486" y="204" width="14.7" height="14.7"/>
<rect x="486.2" y="176.2" width="14.7" height="14.7"/>
<rect x="486.3" y="179.2" width="14.7" height="14.7"/>
<rect x="486.7" y="185.7" width="14.7" height="14.7"/>
<rect x="487.1" y="201" width="14.7" height="14.7"/>
<rect x="487.4" y="184.4" width="14.7" height="14.7"/>
<rect x="487.8" y="185.5" width="14.7" height="14.7"/>
<rect x="488.1" y="194.3" width="14.7" height="14.7"/>
<rect x="488.5" y="182.5" width="14.7" height="14.7"/>
<rect x="488.9" y="205.6" width="14.7" height="14.7"/>
<rect x="489.2" y="208.6" width="14.7" height="14.7"/>
<rect x="489.6" y="177.5" width="14.7" height="14.7"/>
<rect x="489.9" y="191.4" width="14.7" height="14.7"/>
<rect x="490.3" y="200.9" width="14.7" height="14.7"/>
<rect x="490.7" y="188.9" width="14.7" height="14.7"/>
<rect x="491" y="206.7" width="14.7" height="14.7"/>
<rect x="491.4" y="192.7" width="14.7" height="14.7"/>
<rect x="491.8" y="182.3" width="14.7" height="14.7"/>
<rect x="492.1" y="194.5" width="14.7" height="14.7"/>
<rect x="492.5" y="197.4" width="14.7" height="14.7"/>
<rect x="492.8" y="188.1" width="14.7" height="14.7"/>
<rect x="493.2" y="197.9" width="14.7" height="14.7"/>
<rect x="493.6" y="201.9" width="14.7" height="14.7"/>
<rect x="493.9" y="193.2" width="14.7" height="14.7"/>
<rect x="494.3" y="192.9" width="14.7" height="14.7"/>
<rect x="494.6" y="204" width="14.7" height="14.7"/>
<rect x="495" y="198.7" width="14.7" height="14.7"/>
<rect x="495.4" y="193.4" width="14.7" height="14.7"/>
<rect x="495.7" y="207.4" width="14.7" height="14.7"/>
<rect x="496.1" y="182.1" width="14.7" height="14.7"/>
<rect x="496.4" y="201.8" width="14.7" height="14.7"/>
<rect x="496.8" y="181.8" width="14.7" height="14.7"/>
<rect x="497.2" y="196.2" width="14.7" height="14.7"/>
<rect x="497.5" y="184.1" width="14.7" height="14.7"/>
<rect x="497.9" y="190.3" width="14.7" height="14.7"/>
<rect x="497.9" y="210.9" width="14.7" height="14.7"/>
<rect x="498.3" y="200.8" width="14.7" height="14.7"/>
<rect x="498.4" y="167.8" width="14.7" height="14.7"/>
<rect x="498.6" y="199.4" width="14.7" height="14.7"/>
<rect x="499" y="199.6" width="14.7" height="14.7"/>
<rect x="499.3" y="177.4" width="14.7" height="14.7"/>
<rect x="499.7" y="187.5" width="14.7" height="14.7"/>
<rect x="500.1" y="176.8" width="14.7" height="14.7"/>
<rect x="500.4" y="191.1" width="14.7" height="14.7"/>
<rect x="500.8" y="187.9" width="14.7" height="14.7"/>
<rect x="501.1" y="169.4" width="14.7" height="14.7"/>
<rect x="501.5" y="191.8" width="14.7" height="14.7"/>
<rect x="501.9" y="196.5" width="14.7" height="14.7"/>
<rect x="502.2" y="190.8" width="14.7" height="14.7"/>
<rect x="502.6" y="202.8" width="14.7" height="14.7"/>
<rect x="502.9" y="175.2" width="14.7" height="14.7"/>
<rect x="503.3" y="174.1" width="14.7" height="14.7"/>
<rect x="503.7" y="168.7" width="14.7" height="14.7"/>
<rect x="504" y="187.8" width="14.7" height="14.7"/>
<rect x="504.4" y="185.3" width="14.7" height="14.7"/>
<rect x="504.8" y="185.6" width="14.7" height="14.7"/>
<rect x="505.1" y="208.1" width="14.7" height="14.7"/>
<rect x="505.1" y="178.5" width="14.7" height="14.7"/>
<rect x="505.5" y="195" width="14.7" height="14.7"/>
<rect x="505.8" y="170.5" width="14.7" height="14.7"/>
<rect x="506.2" y="198.7" width="14.7" height="14.7"/>
<rect x="506.6" y="187.2" width="14.7" height="14.7"/>
<rect x="506.9" y="186.4" width="14.7" height="14.7"/>
<rect x="507.3" y="194.8" width="14.7" height="14.7"/>
<rect x="507.6" y="176" width="14.7" height="14.7"/>
<rect x="508" y="172.9" width="14.7" height="14.7"/>
<rect x="508.4" y="178.5" width="14.7" height="14.7"/>
<rect x="508.6" y="165.8" width="14.7" height="14.7"/>
<rect x="508.7" y="167.5" width="14.7" height="14.7"/>
<rect x="509.1" y="177.3" width="14.7" height="14.7"/>
<rect x="509.5" y="188.2" width="14.7" height="14.7"/>
<rect x="509.8" y="184.8" width="14.7" height="14.7"/>
<rect x="510.2" y="175.5" width="14.7" height="14.7"/>
<rect x="510.5" y="187.1" width="14.7" height="14.7"/>
<rect x="510.9" y="169.2" width="14.7" height="14.7"/>
<rect x="511.3" y="195.4" width="14.7" height="14.7"/>
<rect x="511.6" y="172.1" width="14.7" height="14.7"/>
<rect x="512" y="175.1" width="14.7" height="14.7"/>
<rect x="512.3" y="171.7" width="14.7" height="14.7"/>
<rect x="512.7" y="190.7" width="14.7" height="14.7"/>
<rect x="513.1" y="195.7" width="14.7" height="14.7"/>
<rect x="513.4" y="194.2" width="14.7" height="14.7"/>
<rect x="513.8" y="168.2" width="14.7" height="14.7"/>
<rect x="514.1" y="180.7" width="14.7" height="14.7"/>
<rect x="514.5" y="179" width="14.7" height="14.7"/>
<rect x="514.9" y="173.7" width="14.7" height="14.7"/>
<rect x="515.1" y="202" width="14.7" height="14.7"/>
<rect x="515.2" y="200.7" width="14.7" height="14.7"/>
<rect x="515.6" y="167.5" width="14.7" height="14.7"/>
<rect x="515.9" y="157.5" width="14.7" height="14.7"/>
<rect x="516" y="185.9" width="14.7" height="14.7"/>
<rect x="516.3" y="194.4" width="14.7" height="14.7"/>
<rect x="516.7" y="201.4" width="14.7" height="14.7"/>
<rect x="517" y="175.1" width="14.7" height="14.7"/>
<rect x="517.4" y="184.8" width="14.7" height="14.7"/>
<rect x="517.8" y="193.8" width="14.7" height="14.7"/>
<rect x="518.1" y="171.8" width="14.7" height="14.7"/>
<rect x="518.5" y="178.1" width="14.7" height="14.7"/>
<rect x="518.8" y="198.4" width="14.7" height="14.7"/>
<rect x="519.2" y="175" width="14.7" height="14.7"/>
<rect x="519.6" y="182.9" width="14.7" height="14.7"/>
<rect x="519.9" y="179.9" width="14.7" height="14.7"/>
<rect x="520.3" y="183.8" width="14.7" height="14.7"/>
<rect x="520.6" y="170.4" width="14.7" height="14.7"/>
<rect x="520.6" y="180.5" width="14.7" height="14.7"/>
<rect x="521" y="179.5" width="14.7" height="14.7"/>
<rect x="521.4" y="201.7" width="14.7" height="14.7"/>
<rect x="521.7" y="196.3" width="14.7" height="14.7"/>
<rect x="522.1" y="195.7" width="14.7" height="14.7"/>
<rect x="522.5" y="184" width="14.7" height="14.7"/>
<rect x="522.8" y="184.5" width="14.7" height="14.7"/>
<rect x="523.2" y="191.4" width="14.7" height="14.7"/>
<rect x="523.5" y="184.3" width="14.7" height="14.7"/>
<rect x="523.9" y="189.4" width="14.7" height="14.7"/>
<rect x="524.3" y="200.2" width="14.7" height="14.7"/>
<rect x="524.6" y="187.1" width="14.7" height="14.7"/>
<rect x="525" y="186.5" width="14.7" height="14.7"/>
<rect x="525.2" y="207.6" width="14.7" height="14.7"/>
<rect x="525.3" y="206.9" width="14.7" height="14.7"/>
<rect x="525.7" y="196.2" width="14.7" height="14.7"/>
<rect x="526.1" y="179.8" width="14.7" height="14.7"/>
<rect x="526.4" y="190.3" width="14.7" height="14.7"/>
<rect x="526.8" y="197.3" width="14.7" height="14.7"/>
<rect x="527.2" y="180.4" width="14.7" height="14.7"/>
<rect x="527.5" y="188.5" width="14.7" height="14.7"/>
<rect x="527.9" y="198.6" width="14.7" height="14.7"/>
<rect x="528.2" y="203.5" width="14.7" height="14.7"/>
<rect x="528.4" y="147.8" width="14.7" height="14.7"/>
<rect x="528.6" y="195.7" width="14.7" height="14.7"/>
<rect x="529" y="204.1" width="14.7" height="14.7"/>
<rect x="529.3" y="192" width="14.7" height="14.7"/>
<rect x="529.7" y="190" width="14.7" height="14.7"/>
<rect x="530" y="202.9" width="14.7" height="14.7"/>
<rect x="530.4" y="189.6" width="14.7" height="14.7"/>
<rect x="530.8" y="201.1" width="14.7" height="14.7"/>
<rect x="531.1" y="184.9" width="14.7" height="14.7"/>
<rect x="531.5" y="188.7" width="14.7" height="14.7"/>
<rect x="531.8" y="184" width="14.7" height="14.7"/>
<rect x="532.2" y="194.5" width="14.7" height="14.7"/>
<rect x="532.6" y="183.4" width="14.7" height="14.7"/>
<rect x="532.9" y="184.5" width="14.7" height="14.7"/>
<rect x="533.3" y="184.9" width="14.7" height="14.7"/>
<rect x="533.7" y="207.2" width="14.7" height="14.7"/>
<rect x="534" y="184.6" width="14.7" height="14.7"/>
<rect x="534.4" y="180.8" width="14.7" height="14.7"/>
<rect x="534.7" y="179.2" width="14.7" height="14.7"/>
<rect x="534.8" y="208.1" width="14.7" height="14.7"/>
<rect x="535.1" y="183.6" width="14.7" height="14.7"/>
<rect x="536.3" y="178.5" width="14.7" height="14.7"/>
<rect x="536.5" y="178.5" width="14.7" height="14.7"/>
<rect x="536.8" y="178.5" width="14.7" height="14.7"/>
</g>
<g class="lab">
<text x="77" y="344.4" text-anchor="end" textLength="20.8" lengthAdjust="spacingAndGlyphs">27</text>
<text x="77" y="315" text-anchor="end" textLength="20.8" lengthAdjust="spacingAndGlyphs">28</text>
<text x="77" y="285.6" text-anchor="end" textLength="20.8" lengthAdjust="spacingAndGlyphs">29</text>
<text x="77" y="256.2" text-anchor="end" textLength="20.8" lengthAdjust="spacingAndGlyphs">30</text>
<text x="77" y="226.7" text-anchor="end" textLength="20.8" lengthAdjust="spacingAndGlyphs">31</text>
<text x="77" y="197.3" text-anchor="end" textLength="20.8" lengthAdjust="spacingAndGlyphs">32</text>
<text x="77" y="167.9" text-anchor="end" textLength="20.8" lengthAdjust="spacingAndGlyphs">33</text>
<text x="77" y="138.5" text-anchor="end" textLength="20.8" lengthAdjust="spacingAndGlyphs">34</text>
<text x="94.8" y="370.2" text-anchor="middle" textLength="10.2" lengthAdjust="spacingAndGlyphs">0</text>
<text x="167.1" y="370.2" text-anchor="middle" textLength="30.6" lengthAdjust="spacingAndGlyphs">200</text>
<text x="239.3" y="370.2" text-anchor="middle" textLength="30.6" lengthAdjust="spacingAndGlyphs">400</text>
<text x="311.6" y="370.2" text-anchor="middle" textLength="30.6" lengthAdjust="spacingAndGlyphs">600</text>
<text x="383.8" y="370.2" text-anchor="middle" textLength="30.6" lengthAdjust="spacingAndGlyphs">800</text>
<text x="456.1" y="370.2" text-anchor="middle" textLength="40.8" lengthAdjust="spacingAndGlyphs">1000</text>
<text x="528.3" y="370.2" text-anchor="middle" textLength="40.8" lengthAdjust="spacingAndGlyphs">1200</text>
<text x="600.5" y="370.2" text-anchor="middle" textLength="40.8" lengthAdjust="spacingAndGlyphs">1400</text>
<text x="672.8" y="370.2" text-anchor="middle" textLength="40.8" lengthAdjust="spacingAndGlyphs">1600</text>
</g>
<text class="b" x="336.0" y="400.3" font-size="16.4" textLength="96" lengthAdjust="spacingAndGlyphs">Tally No. (-)</text>
<text class="b" transform="translate(44.7 374.9) rotate(-90)" font-size="16.6"><tspan x="0.1" textLength="36.5" lengthAdjust="spacingAndGlyphs">Wall</tspan> <tspan x="41.2" textLength="78.8" lengthAdjust="spacingAndGlyphs">Thickness</tspan> <tspan x="123.9" textLength="17" lengthAdjust="spacingAndGlyphs">at</tspan> <tspan x="149.4" textLength="37.9" lengthAdjust="spacingAndGlyphs">Ends</tspan> <tspan x="191.5" textLength="44.8" lengthAdjust="spacingAndGlyphs">(mm)</tspan></text>
</svg></body></html>
